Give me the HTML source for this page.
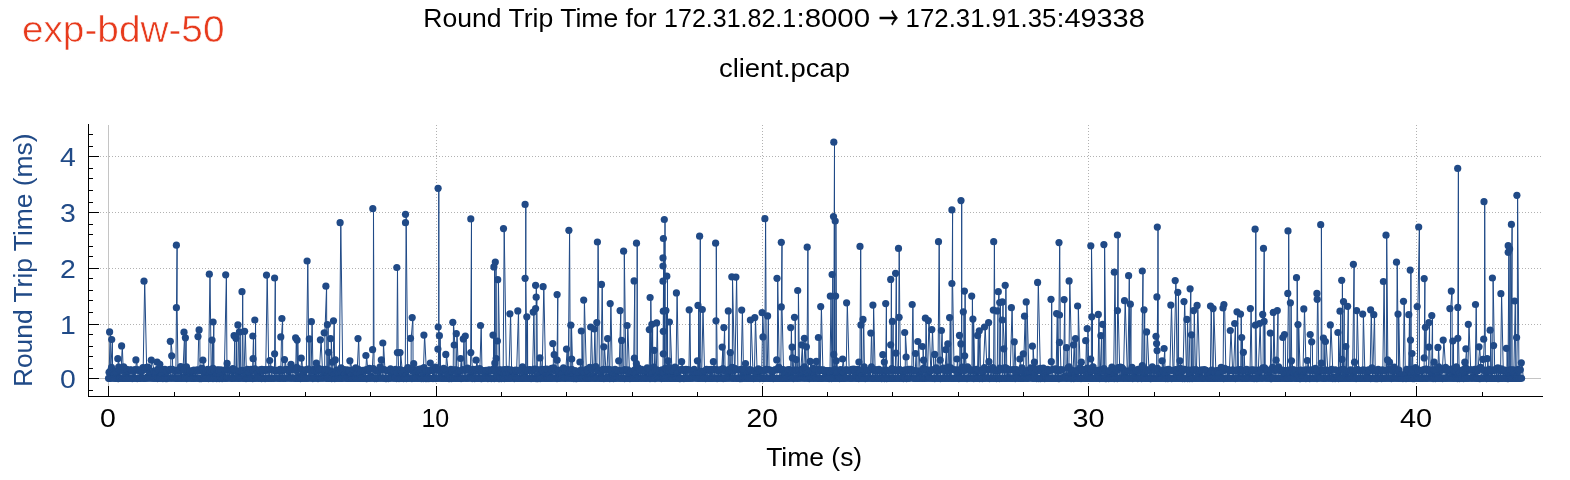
<!DOCTYPE html><html><head><meta charset="utf-8"><title>Round Trip Time</title><style>html,body{margin:0;padding:0;background:#fff}svg{display:block;will-change:transform}text{font-family:"Liberation Sans",sans-serif}</style></head><body>
<svg width="1570" height="480" viewBox="0 0 1570 480">
<rect width="1570" height="480" fill="#fff"/>
<g stroke="#b2b2b2" stroke-width="1" stroke-dasharray="1 2" fill="none" shape-rendering="crispEdges">
<line x1="100" y1="324.5" x2="1541" y2="324.5"/>
<line x1="100" y1="268.5" x2="1541" y2="268.5"/>
<line x1="100" y1="212.5" x2="1541" y2="212.5"/>
<line x1="100" y1="156.5" x2="1541" y2="156.5"/>
<line x1="436.5" y1="125" x2="436.5" y2="386"/>
<line x1="762.5" y1="125" x2="762.5" y2="386"/>
<line x1="1088.5" y1="125" x2="1088.5" y2="386"/>
<line x1="1416.5" y1="125" x2="1416.5" y2="386"/>
</g>
<g stroke="#c4c4c4" stroke-width="1" shape-rendering="crispEdges"><line x1="108.5" y1="125" x2="108.5" y2="386"/>
<line x1="99" y1="378.5" x2="1541" y2="378.5"/></g>
<polyline points="108.2,379.1 109.6,331.9 109.6,378.7 111.7,339.5 111.9,377.5 112.5,378.9 112.9,378.0 113.4,372.3 113.7,378.2 114.2,374.6 114.9,378.0 115.7,371.2 115.7,378.4 116.0,378.9 117.8,358.7 119.4,377.6 119.5,378.1 120.0,378.1 121.6,345.9 122.8,377.7 123.4,378.3 123.7,366.9 124.2,378.0 125.0,378.4 125.5,375.3 126.0,378.2 126.7,369.3 127.0,378.3 127.9,378.5 128.2,371.1 129.0,378.1 130.1,378.3 130.3,369.7 131.3,370.1 131.3,378.5 132.2,378.6 132.3,370.8 132.9,378.2 133.9,371.3 134.0,378.9 135.9,359.9 137.6,378.6 138.1,378.4 138.7,369.8 139.2,378.4 139.8,371.1 140.1,378.5 140.7,370.5 141.4,378.3 142.0,371.1 142.3,378.9 144.0,281.2 146.2,378.4 146.7,367.4 146.9,378.0 147.4,376.9 147.9,378.1 148.0,367.0 148.6,378.0 149.8,373.0 149.8,378.0 150.0,378.0 151.3,360.2 153.5,371.1 153.5,377.5 154.1,378.5 155.3,378.1 155.7,373.3 155.8,379.2 157.1,362.2 158.0,378.9 159.0,378.6 159.8,364.3 162.0,378.2 162.2,374.3 162.9,378.6 163.1,369.5 164.1,378.3 164.9,369.4 165.1,378.4 165.9,378.6 166.1,371.1 167.0,378.6 167.2,371.2 168.2,378.2 168.8,377.9 170.0,377.8 170.3,341.3 171.7,355.8 172.2,377.5 173.7,378.7 174.0,370.3 174.2,378.0 174.3,377.6 175.1,379.3 176.4,245.2 176.4,307.7 177.4,378.3 178.6,378.2 179.2,378.3 179.8,370.1 180.2,378.0 180.6,366.6 180.9,378.2 181.8,378.5 182.0,377.6 184.0,332.2 184.3,378.2 185.4,337.8 185.7,379.2 186.3,377.3 186.5,366.7 186.7,378.6 187.8,378.1 188.3,370.6 188.7,378.1 189.7,371.2 189.9,378.3 190.3,371.0 191.0,378.2 191.8,371.3 191.9,378.5 192.7,370.8 193.2,378.5 193.9,370.0 194.3,378.5 195.4,370.6 195.5,378.1 196.5,379.2 197.0,378.5 198.0,336.6 199.1,329.9 199.4,378.1 201.1,377.8 201.5,378.6 201.6,378.1 202.9,360.2 204.4,378.6 205.3,378.5 205.5,370.9 206.3,378.4 207.4,378.0 207.6,369.3 207.7,378.5 209.3,274.2 210.6,379.3 210.7,378.1 210.9,377.3 212.0,340.1 212.2,379.0 213.1,322.0 213.3,377.5 214.5,378.7 215.3,378.5 216.1,375.5 216.1,378.0 216.8,378.6 217.3,369.7 218.0,378.1 218.5,370.0 219.1,370.4 219.2,378.6 219.8,375.6 220.3,378.2 220.9,369.7 221.3,378.0 222.1,378.6 222.8,375.3 223.1,378.3 223.5,378.5 225.7,274.8 226.3,377.8 227.1,363.4 227.8,378.5 228.5,378.5 229.1,370.1 229.3,378.0 230.6,378.2 230.7,369.9 231.6,378.4 231.9,371.1 232.8,368.5 232.8,378.2 233.2,378.1 234.1,335.7 234.5,378.8 235.7,378.3 235.9,338.3 236.2,378.5 236.9,378.9 237.1,377.4 237.9,324.9 238.9,379.0 239.4,331.9 240.2,379.1 241.3,379.1 242.0,291.7 242.5,378.5 243.2,379.0 244.6,331.3 245.8,378.1 246.0,378.6 246.5,370.8 247.0,378.4 247.3,369.4 248.0,378.3 249.1,378.3 249.2,372.6 250.1,378.3 251.0,369.3 251.4,378.4 251.5,378.4 251.6,378.5 252.8,336.0 253.1,358.7 253.2,377.4 254.7,378.0 254.8,320.0 255.3,379.1 257.1,378.2 257.3,378.0 258.4,376.9 258.4,378.5 259.4,369.9 259.7,378.1 260.4,370.4 260.8,378.4 261.6,378.6 261.8,369.3 262.9,370.9 262.9,378.1 264.1,378.2 264.9,379.2 266.5,275.1 268.2,378.4 268.4,378.5 269.7,360.5 271.5,378.7 271.7,378.4 272.4,377.9 273.7,377.4 274.6,278.0 274.6,353.8 275.4,379.1 276.6,378.6 277.3,378.1 278.1,378.2 278.6,371.0 278.8,378.1 280.0,378.5 280.8,336.9 281.9,318.5 282.0,377.8 282.8,378.9 283.5,378.0 284.5,359.6 286.7,379.2 287.7,369.4 287.9,378.0 288.5,371.2 289.1,378.3 289.8,369.7 289.8,378.1 291.0,364.3 292.6,378.0 292.9,378.0 293.6,378.4 294.9,377.8 295.6,337.8 296.7,378.8 297.1,340.1 297.9,378.3 298.5,378.5 298.8,376.0 299.0,379.0 301.2,358.2 302.2,378.1 303.4,378.2 303.6,374.4 304.4,378.4 305.4,370.6 305.5,377.4 307.1,261.0 308.3,377.9 309.3,338.9 309.3,378.0 309.7,378.9 310.3,378.7 311.4,321.7 312.4,378.3 312.8,378.6 313.8,369.4 313.9,378.1 314.6,371.1 314.8,378.2 315.3,378.9 316.3,363.1 318.2,377.8 318.3,377.7 320.4,339.8 322.1,377.5 322.4,377.3 323.9,379.0 324.2,332.8 325.9,286.2 326.1,379.1 326.2,378.8 326.8,379.0 327.4,324.6 327.7,379.3 328.6,352.3 329.4,378.4 329.5,377.9 330.3,377.8 330.4,378.4 330.6,338.6 331.7,378.9 331.8,377.6 332.4,362.2 333.5,320.8 334.0,377.9 334.5,378.7 334.5,378.8 335.3,359.9 336.2,378.8 336.4,370.3 337.1,378.0 337.6,370.0 338.1,378.3 338.5,373.4 338.6,377.6 340.1,222.7 342.1,377.5 342.8,378.1 343.0,370.6 343.6,378.0 344.0,369.5 344.5,378.0 345.0,374.1 345.7,378.3 346.4,371.1 346.7,378.4 347.1,369.7 347.9,378.3 348.6,377.6 349.9,360.8 352.0,377.4 352.3,378.0 353.2,378.5 353.3,369.9 354.0,378.5 355.2,371.1 355.3,378.3 355.8,367.7 356.1,378.6 358.0,338.6 358.9,377.5 359.1,378.1 360.0,373.2 360.0,378.5 360.9,371.2 360.9,378.3 361.6,378.0 362.4,378.4 363.1,370.2 363.6,378.4 364.4,378.3 364.5,371.1 364.7,379.0 365.9,355.5 367.7,378.1 367.9,370.9 368.3,378.0 368.7,369.9 369.2,378.5 369.5,368.3 370.5,378.3 370.8,378.9 371.1,378.0 372.6,349.7 372.8,208.7 373.4,377.8 374.7,378.4 374.7,378.6 375.3,370.4 375.5,378.5 376.5,378.6 376.6,370.8 377.6,378.1 378.6,371.2 378.9,378.3 379.5,378.1 381.3,359.9 381.6,377.7 382.3,377.9 382.8,343.0 384.7,378.0 385.5,370.2 385.5,378.6 386.6,378.6 387.5,378.2 387.6,370.7 388.4,378.6 388.8,370.9 389.5,378.2 390.4,378.1 390.5,368.7 391.2,378.0 391.7,375.3 392.4,378.1 393.6,378.1 393.7,370.4 394.5,378.3 395.3,378.2 395.6,378.6 396.0,379.2 396.8,267.5 397.4,352.6 398.3,377.8 398.9,378.3 399.6,378.2 400.0,352.6 402.1,377.8 402.5,373.5 402.8,378.2 403.6,378.6 404.1,378.3 404.5,378.8 405.5,214.3 405.5,222.7 407.1,377.6 407.8,367.5 407.8,378.1 408.1,378.3 408.4,378.1 410.4,379.1 410.5,338.3 412.2,317.6 412.4,377.9 412.6,377.5 413.7,363.7 414.1,378.6 415.3,378.2 415.5,378.1 416.4,378.3 417.3,370.9 417.6,378.5 418.3,369.4 418.5,378.2 419.6,378.2 419.8,370.3 420.5,378.0 421.0,368.9 421.3,378.6 422.1,378.3 422.4,379.1 423.9,335.1 426.1,379.2 427.0,378.6 427.1,371.1 427.8,378.0 428.5,371.3 428.8,377.6 430.3,363.1 432.5,379.1 432.7,370.8 433.0,378.6 433.4,369.5 433.9,378.0 434.7,378.3 435.5,367.0 435.8,378.6 436.1,378.1 436.2,378.8 437.3,378.9 437.9,349.1 438.0,378.9 438.1,188.3 438.2,327.0 439.3,378.2 439.4,335.7 440.0,379.3 440.2,378.0 440.5,378.8 440.8,371.3 441.5,378.4 442.4,370.6 442.4,378.0 443.3,378.4 443.6,368.4 444.4,378.0 444.9,377.7 445.8,354.4 448.1,378.1 448.7,378.6 449.8,378.6 450.0,375.7 450.8,378.1 450.9,369.3 451.4,379.1 452.5,377.5 452.8,322.3 454.2,345.0 454.5,379.2 454.7,378.2 455.5,377.4 456.3,333.7 458.0,379.3 458.3,378.4 458.7,371.2 459.2,378.1 460.6,358.5 461.1,378.4 461.9,377.6 463.3,338.9 464.1,378.3 465.0,378.2 465.3,336.0 466.6,378.2 467.0,378.4 467.6,368.0 468.3,378.1 468.5,377.7 469.8,378.9 470.8,218.9 470.8,352.6 472.1,379.1 472.4,377.4 473.0,369.3 473.4,378.5 474.5,370.6 474.7,378.6 474.9,378.2 476.1,360.2 478.1,378.4 478.5,370.8 478.5,378.2 478.9,377.4 480.5,325.5 481.4,378.6 481.8,378.6 482.0,371.0 482.6,378.2 483.5,370.6 483.8,378.5 484.8,378.0 485.5,373.8 485.8,378.2 486.2,370.3 487.0,378.1 487.9,378.6 488.2,370.4 488.7,378.2 489.4,369.8 489.8,378.5 490.6,378.0 491.2,379.1 492.6,378.4 493.0,335.1 493.4,377.9 493.7,378.3 493.9,266.9 494.4,378.9 494.8,363.1 494.8,378.6 495.1,377.7 495.3,262.1 495.7,377.4 495.9,378.0 496.0,378.1 496.2,358.5 497.0,378.2 497.3,378.9 497.4,341.0 497.7,279.7 499.3,378.9 499.5,378.4 499.6,378.6 499.8,370.9 500.3,378.1 500.9,369.7 501.3,378.6 501.6,371.2 502.4,378.6 503.5,228.6 505.8,378.4 505.9,374.3 506.3,378.5 507.4,369.3 507.5,378.4 508.1,378.0 509.9,313.8 510.9,369.9 510.9,377.8 511.2,378.1 512.0,378.0 512.4,370.9 513.0,378.2 513.3,370.9 514.3,378.6 514.8,375.9 515.4,370.1 515.6,378.1 515.7,378.2 517.8,310.9 518.6,379.0 519.2,371.0 519.2,378.4 520.3,378.5 521.4,371.2 521.5,378.4 522.3,378.5 522.5,366.8 523.1,377.9 523.2,378.7 524.9,378.9 525.1,204.4 525.1,278.3 526.3,378.0 526.8,316.8 527.0,377.8 528.5,379.3 529.2,369.6 529.2,378.3 530.0,378.5 530.9,369.8 531.1,378.6 531.8,377.3 533.2,312.1 534.3,377.4 534.3,378.9 534.8,378.1 535.5,379.1 535.6,285.3 535.6,308.6 536.2,297.2 536.7,378.4 537.2,378.8 537.7,378.8 538.0,378.6 538.7,369.8 538.8,377.3 539.9,357.9 541.3,378.6 541.4,377.8 543.1,286.7 545.0,378.2 545.6,375.9 545.6,378.0 546.5,378.4 546.9,369.0 547.3,378.2 548.1,378.5 548.8,370.9 549.2,378.0 549.6,374.9 549.9,378.2 550.9,377.7 550.9,378.4 552.5,377.7 552.8,343.6 554.2,354.7 554.6,378.4 555.4,378.8 555.8,378.0 556.1,377.9 557.1,294.6 557.1,360.2 558.0,378.8 558.2,377.5 558.3,378.2 558.4,370.0 559.0,370.9 559.1,378.5 559.9,378.0 560.4,376.5 561.1,378.2 561.8,373.8 562.3,378.2 563.4,367.9 563.6,378.3 564.4,378.0 564.6,377.5 566.5,349.1 567.3,379.1 567.5,377.8 568.9,230.3 569.6,378.7 570.1,379.2 570.5,379.2 570.8,325.2 571.7,359.0 572.7,378.4 573.9,377.3 574.7,370.7 575.2,378.3 575.7,370.7 575.9,378.6 576.8,378.6 577.0,376.6 577.9,378.5 578.6,373.3 578.6,377.7 579.2,379.0 579.9,362.0 581.2,378.2 581.3,331.0 582.1,377.9 582.5,378.3 582.6,370.5 582.9,377.8 583.7,300.1 585.8,377.7 586.5,378.5 586.6,369.3 587.3,371.2 587.3,378.5 588.0,378.4 588.2,371.2 589.1,378.4 589.7,377.5 590.7,327.0 592.1,377.7 592.1,378.3 592.4,369.5 593.0,378.2 594.2,329.0 595.2,378.4 595.2,378.7 595.9,377.9 596.8,322.6 597.4,242.0 598.8,378.0 599.4,378.3 599.6,378.3 600.2,379.1 601.5,284.4 602.5,378.5 602.9,379.1 603.8,346.8 605.7,378.4 606.0,377.4 607.6,338.6 608.8,379.0 608.9,378.6 610.2,303.6 611.7,377.7 611.8,378.0 612.7,378.5 613.0,375.1 613.5,378.6 614.4,378.5 615.1,369.2 615.2,378.3 615.8,375.5 616.4,378.1 617.0,379.3 618.2,377.8 618.7,360.8 620.1,310.6 620.1,377.7 620.6,377.6 621.0,377.5 621.6,340.4 622.7,379.0 623.2,378.9 623.6,251.2 625.3,377.6 625.6,378.4 626.0,378.2 627.1,325.5 629.0,379.2 629.1,378.5 629.9,378.6 631.0,378.2 631.1,371.2 632.2,377.7 632.8,379.2 634.1,280.9 634.2,379.0 634.4,358.2 634.6,377.5 635.5,378.0 636.4,363.7 636.5,243.2 636.5,378.4 637.4,378.8 638.2,379.2 638.4,378.4 639.4,378.3 639.9,371.1 640.6,378.0 641.5,378.4 641.7,369.4 642.2,378.0 643.1,378.0 643.6,370.5 644.0,378.1 644.8,371.2 645.0,378.4 645.7,370.6 645.9,378.4 646.9,378.0 647.2,367.7 648.1,378.1 648.3,378.7 648.3,378.8 649.3,329.6 649.7,378.9 650.1,297.5 651.3,377.9 651.5,377.4 651.9,324.3 652.2,378.4 653.3,378.2 654.2,350.3 655.1,379.0 655.5,377.4 656.6,322.9 657.5,378.7 657.9,375.5 658.4,378.2 658.8,371.2 659.2,378.0 660.4,370.6 660.4,378.0 661.3,377.4 661.4,377.6 661.6,377.6 661.6,379.2 662.1,377.6 662.1,378.1 662.1,378.8 662.2,378.2 663.0,257.9 663.0,266.0 663.0,281.2 663.3,311.2 663.3,331.3 663.3,353.8 663.4,238.5 663.6,379.2 664.2,379.3 664.3,219.5 664.4,379.1 664.5,379.1 664.9,378.5 664.9,378.7 665.1,377.4 665.1,378.1 665.2,378.5 665.3,379.2 665.9,310.6 666.7,378.3 666.8,276.2 666.9,379.0 667.7,378.3 668.2,360.8 668.4,378.1 669.2,378.9 669.4,322.0 671.5,377.8 671.6,378.1 672.3,378.1 672.4,370.9 673.0,378.2 674.1,369.2 674.2,378.4 675.0,367.0 675.2,378.6 676.4,292.9 677.9,378.4 678.2,378.1 679.3,378.6 679.5,378.3 681.6,361.7 683.2,379.3 683.9,378.6 684.0,370.7 684.8,369.7 684.8,378.1 686.0,369.4 686.0,378.4 687.0,369.8 687.1,378.4 688.1,378.0 689.2,309.8 690.0,377.9 690.3,370.2 690.8,378.3 692.0,378.3 692.3,375.4 692.8,378.1 693.9,378.0 694.2,369.3 695.2,378.1 695.5,374.4 695.9,378.0 696.4,377.4 696.5,378.7 697.4,360.8 697.7,378.8 698.0,305.4 698.8,379.1 699.6,236.2 700.1,378.8 700.7,378.9 700.9,377.7 702.3,309.5 704.0,377.6 704.4,371.0 704.4,378.0 705.6,378.6 706.5,369.4 706.8,378.0 707.7,378.0 708.4,378.5 708.6,369.7 709.5,369.6 709.6,378.4 710.2,371.1 710.8,378.4 711.6,369.4 711.6,378.0 712.1,378.9 713.4,361.7 714.1,378.9 714.6,377.5 715.4,379.3 715.6,243.2 716.0,320.8 716.7,378.7 717.8,378.3 718.0,370.8 718.1,378.5 719.1,378.0 719.4,370.2 720.1,378.3 720.6,378.6 722.2,347.1 722.2,378.8 723.9,327.6 724.4,378.6 725.4,378.4 725.6,378.5 725.8,370.5 726.9,378.0 727.3,378.1 728.3,310.9 728.7,378.1 729.7,378.2 730.3,352.6 730.4,377.5 731.6,378.2 731.8,276.8 734.0,378.2 734.1,377.3 735.9,277.1 737.3,378.5 737.7,378.4 738.0,369.7 738.7,378.2 739.6,378.6 740.1,370.1 740.3,377.3 740.3,378.6 741.7,310.1 742.9,378.2 742.9,379.0 743.1,369.7 743.3,378.2 745.5,363.7 746.7,377.9 747.4,372.9 747.4,378.2 748.3,378.1 748.8,371.1 749.5,369.6 749.5,378.4 749.5,379.0 750.4,320.0 752.5,377.8 752.6,378.0 753.0,371.0 753.6,378.6 753.6,378.9 754.8,317.6 756.6,378.2 757.2,373.6 757.3,378.1 758.2,378.3 758.3,368.9 759.0,378.2 759.5,371.0 759.8,378.6 760.7,378.9 760.9,378.5 762.1,312.7 763.0,336.9 763.0,377.6 763.3,379.0 764.0,379.3 764.9,218.7 765.7,378.9 766.4,377.4 767.6,315.9 768.5,378.6 769.1,378.4 769.6,369.7 770.1,378.4 770.8,370.6 771.1,378.0 771.5,370.5 772.2,378.2 772.9,370.9 773.3,378.6 773.5,370.6 774.3,378.4 775.2,379.2 776.1,378.1 776.7,359.9 777.0,278.3 778.7,377.8 778.8,378.5 779.1,377.5 780.0,377.9 781.3,242.3 781.3,306.9 783.0,378.2 783.2,377.8 783.5,369.8 783.8,378.4 784.2,374.1 784.7,378.2 785.4,375.0 785.7,378.4 786.6,378.4 787.5,369.9 787.9,378.1 788.7,378.7 789.9,378.0 790.7,327.6 791.4,378.5 791.8,378.0 792.1,347.1 792.4,357.9 793.2,377.5 793.8,378.6 794.3,378.5 794.5,317.3 795.1,378.5 795.4,378.4 796.1,378.5 796.2,359.6 797.5,379.1 797.7,290.5 798.9,377.9 799.7,374.8 799.7,377.8 801.7,344.8 802.2,377.7 802.7,378.2 804.4,338.3 805.3,378.1 805.4,377.6 805.8,378.1 806.4,346.8 807.2,247.2 807.7,378.8 808.0,379.1 808.7,378.8 810.2,361.4 811.6,377.8 812.2,378.0 812.5,370.2 813.4,368.1 813.4,378.5 814.0,378.7 816.3,361.4 817.2,379.1 817.9,378.1 818.4,337.5 818.9,378.4 819.4,378.0 820.7,306.6 822.2,370.4 822.2,377.7 822.5,378.2 823.0,369.7 823.4,378.2 824.0,370.3 824.2,378.0 825.3,378.1 825.7,375.7 826.2,378.2 826.7,370.5 827.1,378.2 828.2,378.4 828.4,371.1 829.1,378.6 829.2,378.7 830.3,296.1 831.3,378.2 831.6,378.4 832.1,274.5 832.3,378.9 832.5,377.9 832.5,378.9 833.1,377.5 833.5,216.6 833.8,142.2 833.8,354.4 834.0,377.4 834.5,377.8 834.6,378.4 834.6,378.4 835.0,377.9 835.2,221.0 835.6,296.1 835.8,378.7 836.2,360.8 836.8,378.9 837.0,377.4 837.6,379.3 838.4,376.7 838.7,378.2 839.5,378.6 840.4,369.6 840.7,377.4 842.6,359.0 843.9,379.3 844.2,372.5 844.3,378.5 845.4,377.5 846.6,302.8 848.7,378.6 849.0,378.3 849.7,371.1 849.9,378.1 850.6,378.3 851.4,378.3 851.8,369.4 852.2,378.3 853.1,369.8 853.2,378.3 853.8,369.0 854.4,378.0 854.6,370.5 855.6,378.3 855.7,375.8 856.6,378.4 857.5,369.4 857.6,377.9 858.9,362.0 858.9,379.3 859.1,377.8 860.0,246.4 860.7,378.5 860.9,324.9 861.0,377.5 862.0,378.6 862.1,377.5 863.0,319.4 863.9,378.0 864.2,366.9 864.2,378.3 865.2,371.1 865.2,378.6 865.9,378.5 867.0,378.2 867.3,371.2 868.2,378.2 868.8,370.2 869.2,378.3 869.7,379.2 870.8,333.1 871.9,378.6 872.3,377.8 872.9,305.1 874.6,378.3 875.0,378.3 875.2,369.9 876.1,369.9 876.3,378.4 877.0,370.9 877.5,378.2 878.4,378.2 879.0,369.2 879.4,378.4 880.6,378.0 880.8,371.1 881.7,377.5 881.7,378.6 882.8,354.7 883.1,378.3 883.8,378.2 884.3,362.0 884.9,377.6 885.7,303.6 885.9,378.4 887.8,377.4 888.1,371.1 888.7,377.9 889.0,377.6 890.3,377.5 890.7,279.4 890.7,344.8 891.5,377.6 892.4,321.4 892.7,377.9 893.6,377.6 894.2,378.7 894.6,377.6 895.6,273.3 895.9,353.2 896.9,378.1 897.0,378.6 897.4,378.2 897.5,378.4 897.7,377.5 898.5,248.4 899.1,317.3 899.9,378.4 901.1,378.0 901.6,378.0 902.0,370.6 902.4,378.5 902.5,379.1 904.5,378.4 904.7,332.5 906.1,357.0 906.8,378.8 908.1,377.5 908.3,378.4 908.7,369.3 909.2,378.1 909.9,378.0 910.6,369.3 911.0,378.0 911.0,379.1 912.2,304.5 913.1,377.9 913.5,378.0 914.1,377.5 915.5,353.5 915.8,379.1 917.1,378.7 917.8,341.5 919.8,377.9 920.1,375.0 920.1,378.3 921.4,378.7 922.3,379.0 922.4,346.5 923.4,377.9 923.6,360.2 924.3,378.0 924.6,378.2 925.4,318.2 926.4,378.0 926.7,378.3 928.3,320.6 930.4,378.7 930.4,378.8 931.8,329.6 933.4,379.1 933.9,378.4 934.7,354.4 935.9,378.9 936.0,378.3 936.1,367.7 936.9,378.0 937.2,377.7 938.5,241.7 939.3,378.4 939.4,379.2 939.8,378.4 940.2,360.2 941.4,330.5 942.2,378.4 942.8,377.5 943.5,368.1 943.6,377.6 945.8,349.7 946.0,378.7 946.8,378.6 947.8,343.9 948.7,377.8 949.6,317.6 949.8,379.2 950.3,378.8 950.4,378.9 950.9,378.8 951.9,209.9 951.9,283.5 953.5,377.6 954.1,378.1 954.5,370.1 954.5,378.4 955.4,379.2 956.9,359.0 957.7,378.8 958.1,378.9 958.9,379.1 959.5,335.4 959.5,378.9 960.8,378.3 960.9,343.9 961.0,200.6 961.1,379.1 962.2,378.7 962.6,378.4 962.8,378.0 962.9,377.6 963.3,311.8 964.1,378.7 964.4,291.1 964.7,355.8 966.5,378.0 966.7,379.3 967.0,378.6 967.6,366.7 968.1,378.3 969.1,378.1 969.7,369.4 969.9,377.5 969.9,378.1 971.2,377.8 971.7,296.1 972.6,377.5 972.9,319.1 974.2,378.2 974.4,369.5 974.7,378.0 975.7,369.8 975.8,378.5 976.5,369.4 976.6,378.4 976.7,379.0 977.6,335.4 977.8,378.5 979.3,330.8 979.8,378.4 980.6,378.0 981.4,378.5 981.8,370.4 982.2,378.8 984.5,327.0 986.7,379.0 987.0,378.3 987.3,369.5 987.5,379.0 987.7,378.0 988.6,322.6 988.9,361.7 989.6,377.6 991.2,369.9 991.2,378.0 991.2,379.2 992.2,377.3 992.8,377.9 993.3,310.1 993.7,241.7 994.4,377.8 995.3,378.6 995.5,377.9 996.5,378.2 997.1,310.9 998.3,291.7 998.5,378.2 998.8,378.8 999.7,302.5 1000.2,378.2 1000.3,377.7 1000.6,378.5 1001.2,379.1 1001.9,377.5 1002.3,301.9 1002.3,320.0 1003.8,348.8 1003.8,377.8 1003.9,378.5 1004.4,379.0 1005.2,285.3 1006.1,377.3 1006.5,377.5 1006.6,368.3 1006.8,378.4 1007.9,378.0 1008.0,370.0 1008.8,378.1 1009.3,379.1 1011.4,307.7 1012.7,378.0 1012.8,369.8 1013.0,379.2 1014.3,341.8 1015.4,378.5 1015.7,373.1 1016.4,369.5 1016.5,378.0 1017.3,373.5 1017.4,378.0 1017.8,378.4 1019.8,359.0 1020.7,378.5 1020.7,378.8 1021.0,377.5 1022.2,379.2 1023.3,353.8 1024.5,316.2 1025.4,377.8 1025.5,378.0 1026.1,377.8 1026.2,301.9 1028.4,378.4 1029.1,378.2 1029.5,371.2 1030.4,378.0 1030.7,367.7 1031.1,379.2 1032.3,378.9 1032.4,346.2 1034.1,379.2 1034.4,362.0 1035.6,377.3 1036.1,369.3 1036.2,377.8 1037.6,282.4 1039.8,378.0 1040.2,368.2 1040.4,378.6 1041.2,378.5 1041.4,371.2 1042.1,378.0 1042.8,378.5 1043.3,368.1 1043.8,378.1 1044.2,374.0 1044.7,378.6 1045.6,378.3 1045.9,376.0 1046.3,378.1 1047.5,378.4 1047.7,369.2 1048.3,378.0 1049.1,378.4 1049.3,378.7 1050.4,377.4 1051.0,299.3 1051.3,361.7 1052.2,378.6 1053.5,378.7 1053.8,378.5 1054.8,370.0 1054.8,378.5 1055.3,377.5 1056.6,313.6 1057.0,378.9 1057.2,378.6 1057.3,377.8 1057.6,379.3 1059.0,242.6 1059.5,315.0 1059.5,342.4 1060.5,379.2 1061.1,378.3 1061.4,378.2 1061.4,379.0 1062.2,378.2 1062.4,369.8 1062.7,379.0 1064.1,299.6 1064.4,378.4 1065.7,377.7 1066.5,347.7 1067.3,378.4 1067.6,378.2 1067.8,368.1 1068.1,378.2 1069.1,280.9 1071.3,377.7 1071.7,370.1 1072.1,378.2 1073.5,344.8 1074.6,377.6 1075.2,377.3 1075.5,338.6 1075.6,379.1 1077.4,377.8 1077.6,306.0 1079.7,377.6 1080.0,367.7 1080.3,378.4 1080.5,378.5 1081.3,362.2 1083.2,378.0 1083.9,378.1 1084.7,378.2 1084.9,377.5 1084.9,377.8 1085.7,340.7 1087.1,378.5 1087.2,328.7 1088.3,378.7 1088.5,378.5 1089.3,375.3 1089.5,378.3 1089.7,378.2 1090.4,377.9 1090.7,359.0 1090.8,245.8 1091.8,316.8 1091.8,379.3 1092.1,377.6 1093.7,378.9 1093.9,378.1 1094.4,370.7 1094.8,378.3 1096.1,378.5 1096.2,371.2 1097.1,376.1 1097.2,378.6 1098.3,314.4 1098.7,378.8 1099.3,378.2 1100.9,335.7 1101.2,378.5 1101.9,378.6 1102.4,378.7 1102.6,324.3 1103.6,378.8 1103.9,244.6 1105.4,378.5 1105.6,371.0 1106.4,378.6 1106.9,376.6 1107.5,378.5 1108.7,378.6 1108.8,370.8 1109.4,378.4 1109.8,370.9 1110.3,378.4 1111.2,378.3 1111.9,367.0 1112.4,378.4 1112.9,378.2 1114.3,272.2 1115.3,378.4 1115.4,378.4 1116.4,378.8 1117.4,235.0 1117.5,310.6 1119.2,377.8 1119.7,378.0 1120.0,378.0 1120.4,367.0 1120.8,378.2 1121.8,378.2 1121.9,367.6 1122.6,378.0 1122.7,378.1 1124.5,300.7 1126.8,379.2 1126.9,378.3 1127.1,379.0 1128.6,275.7 1129.0,377.4 1130.3,304.2 1130.4,377.7 1132.6,377.9 1132.7,378.6 1133.6,378.3 1134.1,372.2 1134.6,378.1 1135.6,370.3 1135.9,378.2 1136.4,370.6 1137.0,378.1 1137.8,378.6 1138.1,369.2 1138.7,378.0 1139.7,378.3 1139.8,369.2 1140.5,377.4 1140.8,378.6 1142.3,271.0 1142.3,365.7 1142.6,378.4 1143.1,377.4 1144.0,309.8 1144.2,379.2 1144.8,378.6 1145.5,378.1 1146.6,331.9 1148.7,379.2 1149.1,378.5 1149.2,371.2 1150.3,378.6 1150.4,369.3 1151.0,378.6 1151.8,378.5 1152.3,366.9 1152.8,378.3 1154.1,369.5 1154.1,378.4 1154.6,377.8 1154.7,378.4 1154.8,377.4 1155.4,377.5 1155.9,378.1 1156.0,336.3 1156.6,343.6 1156.9,296.9 1157.1,350.6 1157.3,227.1 1157.4,377.9 1157.7,377.8 1158.5,377.9 1158.9,378.2 1159.1,378.9 1159.2,375.7 1159.8,379.1 1162.1,360.8 1162.2,377.4 1164.1,348.5 1164.3,378.8 1165.1,379.0 1165.5,374.2 1165.8,378.6 1166.4,369.7 1166.7,378.5 1167.9,378.6 1168.4,369.4 1168.7,378.2 1169.0,377.9 1170.8,305.1 1172.5,377.8 1172.9,378.3 1173.0,377.3 1175.2,280.6 1176.5,379.3 1176.8,378.0 1177.8,292.3 1177.9,378.1 1178.7,379.1 1179.9,360.8 1180.7,377.5 1181.4,378.4 1181.5,372.4 1182.1,378.9 1184.0,301.6 1185.9,377.5 1186.0,378.9 1186.9,319.4 1187.7,379.0 1188.1,377.8 1190.1,288.8 1190.5,377.3 1191.5,334.8 1191.7,379.0 1192.2,378.9 1192.8,379.3 1193.6,310.6 1194.8,379.2 1195.6,378.5 1197.1,305.4 1199.1,379.2 1200.0,378.2 1200.1,370.6 1201.1,378.0 1201.5,369.8 1202.0,378.5 1203.0,378.4 1203.6,370.2 1203.8,378.3 1204.4,369.5 1204.9,378.1 1206.0,378.3 1206.1,370.4 1207.2,378.4 1208.2,378.0 1208.3,375.6 1209.0,378.5 1209.6,377.8 1210.5,306.0 1211.8,377.4 1212.4,377.9 1213.1,308.6 1215.4,378.1 1215.4,378.2 1216.3,378.0 1216.8,370.5 1217.5,378.4 1217.7,370.7 1218.5,370.6 1218.5,378.3 1219.1,373.9 1219.4,378.0 1220.6,378.4 1221.1,367.4 1221.9,378.3 1222.0,378.3 1222.3,378.0 1223.0,308.0 1223.9,304.5 1225.3,378.7 1225.9,378.1 1226.2,378.5 1226.8,369.6 1227.0,378.4 1228.2,369.9 1228.3,378.3 1228.4,379.1 1230.3,330.5 1232.2,377.9 1232.6,378.3 1232.6,378.4 1234.7,323.5 1235.3,377.5 1236.6,378.1 1237.0,311.8 1237.9,377.9 1238.6,370.9 1238.7,378.0 1239.5,378.7 1240.0,378.7 1240.5,314.1 1241.4,378.8 1241.7,337.5 1241.7,378.4 1242.8,379.0 1243.4,352.3 1244.5,378.1 1245.0,370.5 1245.2,378.5 1246.0,378.3 1246.7,369.3 1247.2,378.5 1247.9,376.8 1248.0,378.2 1249.1,378.2 1249.2,379.0 1250.4,308.6 1251.4,378.6 1251.7,378.3 1252.0,370.7 1252.5,378.3 1252.9,377.8 1254.5,378.4 1255.1,229.2 1255.4,325.2 1256.2,378.3 1256.7,370.1 1256.7,378.3 1256.9,378.6 1257.3,378.6 1259.5,323.5 1260.7,377.3 1261.2,378.5 1261.5,377.5 1262.3,377.3 1262.7,314.4 1263.5,248.4 1264.0,379.3 1264.1,321.4 1264.5,377.7 1265.1,378.3 1265.9,369.7 1265.9,378.2 1266.5,370.0 1266.9,378.2 1267.1,370.8 1267.6,378.2 1268.3,370.5 1268.5,378.0 1269.2,375.4 1269.5,378.1 1270.3,333.1 1271.5,377.7 1271.7,378.6 1272.4,377.8 1273.2,312.4 1274.4,377.9 1274.7,377.9 1275.2,378.3 1276.1,360.2 1277.3,310.6 1277.4,377.3 1279.2,377.3 1279.5,378.0 1280.7,378.5 1280.8,371.0 1281.7,378.2 1282.5,377.5 1282.8,337.5 1284.5,334.5 1285.0,377.7 1286.2,377.9 1286.2,378.5 1286.6,378.3 1287.8,293.4 1288.0,230.9 1288.8,378.5 1289.3,378.8 1289.5,379.0 1289.7,378.1 1290.4,302.8 1291.2,379.0 1291.5,360.8 1292.4,377.6 1292.7,378.0 1293.0,369.6 1293.5,378.0 1293.6,372.6 1294.7,378.1 1294.8,370.3 1295.2,379.0 1296.0,379.2 1296.5,277.7 1297.6,378.9 1298.0,324.6 1299.4,371.0 1299.4,377.8 1299.6,378.6 1300.3,370.0 1300.5,378.6 1301.5,370.4 1301.7,378.5 1302.1,377.8 1303.8,308.9 1305.6,378.1 1305.9,378.6 1306.3,377.7 1307.3,360.5 1309.0,378.6 1309.3,377.6 1309.6,377.7 1310.2,334.5 1311.7,341.8 1312.0,378.3 1313.6,378.4 1314.1,378.4 1314.5,369.3 1315.2,378.1 1315.4,368.4 1315.8,377.6 1315.9,378.6 1316.9,293.4 1317.2,299.3 1318.1,377.5 1319.3,377.5 1319.6,378.4 1320.4,378.5 1320.7,224.7 1321.3,363.1 1321.4,378.5 1322.4,377.4 1322.9,377.5 1323.4,338.0 1324.1,378.1 1324.6,378.4 1325.4,341.5 1327.6,378.1 1328.4,378.1 1328.5,370.8 1328.7,379.3 1330.3,324.9 1332.4,378.8 1332.8,378.6 1333.2,376.7 1333.9,378.0 1335.1,378.6 1335.3,369.8 1336.1,378.0 1336.3,378.6 1337.7,377.7 1337.9,332.5 1339.8,379.2 1340.0,311.2 1340.1,378.2 1340.2,378.9 1341.6,379.3 1341.7,280.3 1341.9,378.4 1342.0,359.3 1342.8,377.7 1343.5,301.6 1343.5,378.7 1344.6,378.3 1345.8,346.5 1345.8,378.9 1346.1,377.4 1347.6,306.3 1347.6,379.2 1348.9,378.2 1349.3,378.2 1349.4,371.3 1350.1,378.5 1350.7,369.8 1351.0,378.2 1351.8,377.5 1353.4,264.3 1353.6,378.2 1354.5,362.2 1354.7,378.3 1355.0,378.1 1355.6,378.0 1356.6,310.6 1358.2,377.6 1358.4,378.1 1359.3,378.4 1360.0,370.8 1360.0,378.4 1360.8,378.3 1361.9,379.2 1362.7,314.1 1364.3,377.9 1364.4,378.5 1365.3,370.3 1365.6,378.5 1366.5,378.1 1366.7,375.8 1367.6,378.3 1368.5,369.9 1368.6,378.2 1369.3,378.8 1370.6,309.8 1371.8,377.6 1371.9,378.3 1373.8,314.7 1374.6,377.7 1375.1,370.9 1375.1,378.6 1375.9,370.5 1376.4,378.6 1377.2,370.4 1377.7,378.6 1378.2,369.2 1378.7,378.5 1379.5,378.4 1380.1,370.9 1380.5,378.2 1381.6,370.5 1381.6,378.6 1382.0,378.1 1383.4,281.5 1384.5,379.2 1384.8,379.2 1385.8,378.0 1386.0,235.2 1387.3,378.5 1387.5,359.9 1387.7,378.6 1389.5,362.2 1389.5,377.4 1391.1,377.4 1391.4,370.4 1391.4,378.6 1392.3,370.3 1392.4,378.0 1393.6,371.0 1393.6,378.1 1394.2,367.1 1394.4,378.3 1394.6,378.6 1395.8,377.9 1396.5,262.2 1397.9,377.9 1398.0,314.1 1399.4,379.1 1399.8,378.3 1400.3,375.3 1401.0,378.3 1402.1,374.8 1402.1,378.5 1402.4,378.3 1403.5,301.3 1404.7,379.3 1405.2,378.2 1405.8,373.4 1406.0,378.6 1406.6,369.4 1407.1,378.5 1407.8,378.9 1408.8,314.7 1408.8,378.7 1409.5,378.0 1409.9,377.5 1410.2,270.1 1410.5,340.1 1410.5,378.3 1412.0,353.5 1412.2,378.9 1412.6,378.9 1414.1,377.8 1414.3,375.8 1414.5,378.6 1415.5,367.6 1415.7,378.1 1416.2,377.4 1416.6,379.0 1417.2,306.6 1418.7,227.0 1418.7,377.6 1420.4,377.6 1420.8,371.1 1421.4,378.5 1422.0,370.4 1422.0,378.3 1422.7,377.5 1423.3,378.5 1424.2,278.6 1424.2,357.9 1425.4,327.3 1425.7,377.8 1426.1,378.5 1426.8,377.8 1427.3,378.2 1427.6,377.4 1428.9,322.6 1428.9,347.1 1429.9,377.6 1430.6,370.6 1430.6,378.2 1430.8,378.4 1431.8,315.6 1432.0,379.1 1433.7,377.9 1434.1,362.2 1436.3,379.3 1436.8,378.3 1437.0,378.2 1437.9,347.4 1439.3,377.8 1439.9,378.4 1440.4,369.6 1440.8,378.3 1441.3,377.6 1443.2,340.1 1445.4,378.3 1445.6,367.4 1445.8,378.4 1446.5,378.1 1447.2,370.0 1447.4,378.3 1447.6,378.2 1449.8,378.9 1449.9,308.6 1451.3,291.1 1451.6,377.3 1452.0,377.5 1452.8,341.0 1452.9,377.7 1455.1,378.1 1455.1,378.5 1455.7,370.7 1456.1,378.3 1456.4,366.9 1456.7,377.8 1456.8,378.1 1456.9,378.1 1457.7,168.4 1457.8,307.4 1457.8,338.3 1458.7,379.2 1459.6,379.2 1459.9,377.4 1460.0,373.1 1460.4,378.4 1461.4,376.1 1461.5,378.2 1462.4,378.5 1462.7,369.7 1463.5,377.4 1464.3,378.5 1464.8,362.2 1465.9,348.8 1466.7,378.3 1466.8,378.2 1466.9,369.4 1466.9,378.4 1467.0,378.7 1468.3,324.3 1470.3,377.5 1470.9,378.3 1471.8,369.8 1471.9,378.1 1472.7,378.2 1473.5,376.0 1473.5,378.0 1474.5,377.8 1475.5,304.5 1476.4,378.6 1476.5,378.1 1476.7,379.0 1479.0,346.8 1480.8,378.2 1481.3,377.5 1482.0,377.7 1482.3,379.0 1482.8,359.3 1483.7,339.2 1484.0,201.7 1484.7,377.6 1484.7,379.3 1485.7,377.3 1486.3,376.3 1486.4,377.8 1487.2,358.7 1488.0,378.9 1489.5,377.8 1490.1,330.2 1490.8,377.3 1491.1,379.1 1491.9,378.3 1492.4,278.0 1493.6,345.6 1494.1,378.5 1495.6,377.5 1495.9,369.1 1496.0,378.2 1496.8,378.1 1497.8,367.8 1497.8,378.6 1498.9,378.6 1499.7,370.8 1499.7,378.2 1499.8,377.5 1500.9,293.7 1502.7,377.5 1502.7,378.0 1503.5,370.9 1503.7,378.0 1504.7,378.2 1504.8,370.0 1505.2,378.4 1506.0,377.8 1506.1,378.2 1506.4,348.3 1507.3,377.7 1508.2,245.7 1508.2,252.3 1508.4,378.0 1509.6,248.9 1509.6,378.5 1509.9,378.4 1510.1,378.7 1511.4,224.4 1511.4,378.5 1512.9,377.3 1513.0,378.5 1514.6,301.0 1515.1,377.9 1515.3,377.7 1515.9,378.9 1516.6,337.5 1516.9,195.3 1518.3,377.8 1518.5,378.5 1518.5,378.8 1518.9,370.4 1519.4,378.5 1519.8,377.8 1521.3,362.8 1522.6,379.0" fill="none" stroke="#204a87" stroke-width="1" stroke-linejoin="round" transform="translate(0.7 0)"/>
<g fill="#204a87">
<circle cx="108.5" cy="378.2" r="3.55"/>
<circle cx="109.0" cy="372.2" r="3.55"/>
<circle cx="109.3" cy="378.4" r="3.55"/>
<circle cx="110.0" cy="378.3" r="3.55"/>
<circle cx="110.4" cy="370.8" r="3.55"/>
<circle cx="111.0" cy="378.0" r="3.55"/>
<circle cx="111.5" cy="367.2" r="3.55"/>
<circle cx="112.0" cy="378.0" r="3.55"/>
<circle cx="112.9" cy="378.0" r="3.55"/>
<circle cx="113.4" cy="372.3" r="3.55"/>
<circle cx="113.7" cy="378.2" r="3.55"/>
<circle cx="114.2" cy="374.6" r="3.55"/>
<circle cx="114.9" cy="378.0" r="3.55"/>
<circle cx="115.7" cy="371.2" r="3.55"/>
<circle cx="115.7" cy="378.4" r="3.55"/>
<circle cx="116.8" cy="373.1" r="3.55"/>
<circle cx="117.0" cy="378.4" r="3.55"/>
<circle cx="117.9" cy="378.6" r="3.55"/>
<circle cx="118.6" cy="367.0" r="3.55"/>
<circle cx="118.6" cy="378.6" r="3.55"/>
<circle cx="119.3" cy="369.7" r="3.55"/>
<circle cx="119.5" cy="378.1" r="3.55"/>
<circle cx="120.3" cy="378.2" r="3.55"/>
<circle cx="121.4" cy="370.5" r="3.55"/>
<circle cx="121.5" cy="378.1" r="3.55"/>
<circle cx="122.5" cy="378.4" r="3.55"/>
<circle cx="122.6" cy="370.2" r="3.55"/>
<circle cx="123.4" cy="378.3" r="3.55"/>
<circle cx="123.7" cy="366.9" r="3.55"/>
<circle cx="124.2" cy="378.0" r="3.55"/>
<circle cx="125.0" cy="378.4" r="3.55"/>
<circle cx="125.5" cy="375.3" r="3.55"/>
<circle cx="126.0" cy="378.2" r="3.55"/>
<circle cx="126.7" cy="369.3" r="3.55"/>
<circle cx="127.0" cy="378.3" r="3.55"/>
<circle cx="127.9" cy="378.5" r="3.55"/>
<circle cx="128.2" cy="371.1" r="3.55"/>
<circle cx="129.0" cy="378.1" r="3.55"/>
<circle cx="130.1" cy="378.3" r="3.55"/>
<circle cx="130.3" cy="369.7" r="3.55"/>
<circle cx="131.3" cy="370.1" r="3.55"/>
<circle cx="131.3" cy="378.5" r="3.55"/>
<circle cx="132.2" cy="378.6" r="3.55"/>
<circle cx="132.3" cy="370.8" r="3.55"/>
<circle cx="132.9" cy="378.2" r="3.55"/>
<circle cx="133.9" cy="371.3" r="3.55"/>
<circle cx="134.1" cy="378.1" r="3.55"/>
<circle cx="134.9" cy="369.5" r="3.55"/>
<circle cx="135.1" cy="378.0" r="3.55"/>
<circle cx="136.2" cy="378.5" r="3.55"/>
<circle cx="136.9" cy="369.8" r="3.55"/>
<circle cx="137.2" cy="378.6" r="3.55"/>
<circle cx="138.1" cy="378.4" r="3.55"/>
<circle cx="138.7" cy="369.8" r="3.55"/>
<circle cx="139.2" cy="378.4" r="3.55"/>
<circle cx="139.8" cy="371.1" r="3.55"/>
<circle cx="140.1" cy="378.5" r="3.55"/>
<circle cx="140.7" cy="370.5" r="3.55"/>
<circle cx="141.4" cy="378.3" r="3.55"/>
<circle cx="142.0" cy="371.1" r="3.55"/>
<circle cx="142.5" cy="378.0" r="3.55"/>
<circle cx="142.9" cy="367.5" r="3.55"/>
<circle cx="143.6" cy="378.4" r="3.55"/>
<circle cx="144.8" cy="369.6" r="3.55"/>
<circle cx="144.9" cy="378.5" r="3.55"/>
<circle cx="145.8" cy="378.2" r="3.55"/>
<circle cx="146.7" cy="367.4" r="3.55"/>
<circle cx="146.9" cy="378.0" r="3.55"/>
<circle cx="147.4" cy="376.9" r="3.55"/>
<circle cx="147.9" cy="378.1" r="3.55"/>
<circle cx="148.0" cy="367.0" r="3.55"/>
<circle cx="148.6" cy="378.0" r="3.55"/>
<circle cx="149.8" cy="373.0" r="3.55"/>
<circle cx="149.8" cy="378.0" r="3.55"/>
<circle cx="150.6" cy="378.2" r="3.55"/>
<circle cx="151.5" cy="373.8" r="3.55"/>
<circle cx="151.9" cy="378.0" r="3.55"/>
<circle cx="152.8" cy="378.3" r="3.55"/>
<circle cx="153.5" cy="371.1" r="3.55"/>
<circle cx="154.1" cy="378.5" r="3.55"/>
<circle cx="155.3" cy="378.1" r="3.55"/>
<circle cx="155.7" cy="373.3" r="3.55"/>
<circle cx="156.2" cy="378.2" r="3.55"/>
<circle cx="157.5" cy="378.6" r="3.55"/>
<circle cx="157.6" cy="369.3" r="3.55"/>
<circle cx="158.3" cy="378.1" r="3.55"/>
<circle cx="159.0" cy="370.1" r="3.55"/>
<circle cx="159.1" cy="378.1" r="3.55"/>
<circle cx="159.8" cy="377.0" r="3.55"/>
<circle cx="160.1" cy="378.4" r="3.55"/>
<circle cx="160.9" cy="369.5" r="3.55"/>
<circle cx="160.9" cy="378.0" r="3.55"/>
<circle cx="161.9" cy="378.2" r="3.55"/>
<circle cx="162.2" cy="374.3" r="3.55"/>
<circle cx="162.9" cy="378.6" r="3.55"/>
<circle cx="163.1" cy="369.5" r="3.55"/>
<circle cx="164.1" cy="378.3" r="3.55"/>
<circle cx="164.9" cy="369.4" r="3.55"/>
<circle cx="165.1" cy="378.4" r="3.55"/>
<circle cx="165.9" cy="378.6" r="3.55"/>
<circle cx="166.1" cy="371.1" r="3.55"/>
<circle cx="167.0" cy="378.6" r="3.55"/>
<circle cx="167.2" cy="371.2" r="3.55"/>
<circle cx="168.2" cy="378.2" r="3.55"/>
<circle cx="169.1" cy="378.0" r="3.55"/>
<circle cx="169.2" cy="369.8" r="3.55"/>
<circle cx="170.1" cy="369.3" r="3.55"/>
<circle cx="170.2" cy="378.0" r="3.55"/>
<circle cx="170.8" cy="370.1" r="3.55"/>
<circle cx="171.0" cy="378.1" r="3.55"/>
<circle cx="171.8" cy="378.2" r="3.55"/>
<circle cx="172.3" cy="369.2" r="3.55"/>
<circle cx="172.5" cy="378.0" r="3.55"/>
<circle cx="173.3" cy="378.0" r="3.55"/>
<circle cx="174.0" cy="370.3" r="3.55"/>
<circle cx="174.2" cy="378.0" r="3.55"/>
<circle cx="175.4" cy="378.4" r="3.55"/>
<circle cx="175.5" cy="371.3" r="3.55"/>
<circle cx="176.2" cy="378.1" r="3.55"/>
<circle cx="177.1" cy="378.2" r="3.55"/>
<circle cx="177.5" cy="370.0" r="3.55"/>
<circle cx="177.9" cy="378.5" r="3.55"/>
<circle cx="178.6" cy="371.2" r="3.55"/>
<circle cx="179.2" cy="378.3" r="3.55"/>
<circle cx="179.8" cy="370.1" r="3.55"/>
<circle cx="180.2" cy="378.0" r="3.55"/>
<circle cx="180.6" cy="366.6" r="3.55"/>
<circle cx="180.9" cy="378.2" r="3.55"/>
<circle cx="181.8" cy="378.5" r="3.55"/>
<circle cx="182.2" cy="367.3" r="3.55"/>
<circle cx="182.6" cy="378.0" r="3.55"/>
<circle cx="183.8" cy="369.7" r="3.55"/>
<circle cx="183.9" cy="378.3" r="3.55"/>
<circle cx="184.7" cy="376.2" r="3.55"/>
<circle cx="184.7" cy="378.3" r="3.55"/>
<circle cx="185.4" cy="378.3" r="3.55"/>
<circle cx="186.5" cy="366.7" r="3.55"/>
<circle cx="186.7" cy="378.6" r="3.55"/>
<circle cx="187.8" cy="378.1" r="3.55"/>
<circle cx="188.3" cy="370.6" r="3.55"/>
<circle cx="188.7" cy="378.1" r="3.55"/>
<circle cx="189.7" cy="371.2" r="3.55"/>
<circle cx="189.9" cy="378.3" r="3.55"/>
<circle cx="190.3" cy="371.0" r="3.55"/>
<circle cx="191.0" cy="378.2" r="3.55"/>
<circle cx="191.8" cy="371.3" r="3.55"/>
<circle cx="191.9" cy="378.5" r="3.55"/>
<circle cx="192.7" cy="370.8" r="3.55"/>
<circle cx="193.2" cy="378.5" r="3.55"/>
<circle cx="193.9" cy="370.0" r="3.55"/>
<circle cx="194.3" cy="378.5" r="3.55"/>
<circle cx="195.4" cy="370.6" r="3.55"/>
<circle cx="195.5" cy="378.1" r="3.55"/>
<circle cx="196.5" cy="370.3" r="3.55"/>
<circle cx="196.5" cy="378.2" r="3.55"/>
<circle cx="197.2" cy="378.0" r="3.55"/>
<circle cx="197.4" cy="369.8" r="3.55"/>
<circle cx="198.1" cy="378.1" r="3.55"/>
<circle cx="199.2" cy="378.6" r="3.55"/>
<circle cx="199.5" cy="370.7" r="3.55"/>
<circle cx="200.2" cy="378.6" r="3.55"/>
<circle cx="200.9" cy="369.7" r="3.55"/>
<circle cx="201.5" cy="378.6" r="3.55"/>
<circle cx="201.8" cy="368.0" r="3.55"/>
<circle cx="202.4" cy="378.1" r="3.55"/>
<circle cx="203.2" cy="370.9" r="3.55"/>
<circle cx="203.2" cy="378.1" r="3.55"/>
<circle cx="204.0" cy="378.4" r="3.55"/>
<circle cx="204.2" cy="376.1" r="3.55"/>
<circle cx="205.3" cy="378.5" r="3.55"/>
<circle cx="205.5" cy="370.9" r="3.55"/>
<circle cx="206.3" cy="378.4" r="3.55"/>
<circle cx="207.4" cy="378.0" r="3.55"/>
<circle cx="207.6" cy="369.3" r="3.55"/>
<circle cx="208.5" cy="378.6" r="3.55"/>
<circle cx="208.8" cy="370.9" r="3.55"/>
<circle cx="209.6" cy="373.4" r="3.55"/>
<circle cx="209.7" cy="378.5" r="3.55"/>
<circle cx="210.3" cy="370.9" r="3.55"/>
<circle cx="210.7" cy="378.1" r="3.55"/>
<circle cx="211.8" cy="369.4" r="3.55"/>
<circle cx="211.9" cy="378.2" r="3.55"/>
<circle cx="213.0" cy="368.4" r="3.55"/>
<circle cx="213.0" cy="378.6" r="3.55"/>
<circle cx="214.0" cy="378.2" r="3.55"/>
<circle cx="214.3" cy="370.9" r="3.55"/>
<circle cx="215.3" cy="378.5" r="3.55"/>
<circle cx="216.1" cy="375.5" r="3.55"/>
<circle cx="216.1" cy="378.0" r="3.55"/>
<circle cx="216.8" cy="378.6" r="3.55"/>
<circle cx="217.3" cy="369.7" r="3.55"/>
<circle cx="218.0" cy="378.1" r="3.55"/>
<circle cx="218.5" cy="370.0" r="3.55"/>
<circle cx="219.1" cy="370.4" r="3.55"/>
<circle cx="219.2" cy="378.6" r="3.55"/>
<circle cx="219.8" cy="375.6" r="3.55"/>
<circle cx="220.3" cy="378.2" r="3.55"/>
<circle cx="220.9" cy="369.7" r="3.55"/>
<circle cx="221.3" cy="378.0" r="3.55"/>
<circle cx="222.1" cy="378.6" r="3.55"/>
<circle cx="222.8" cy="375.3" r="3.55"/>
<circle cx="223.1" cy="378.3" r="3.55"/>
<circle cx="224.4" cy="378.3" r="3.55"/>
<circle cx="224.8" cy="370.1" r="3.55"/>
<circle cx="225.6" cy="378.5" r="3.55"/>
<circle cx="226.5" cy="378.1" r="3.55"/>
<circle cx="226.6" cy="370.0" r="3.55"/>
<circle cx="227.3" cy="370.0" r="3.55"/>
<circle cx="227.3" cy="378.1" r="3.55"/>
<circle cx="228.4" cy="378.1" r="3.55"/>
<circle cx="229.1" cy="370.1" r="3.55"/>
<circle cx="229.3" cy="378.0" r="3.55"/>
<circle cx="230.6" cy="378.2" r="3.55"/>
<circle cx="230.7" cy="369.9" r="3.55"/>
<circle cx="231.6" cy="378.4" r="3.55"/>
<circle cx="231.9" cy="371.1" r="3.55"/>
<circle cx="232.8" cy="368.5" r="3.55"/>
<circle cx="232.8" cy="378.2" r="3.55"/>
<circle cx="234.0" cy="369.9" r="3.55"/>
<circle cx="234.0" cy="378.3" r="3.55"/>
<circle cx="234.7" cy="370.0" r="3.55"/>
<circle cx="235.1" cy="378.3" r="3.55"/>
<circle cx="235.8" cy="378.3" r="3.55"/>
<circle cx="236.2" cy="371.1" r="3.55"/>
<circle cx="236.6" cy="378.0" r="3.55"/>
<circle cx="237.8" cy="378.1" r="3.55"/>
<circle cx="238.0" cy="375.0" r="3.55"/>
<circle cx="238.8" cy="378.5" r="3.55"/>
<circle cx="239.3" cy="371.0" r="3.55"/>
<circle cx="239.8" cy="378.2" r="3.55"/>
<circle cx="240.6" cy="371.1" r="3.55"/>
<circle cx="240.8" cy="378.3" r="3.55"/>
<circle cx="241.9" cy="370.3" r="3.55"/>
<circle cx="242.0" cy="378.0" r="3.55"/>
<circle cx="243.0" cy="378.1" r="3.55"/>
<circle cx="243.8" cy="370.8" r="3.55"/>
<circle cx="243.9" cy="378.5" r="3.55"/>
<circle cx="244.9" cy="378.3" r="3.55"/>
<circle cx="245.0" cy="375.5" r="3.55"/>
<circle cx="246.0" cy="378.6" r="3.55"/>
<circle cx="246.5" cy="370.8" r="3.55"/>
<circle cx="247.0" cy="378.4" r="3.55"/>
<circle cx="247.3" cy="369.4" r="3.55"/>
<circle cx="248.0" cy="378.3" r="3.55"/>
<circle cx="249.1" cy="378.3" r="3.55"/>
<circle cx="249.2" cy="372.6" r="3.55"/>
<circle cx="250.1" cy="378.3" r="3.55"/>
<circle cx="251.0" cy="369.3" r="3.55"/>
<circle cx="251.4" cy="378.4" r="3.55"/>
<circle cx="252.6" cy="378.6" r="3.55"/>
<circle cx="252.7" cy="370.2" r="3.55"/>
<circle cx="253.4" cy="370.1" r="3.55"/>
<circle cx="253.5" cy="378.3" r="3.55"/>
<circle cx="254.7" cy="378.5" r="3.55"/>
<circle cx="254.9" cy="368.7" r="3.55"/>
<circle cx="255.5" cy="378.0" r="3.55"/>
<circle cx="256.5" cy="378.0" r="3.55"/>
<circle cx="256.9" cy="373.8" r="3.55"/>
<circle cx="257.3" cy="378.0" r="3.55"/>
<circle cx="258.4" cy="376.9" r="3.55"/>
<circle cx="258.4" cy="378.5" r="3.55"/>
<circle cx="259.4" cy="369.9" r="3.55"/>
<circle cx="259.7" cy="378.1" r="3.55"/>
<circle cx="260.4" cy="370.4" r="3.55"/>
<circle cx="260.8" cy="378.4" r="3.55"/>
<circle cx="261.6" cy="378.6" r="3.55"/>
<circle cx="261.8" cy="369.3" r="3.55"/>
<circle cx="262.9" cy="370.9" r="3.55"/>
<circle cx="262.9" cy="378.1" r="3.55"/>
<circle cx="264.1" cy="378.2" r="3.55"/>
<circle cx="264.9" cy="369.6" r="3.55"/>
<circle cx="265.1" cy="378.6" r="3.55"/>
<circle cx="265.6" cy="370.0" r="3.55"/>
<circle cx="266.3" cy="378.1" r="3.55"/>
<circle cx="266.9" cy="370.4" r="3.55"/>
<circle cx="267.3" cy="378.3" r="3.55"/>
<circle cx="268.1" cy="369.6" r="3.55"/>
<circle cx="268.2" cy="378.1" r="3.55"/>
<circle cx="269.1" cy="378.5" r="3.55"/>
<circle cx="269.8" cy="378.3" r="3.55"/>
<circle cx="270.2" cy="369.3" r="3.55"/>
<circle cx="270.8" cy="378.0" r="3.55"/>
<circle cx="271.3" cy="370.1" r="3.55"/>
<circle cx="271.7" cy="378.4" r="3.55"/>
<circle cx="272.7" cy="378.0" r="3.55"/>
<circle cx="272.8" cy="369.8" r="3.55"/>
<circle cx="274.0" cy="378.5" r="3.55"/>
<circle cx="274.7" cy="370.7" r="3.55"/>
<circle cx="275.2" cy="378.0" r="3.55"/>
<circle cx="276.1" cy="378.0" r="3.55"/>
<circle cx="276.5" cy="370.2" r="3.55"/>
<circle cx="277.3" cy="378.1" r="3.55"/>
<circle cx="278.1" cy="378.2" r="3.55"/>
<circle cx="278.6" cy="371.0" r="3.55"/>
<circle cx="279.3" cy="370.5" r="3.55"/>
<circle cx="279.3" cy="378.5" r="3.55"/>
<circle cx="280.0" cy="369.4" r="3.55"/>
<circle cx="280.2" cy="378.1" r="3.55"/>
<circle cx="281.4" cy="378.3" r="3.55"/>
<circle cx="281.6" cy="371.1" r="3.55"/>
<circle cx="282.5" cy="378.0" r="3.55"/>
<circle cx="283.1" cy="370.2" r="3.55"/>
<circle cx="283.3" cy="378.4" r="3.55"/>
<circle cx="284.2" cy="378.0" r="3.55"/>
<circle cx="284.7" cy="369.8" r="3.55"/>
<circle cx="285.5" cy="378.4" r="3.55"/>
<circle cx="285.7" cy="369.5" r="3.55"/>
<circle cx="286.7" cy="378.0" r="3.55"/>
<circle cx="287.7" cy="369.4" r="3.55"/>
<circle cx="287.9" cy="378.0" r="3.55"/>
<circle cx="288.5" cy="371.2" r="3.55"/>
<circle cx="289.1" cy="378.3" r="3.55"/>
<circle cx="289.8" cy="369.7" r="3.55"/>
<circle cx="290.0" cy="378.3" r="3.55"/>
<circle cx="291.3" cy="378.1" r="3.55"/>
<circle cx="291.8" cy="369.5" r="3.55"/>
<circle cx="292.0" cy="378.3" r="3.55"/>
<circle cx="292.5" cy="369.3" r="3.55"/>
<circle cx="292.9" cy="378.0" r="3.55"/>
<circle cx="293.7" cy="378.0" r="3.55"/>
<circle cx="294.4" cy="369.7" r="3.55"/>
<circle cx="294.5" cy="378.2" r="3.55"/>
<circle cx="295.4" cy="378.5" r="3.55"/>
<circle cx="296.0" cy="370.4" r="3.55"/>
<circle cx="296.2" cy="378.3" r="3.55"/>
<circle cx="296.8" cy="367.4" r="3.55"/>
<circle cx="297.1" cy="378.2" r="3.55"/>
<circle cx="297.8" cy="378.1" r="3.55"/>
<circle cx="298.5" cy="378.5" r="3.55"/>
<circle cx="298.8" cy="376.0" r="3.55"/>
<circle cx="299.5" cy="378.1" r="3.55"/>
<circle cx="300.5" cy="378.6" r="3.55"/>
<circle cx="300.9" cy="369.3" r="3.55"/>
<circle cx="301.3" cy="378.5" r="3.55"/>
<circle cx="302.1" cy="369.7" r="3.55"/>
<circle cx="302.2" cy="378.3" r="3.55"/>
<circle cx="303.4" cy="378.2" r="3.55"/>
<circle cx="303.6" cy="374.4" r="3.55"/>
<circle cx="304.4" cy="378.4" r="3.55"/>
<circle cx="305.4" cy="370.6" r="3.55"/>
<circle cx="305.7" cy="378.2" r="3.55"/>
<circle cx="306.2" cy="369.5" r="3.55"/>
<circle cx="306.9" cy="378.4" r="3.55"/>
<circle cx="308.0" cy="378.2" r="3.55"/>
<circle cx="308.2" cy="369.0" r="3.55"/>
<circle cx="308.9" cy="378.0" r="3.55"/>
<circle cx="309.7" cy="369.9" r="3.55"/>
<circle cx="309.7" cy="378.0" r="3.55"/>
<circle cx="310.8" cy="378.1" r="3.55"/>
<circle cx="311.5" cy="371.2" r="3.55"/>
<circle cx="311.6" cy="378.0" r="3.55"/>
<circle cx="312.2" cy="371.0" r="3.55"/>
<circle cx="312.8" cy="378.6" r="3.55"/>
<circle cx="313.8" cy="369.4" r="3.55"/>
<circle cx="313.9" cy="378.1" r="3.55"/>
<circle cx="314.6" cy="371.1" r="3.55"/>
<circle cx="314.8" cy="378.2" r="3.55"/>
<circle cx="315.7" cy="378.1" r="3.55"/>
<circle cx="316.6" cy="371.1" r="3.55"/>
<circle cx="316.7" cy="378.1" r="3.55"/>
<circle cx="317.2" cy="371.2" r="3.55"/>
<circle cx="318.0" cy="378.6" r="3.55"/>
<circle cx="318.4" cy="368.3" r="3.55"/>
<circle cx="319.0" cy="370.1" r="3.55"/>
<circle cx="319.0" cy="378.1" r="3.55"/>
<circle cx="320.0" cy="369.6" r="3.55"/>
<circle cx="320.3" cy="378.2" r="3.55"/>
<circle cx="321.2" cy="378.0" r="3.55"/>
<circle cx="321.9" cy="369.3" r="3.55"/>
<circle cx="322.1" cy="378.3" r="3.55"/>
<circle cx="323.1" cy="378.1" r="3.55"/>
<circle cx="323.4" cy="374.8" r="3.55"/>
<circle cx="324.1" cy="378.0" r="3.55"/>
<circle cx="325.0" cy="378.0" r="3.55"/>
<circle cx="325.2" cy="370.2" r="3.55"/>
<circle cx="325.9" cy="369.4" r="3.55"/>
<circle cx="325.9" cy="378.0" r="3.55"/>
<circle cx="326.7" cy="378.2" r="3.55"/>
<circle cx="327.5" cy="375.0" r="3.55"/>
<circle cx="327.5" cy="378.4" r="3.55"/>
<circle cx="328.5" cy="378.5" r="3.55"/>
<circle cx="328.7" cy="370.6" r="3.55"/>
<circle cx="329.6" cy="376.7" r="3.55"/>
<circle cx="329.6" cy="378.5" r="3.55"/>
<circle cx="330.7" cy="371.0" r="3.55"/>
<circle cx="330.8" cy="378.2" r="3.55"/>
<circle cx="331.7" cy="378.6" r="3.55"/>
<circle cx="332.1" cy="372.7" r="3.55"/>
<circle cx="332.5" cy="378.5" r="3.55"/>
<circle cx="333.6" cy="378.0" r="3.55"/>
<circle cx="334.1" cy="374.6" r="3.55"/>
<circle cx="334.8" cy="378.6" r="3.55"/>
<circle cx="335.5" cy="374.4" r="3.55"/>
<circle cx="335.9" cy="378.5" r="3.55"/>
<circle cx="336.4" cy="370.3" r="3.55"/>
<circle cx="337.1" cy="378.0" r="3.55"/>
<circle cx="337.6" cy="370.0" r="3.55"/>
<circle cx="338.1" cy="378.3" r="3.55"/>
<circle cx="338.5" cy="373.4" r="3.55"/>
<circle cx="339.3" cy="378.5" r="3.55"/>
<circle cx="340.5" cy="371.1" r="3.55"/>
<circle cx="340.5" cy="378.4" r="3.55"/>
<circle cx="341.1" cy="367.9" r="3.55"/>
<circle cx="341.7" cy="378.4" r="3.55"/>
<circle cx="342.8" cy="378.1" r="3.55"/>
<circle cx="343.0" cy="370.6" r="3.55"/>
<circle cx="343.6" cy="378.0" r="3.55"/>
<circle cx="344.0" cy="369.5" r="3.55"/>
<circle cx="344.5" cy="378.0" r="3.55"/>
<circle cx="345.0" cy="374.1" r="3.55"/>
<circle cx="345.7" cy="378.3" r="3.55"/>
<circle cx="346.4" cy="371.1" r="3.55"/>
<circle cx="346.7" cy="378.4" r="3.55"/>
<circle cx="347.1" cy="369.7" r="3.55"/>
<circle cx="347.9" cy="378.3" r="3.55"/>
<circle cx="348.6" cy="378.5" r="3.55"/>
<circle cx="348.7" cy="370.7" r="3.55"/>
<circle cx="349.4" cy="370.5" r="3.55"/>
<circle cx="349.7" cy="378.3" r="3.55"/>
<circle cx="350.7" cy="378.4" r="3.55"/>
<circle cx="351.5" cy="378.5" r="3.55"/>
<circle cx="351.6" cy="375.2" r="3.55"/>
<circle cx="352.3" cy="378.0" r="3.55"/>
<circle cx="353.2" cy="378.5" r="3.55"/>
<circle cx="353.3" cy="369.9" r="3.55"/>
<circle cx="354.0" cy="378.5" r="3.55"/>
<circle cx="355.2" cy="371.1" r="3.55"/>
<circle cx="355.3" cy="378.3" r="3.55"/>
<circle cx="355.8" cy="367.7" r="3.55"/>
<circle cx="356.2" cy="378.3" r="3.55"/>
<circle cx="357.0" cy="373.4" r="3.55"/>
<circle cx="357.3" cy="378.5" r="3.55"/>
<circle cx="358.4" cy="378.4" r="3.55"/>
<circle cx="358.8" cy="369.5" r="3.55"/>
<circle cx="359.1" cy="378.1" r="3.55"/>
<circle cx="360.0" cy="373.2" r="3.55"/>
<circle cx="360.0" cy="378.5" r="3.55"/>
<circle cx="360.9" cy="371.2" r="3.55"/>
<circle cx="360.9" cy="378.3" r="3.55"/>
<circle cx="361.6" cy="378.0" r="3.55"/>
<circle cx="362.4" cy="378.4" r="3.55"/>
<circle cx="363.1" cy="370.2" r="3.55"/>
<circle cx="363.6" cy="378.4" r="3.55"/>
<circle cx="364.4" cy="378.3" r="3.55"/>
<circle cx="364.5" cy="371.1" r="3.55"/>
<circle cx="365.4" cy="378.3" r="3.55"/>
<circle cx="366.2" cy="378.6" r="3.55"/>
<circle cx="366.3" cy="369.6" r="3.55"/>
<circle cx="367.0" cy="378.6" r="3.55"/>
<circle cx="367.9" cy="370.9" r="3.55"/>
<circle cx="368.3" cy="378.0" r="3.55"/>
<circle cx="368.7" cy="369.9" r="3.55"/>
<circle cx="369.2" cy="378.5" r="3.55"/>
<circle cx="369.5" cy="368.3" r="3.55"/>
<circle cx="370.5" cy="378.3" r="3.55"/>
<circle cx="371.3" cy="376.2" r="3.55"/>
<circle cx="371.4" cy="378.1" r="3.55"/>
<circle cx="372.7" cy="378.1" r="3.55"/>
<circle cx="373.4" cy="368.5" r="3.55"/>
<circle cx="373.7" cy="378.0" r="3.55"/>
<circle cx="374.7" cy="378.6" r="3.55"/>
<circle cx="375.3" cy="370.4" r="3.55"/>
<circle cx="375.5" cy="378.5" r="3.55"/>
<circle cx="376.5" cy="378.6" r="3.55"/>
<circle cx="376.6" cy="370.8" r="3.55"/>
<circle cx="377.6" cy="378.1" r="3.55"/>
<circle cx="378.6" cy="371.2" r="3.55"/>
<circle cx="378.9" cy="378.3" r="3.55"/>
<circle cx="379.6" cy="378.0" r="3.55"/>
<circle cx="380.1" cy="366.9" r="3.55"/>
<circle cx="380.6" cy="378.3" r="3.55"/>
<circle cx="381.5" cy="378.0" r="3.55"/>
<circle cx="382.2" cy="369.7" r="3.55"/>
<circle cx="382.4" cy="378.2" r="3.55"/>
<circle cx="383.6" cy="378.0" r="3.55"/>
<circle cx="384.2" cy="369.6" r="3.55"/>
<circle cx="384.7" cy="378.5" r="3.55"/>
<circle cx="385.5" cy="370.2" r="3.55"/>
<circle cx="385.5" cy="378.6" r="3.55"/>
<circle cx="386.6" cy="378.6" r="3.55"/>
<circle cx="387.5" cy="378.2" r="3.55"/>
<circle cx="387.6" cy="370.7" r="3.55"/>
<circle cx="388.4" cy="378.6" r="3.55"/>
<circle cx="388.8" cy="370.9" r="3.55"/>
<circle cx="389.5" cy="378.2" r="3.55"/>
<circle cx="390.4" cy="378.1" r="3.55"/>
<circle cx="390.5" cy="368.7" r="3.55"/>
<circle cx="391.2" cy="378.0" r="3.55"/>
<circle cx="391.7" cy="375.3" r="3.55"/>
<circle cx="392.4" cy="378.1" r="3.55"/>
<circle cx="393.6" cy="378.1" r="3.55"/>
<circle cx="393.7" cy="370.4" r="3.55"/>
<circle cx="394.5" cy="378.3" r="3.55"/>
<circle cx="395.3" cy="378.2" r="3.55"/>
<circle cx="395.6" cy="369.2" r="3.55"/>
<circle cx="396.6" cy="378.6" r="3.55"/>
<circle cx="397.0" cy="372.7" r="3.55"/>
<circle cx="397.8" cy="378.4" r="3.55"/>
<circle cx="398.9" cy="370.5" r="3.55"/>
<circle cx="399.0" cy="378.6" r="3.55"/>
<circle cx="400.0" cy="378.5" r="3.55"/>
<circle cx="400.2" cy="369.6" r="3.55"/>
<circle cx="400.8" cy="378.5" r="3.55"/>
<circle cx="401.4" cy="370.5" r="3.55"/>
<circle cx="401.7" cy="378.5" r="3.55"/>
<circle cx="402.5" cy="373.5" r="3.55"/>
<circle cx="402.8" cy="378.2" r="3.55"/>
<circle cx="403.6" cy="378.6" r="3.55"/>
<circle cx="404.2" cy="370.6" r="3.55"/>
<circle cx="404.3" cy="378.3" r="3.55"/>
<circle cx="405.2" cy="378.2" r="3.55"/>
<circle cx="406.1" cy="375.5" r="3.55"/>
<circle cx="406.4" cy="378.6" r="3.55"/>
<circle cx="406.7" cy="369.6" r="3.55"/>
<circle cx="407.2" cy="378.4" r="3.55"/>
<circle cx="407.8" cy="367.5" r="3.55"/>
<circle cx="408.1" cy="378.3" r="3.55"/>
<circle cx="408.7" cy="368.2" r="3.55"/>
<circle cx="409.1" cy="378.1" r="3.55"/>
<circle cx="409.8" cy="378.1" r="3.55"/>
<circle cx="410.8" cy="370.2" r="3.55"/>
<circle cx="411.1" cy="378.3" r="3.55"/>
<circle cx="411.9" cy="378.6" r="3.55"/>
<circle cx="412.9" cy="371.3" r="3.55"/>
<circle cx="413.2" cy="378.3" r="3.55"/>
<circle cx="413.8" cy="369.5" r="3.55"/>
<circle cx="414.0" cy="378.1" r="3.55"/>
<circle cx="414.8" cy="378.2" r="3.55"/>
<circle cx="415.2" cy="373.0" r="3.55"/>
<circle cx="415.5" cy="378.1" r="3.55"/>
<circle cx="416.4" cy="378.3" r="3.55"/>
<circle cx="417.3" cy="370.9" r="3.55"/>
<circle cx="417.6" cy="378.5" r="3.55"/>
<circle cx="418.3" cy="369.4" r="3.55"/>
<circle cx="418.5" cy="378.2" r="3.55"/>
<circle cx="419.6" cy="378.2" r="3.55"/>
<circle cx="419.8" cy="370.3" r="3.55"/>
<circle cx="420.5" cy="378.0" r="3.55"/>
<circle cx="421.0" cy="368.9" r="3.55"/>
<circle cx="421.3" cy="378.6" r="3.55"/>
<circle cx="422.1" cy="378.3" r="3.55"/>
<circle cx="422.7" cy="375.2" r="3.55"/>
<circle cx="423.2" cy="378.6" r="3.55"/>
<circle cx="424.0" cy="367.5" r="3.55"/>
<circle cx="424.0" cy="378.1" r="3.55"/>
<circle cx="424.9" cy="378.2" r="3.55"/>
<circle cx="425.7" cy="370.0" r="3.55"/>
<circle cx="425.8" cy="378.6" r="3.55"/>
<circle cx="427.0" cy="378.6" r="3.55"/>
<circle cx="427.1" cy="371.1" r="3.55"/>
<circle cx="427.8" cy="378.0" r="3.55"/>
<circle cx="428.5" cy="371.3" r="3.55"/>
<circle cx="428.9" cy="378.6" r="3.55"/>
<circle cx="429.2" cy="370.6" r="3.55"/>
<circle cx="429.9" cy="378.4" r="3.55"/>
<circle cx="430.6" cy="378.2" r="3.55"/>
<circle cx="430.7" cy="370.8" r="3.55"/>
<circle cx="431.8" cy="378.5" r="3.55"/>
<circle cx="432.7" cy="370.8" r="3.55"/>
<circle cx="433.0" cy="378.6" r="3.55"/>
<circle cx="433.4" cy="369.5" r="3.55"/>
<circle cx="433.9" cy="378.0" r="3.55"/>
<circle cx="434.7" cy="378.3" r="3.55"/>
<circle cx="435.5" cy="367.0" r="3.55"/>
<circle cx="435.8" cy="378.6" r="3.55"/>
<circle cx="436.9" cy="378.4" r="3.55"/>
<circle cx="437.0" cy="369.3" r="3.55"/>
<circle cx="438.1" cy="378.3" r="3.55"/>
<circle cx="438.3" cy="370.5" r="3.55"/>
<circle cx="439.1" cy="378.0" r="3.55"/>
<circle cx="439.3" cy="369.8" r="3.55"/>
<circle cx="440.3" cy="378.1" r="3.55"/>
<circle cx="440.8" cy="371.3" r="3.55"/>
<circle cx="441.5" cy="378.4" r="3.55"/>
<circle cx="442.4" cy="370.6" r="3.55"/>
<circle cx="442.4" cy="378.0" r="3.55"/>
<circle cx="443.3" cy="378.4" r="3.55"/>
<circle cx="443.6" cy="368.4" r="3.55"/>
<circle cx="444.4" cy="378.0" r="3.55"/>
<circle cx="445.1" cy="378.3" r="3.55"/>
<circle cx="445.3" cy="369.5" r="3.55"/>
<circle cx="446.2" cy="378.2" r="3.55"/>
<circle cx="446.8" cy="370.9" r="3.55"/>
<circle cx="447.0" cy="378.4" r="3.55"/>
<circle cx="447.7" cy="378.2" r="3.55"/>
<circle cx="448.0" cy="374.7" r="3.55"/>
<circle cx="448.7" cy="378.6" r="3.55"/>
<circle cx="449.8" cy="378.6" r="3.55"/>
<circle cx="450.0" cy="375.7" r="3.55"/>
<circle cx="450.8" cy="378.1" r="3.55"/>
<circle cx="450.9" cy="369.3" r="3.55"/>
<circle cx="451.6" cy="378.6" r="3.55"/>
<circle cx="452.0" cy="371.2" r="3.55"/>
<circle cx="452.7" cy="378.2" r="3.55"/>
<circle cx="453.4" cy="378.3" r="3.55"/>
<circle cx="454.1" cy="369.8" r="3.55"/>
<circle cx="454.6" cy="378.2" r="3.55"/>
<circle cx="455.4" cy="378.4" r="3.55"/>
<circle cx="456.2" cy="369.9" r="3.55"/>
<circle cx="456.7" cy="378.1" r="3.55"/>
<circle cx="457.4" cy="378.2" r="3.55"/>
<circle cx="457.5" cy="373.4" r="3.55"/>
<circle cx="458.3" cy="378.4" r="3.55"/>
<circle cx="458.7" cy="371.2" r="3.55"/>
<circle cx="459.2" cy="378.5" r="3.55"/>
<circle cx="459.8" cy="371.1" r="3.55"/>
<circle cx="460.3" cy="378.3" r="3.55"/>
<circle cx="461.1" cy="370.5" r="3.55"/>
<circle cx="461.1" cy="378.6" r="3.55"/>
<circle cx="462.0" cy="378.5" r="3.55"/>
<circle cx="462.8" cy="378.1" r="3.55"/>
<circle cx="462.9" cy="369.5" r="3.55"/>
<circle cx="464.0" cy="378.2" r="3.55"/>
<circle cx="464.7" cy="370.4" r="3.55"/>
<circle cx="465.3" cy="378.3" r="3.55"/>
<circle cx="466.1" cy="378.1" r="3.55"/>
<circle cx="466.4" cy="369.8" r="3.55"/>
<circle cx="467.0" cy="378.4" r="3.55"/>
<circle cx="467.6" cy="368.0" r="3.55"/>
<circle cx="468.3" cy="378.1" r="3.55"/>
<circle cx="468.7" cy="369.7" r="3.55"/>
<circle cx="469.2" cy="378.1" r="3.55"/>
<circle cx="470.5" cy="376.2" r="3.55"/>
<circle cx="470.5" cy="378.0" r="3.55"/>
<circle cx="471.3" cy="378.0" r="3.55"/>
<circle cx="472.0" cy="371.2" r="3.55"/>
<circle cx="472.2" cy="378.6" r="3.55"/>
<circle cx="473.0" cy="369.3" r="3.55"/>
<circle cx="473.4" cy="378.5" r="3.55"/>
<circle cx="474.5" cy="370.6" r="3.55"/>
<circle cx="474.7" cy="378.6" r="3.55"/>
<circle cx="475.6" cy="378.1" r="3.55"/>
<circle cx="475.8" cy="369.4" r="3.55"/>
<circle cx="476.8" cy="371.2" r="3.55"/>
<circle cx="476.9" cy="378.5" r="3.55"/>
<circle cx="477.6" cy="378.4" r="3.55"/>
<circle cx="478.5" cy="370.8" r="3.55"/>
<circle cx="478.5" cy="378.2" r="3.55"/>
<circle cx="479.4" cy="378.1" r="3.55"/>
<circle cx="479.7" cy="368.5" r="3.55"/>
<circle cx="480.1" cy="378.1" r="3.55"/>
<circle cx="480.8" cy="370.9" r="3.55"/>
<circle cx="481.0" cy="378.6" r="3.55"/>
<circle cx="481.8" cy="378.6" r="3.55"/>
<circle cx="482.0" cy="371.0" r="3.55"/>
<circle cx="482.6" cy="378.2" r="3.55"/>
<circle cx="483.5" cy="370.6" r="3.55"/>
<circle cx="483.8" cy="378.5" r="3.55"/>
<circle cx="484.8" cy="378.0" r="3.55"/>
<circle cx="485.5" cy="373.8" r="3.55"/>
<circle cx="485.8" cy="378.2" r="3.55"/>
<circle cx="486.2" cy="370.3" r="3.55"/>
<circle cx="487.0" cy="378.1" r="3.55"/>
<circle cx="487.9" cy="378.6" r="3.55"/>
<circle cx="488.2" cy="370.4" r="3.55"/>
<circle cx="488.7" cy="378.2" r="3.55"/>
<circle cx="489.4" cy="369.8" r="3.55"/>
<circle cx="489.8" cy="378.5" r="3.55"/>
<circle cx="490.6" cy="378.0" r="3.55"/>
<circle cx="491.3" cy="378.6" r="3.55"/>
<circle cx="491.4" cy="371.0" r="3.55"/>
<circle cx="492.2" cy="370.8" r="3.55"/>
<circle cx="492.2" cy="378.5" r="3.55"/>
<circle cx="493.4" cy="378.2" r="3.55"/>
<circle cx="493.6" cy="368.9" r="3.55"/>
<circle cx="494.3" cy="378.6" r="3.55"/>
<circle cx="495.3" cy="378.1" r="3.55"/>
<circle cx="495.4" cy="370.6" r="3.55"/>
<circle cx="496.5" cy="378.2" r="3.55"/>
<circle cx="497.3" cy="378.0" r="3.55"/>
<circle cx="497.4" cy="375.6" r="3.55"/>
<circle cx="498.5" cy="378.6" r="3.55"/>
<circle cx="499.1" cy="369.8" r="3.55"/>
<circle cx="499.6" cy="378.6" r="3.55"/>
<circle cx="499.8" cy="370.9" r="3.55"/>
<circle cx="500.3" cy="378.1" r="3.55"/>
<circle cx="500.9" cy="369.7" r="3.55"/>
<circle cx="501.3" cy="378.6" r="3.55"/>
<circle cx="501.6" cy="371.2" r="3.55"/>
<circle cx="502.5" cy="378.2" r="3.55"/>
<circle cx="503.4" cy="378.3" r="3.55"/>
<circle cx="503.5" cy="370.7" r="3.55"/>
<circle cx="504.2" cy="369.9" r="3.55"/>
<circle cx="504.4" cy="378.6" r="3.55"/>
<circle cx="504.8" cy="369.5" r="3.55"/>
<circle cx="505.2" cy="378.5" r="3.55"/>
<circle cx="505.9" cy="374.3" r="3.55"/>
<circle cx="506.3" cy="378.5" r="3.55"/>
<circle cx="507.4" cy="369.3" r="3.55"/>
<circle cx="507.5" cy="378.4" r="3.55"/>
<circle cx="508.4" cy="378.2" r="3.55"/>
<circle cx="509.3" cy="373.3" r="3.55"/>
<circle cx="509.3" cy="378.5" r="3.55"/>
<circle cx="510.1" cy="378.1" r="3.55"/>
<circle cx="510.9" cy="369.9" r="3.55"/>
<circle cx="511.2" cy="378.1" r="3.55"/>
<circle cx="512.0" cy="378.0" r="3.55"/>
<circle cx="512.4" cy="370.9" r="3.55"/>
<circle cx="513.0" cy="378.2" r="3.55"/>
<circle cx="513.3" cy="370.9" r="3.55"/>
<circle cx="514.3" cy="378.6" r="3.55"/>
<circle cx="514.8" cy="375.9" r="3.55"/>
<circle cx="515.4" cy="370.1" r="3.55"/>
<circle cx="515.6" cy="378.1" r="3.55"/>
<circle cx="516.1" cy="370.7" r="3.55"/>
<circle cx="516.3" cy="378.0" r="3.55"/>
<circle cx="517.3" cy="378.4" r="3.55"/>
<circle cx="517.7" cy="370.3" r="3.55"/>
<circle cx="518.3" cy="378.1" r="3.55"/>
<circle cx="519.2" cy="371.0" r="3.55"/>
<circle cx="519.2" cy="378.4" r="3.55"/>
<circle cx="520.3" cy="378.5" r="3.55"/>
<circle cx="521.4" cy="371.2" r="3.55"/>
<circle cx="521.5" cy="378.4" r="3.55"/>
<circle cx="522.3" cy="378.5" r="3.55"/>
<circle cx="522.5" cy="366.8" r="3.55"/>
<circle cx="523.2" cy="378.3" r="3.55"/>
<circle cx="523.9" cy="374.4" r="3.55"/>
<circle cx="524.1" cy="378.5" r="3.55"/>
<circle cx="524.9" cy="378.1" r="3.55"/>
<circle cx="525.6" cy="370.2" r="3.55"/>
<circle cx="525.8" cy="378.1" r="3.55"/>
<circle cx="526.7" cy="370.0" r="3.55"/>
<circle cx="527.0" cy="378.4" r="3.55"/>
<circle cx="527.8" cy="370.7" r="3.55"/>
<circle cx="527.9" cy="378.2" r="3.55"/>
<circle cx="529.2" cy="369.6" r="3.55"/>
<circle cx="529.2" cy="378.3" r="3.55"/>
<circle cx="530.0" cy="378.5" r="3.55"/>
<circle cx="530.9" cy="369.8" r="3.55"/>
<circle cx="531.1" cy="378.6" r="3.55"/>
<circle cx="531.9" cy="378.3" r="3.55"/>
<circle cx="532.4" cy="371.2" r="3.55"/>
<circle cx="533.1" cy="378.5" r="3.55"/>
<circle cx="534.2" cy="369.0" r="3.55"/>
<circle cx="534.3" cy="378.0" r="3.55"/>
<circle cx="535.2" cy="378.0" r="3.55"/>
<circle cx="536.0" cy="369.3" r="3.55"/>
<circle cx="536.0" cy="378.6" r="3.55"/>
<circle cx="536.9" cy="376.3" r="3.55"/>
<circle cx="537.1" cy="378.6" r="3.55"/>
<circle cx="538.0" cy="378.6" r="3.55"/>
<circle cx="538.7" cy="369.8" r="3.55"/>
<circle cx="539.0" cy="378.1" r="3.55"/>
<circle cx="539.8" cy="375.2" r="3.55"/>
<circle cx="540.1" cy="378.6" r="3.55"/>
<circle cx="540.9" cy="378.4" r="3.55"/>
<circle cx="542.0" cy="369.3" r="3.55"/>
<circle cx="542.0" cy="378.1" r="3.55"/>
<circle cx="542.9" cy="371.1" r="3.55"/>
<circle cx="542.9" cy="378.0" r="3.55"/>
<circle cx="543.7" cy="378.1" r="3.55"/>
<circle cx="544.8" cy="369.4" r="3.55"/>
<circle cx="544.8" cy="378.4" r="3.55"/>
<circle cx="545.6" cy="375.9" r="3.55"/>
<circle cx="545.6" cy="378.0" r="3.55"/>
<circle cx="546.5" cy="378.4" r="3.55"/>
<circle cx="546.9" cy="369.0" r="3.55"/>
<circle cx="547.3" cy="378.2" r="3.55"/>
<circle cx="548.1" cy="378.5" r="3.55"/>
<circle cx="548.8" cy="370.9" r="3.55"/>
<circle cx="549.2" cy="378.0" r="3.55"/>
<circle cx="549.6" cy="374.9" r="3.55"/>
<circle cx="549.9" cy="378.2" r="3.55"/>
<circle cx="550.9" cy="378.4" r="3.55"/>
<circle cx="551.0" cy="369.7" r="3.55"/>
<circle cx="551.6" cy="368.4" r="3.55"/>
<circle cx="551.7" cy="378.1" r="3.55"/>
<circle cx="552.8" cy="378.2" r="3.55"/>
<circle cx="553.7" cy="378.2" r="3.55"/>
<circle cx="553.8" cy="367.7" r="3.55"/>
<circle cx="555.0" cy="378.2" r="3.55"/>
<circle cx="555.5" cy="370.9" r="3.55"/>
<circle cx="556.0" cy="378.2" r="3.55"/>
<circle cx="557.0" cy="378.6" r="3.55"/>
<circle cx="557.5" cy="372.3" r="3.55"/>
<circle cx="558.3" cy="378.2" r="3.55"/>
<circle cx="558.4" cy="370.0" r="3.55"/>
<circle cx="559.0" cy="370.9" r="3.55"/>
<circle cx="559.1" cy="378.5" r="3.55"/>
<circle cx="559.9" cy="378.0" r="3.55"/>
<circle cx="560.4" cy="376.5" r="3.55"/>
<circle cx="561.1" cy="378.2" r="3.55"/>
<circle cx="561.8" cy="373.8" r="3.55"/>
<circle cx="562.3" cy="378.2" r="3.55"/>
<circle cx="563.4" cy="367.9" r="3.55"/>
<circle cx="563.6" cy="378.3" r="3.55"/>
<circle cx="564.4" cy="378.0" r="3.55"/>
<circle cx="565.0" cy="369.7" r="3.55"/>
<circle cx="565.4" cy="378.4" r="3.55"/>
<circle cx="566.6" cy="378.0" r="3.55"/>
<circle cx="567.1" cy="369.4" r="3.55"/>
<circle cx="567.7" cy="378.2" r="3.55"/>
<circle cx="568.6" cy="373.2" r="3.55"/>
<circle cx="568.7" cy="378.1" r="3.55"/>
<circle cx="569.6" cy="378.3" r="3.55"/>
<circle cx="570.0" cy="370.5" r="3.55"/>
<circle cx="570.8" cy="378.0" r="3.55"/>
<circle cx="571.7" cy="369.3" r="3.55"/>
<circle cx="571.8" cy="378.5" r="3.55"/>
<circle cx="573.1" cy="378.1" r="3.55"/>
<circle cx="573.5" cy="374.5" r="3.55"/>
<circle cx="573.9" cy="378.6" r="3.55"/>
<circle cx="574.7" cy="370.7" r="3.55"/>
<circle cx="575.2" cy="378.3" r="3.55"/>
<circle cx="575.7" cy="370.7" r="3.55"/>
<circle cx="575.9" cy="378.6" r="3.55"/>
<circle cx="576.8" cy="378.6" r="3.55"/>
<circle cx="577.0" cy="376.6" r="3.55"/>
<circle cx="577.9" cy="378.5" r="3.55"/>
<circle cx="578.6" cy="373.3" r="3.55"/>
<circle cx="578.7" cy="378.5" r="3.55"/>
<circle cx="579.5" cy="378.2" r="3.55"/>
<circle cx="580.7" cy="378.5" r="3.55"/>
<circle cx="580.8" cy="370.0" r="3.55"/>
<circle cx="581.5" cy="378.1" r="3.55"/>
<circle cx="582.5" cy="378.3" r="3.55"/>
<circle cx="582.6" cy="370.5" r="3.55"/>
<circle cx="583.4" cy="378.0" r="3.55"/>
<circle cx="584.3" cy="378.5" r="3.55"/>
<circle cx="584.4" cy="372.7" r="3.55"/>
<circle cx="585.5" cy="378.0" r="3.55"/>
<circle cx="586.5" cy="378.5" r="3.55"/>
<circle cx="586.6" cy="369.3" r="3.55"/>
<circle cx="587.3" cy="371.2" r="3.55"/>
<circle cx="587.3" cy="378.5" r="3.55"/>
<circle cx="588.0" cy="378.4" r="3.55"/>
<circle cx="588.2" cy="371.2" r="3.55"/>
<circle cx="589.1" cy="378.4" r="3.55"/>
<circle cx="589.8" cy="367.3" r="3.55"/>
<circle cx="590.0" cy="378.2" r="3.55"/>
<circle cx="590.7" cy="375.8" r="3.55"/>
<circle cx="591.0" cy="378.2" r="3.55"/>
<circle cx="591.5" cy="368.4" r="3.55"/>
<circle cx="592.1" cy="378.3" r="3.55"/>
<circle cx="592.4" cy="369.5" r="3.55"/>
<circle cx="593.1" cy="378.0" r="3.55"/>
<circle cx="593.8" cy="376.0" r="3.55"/>
<circle cx="594.1" cy="378.3" r="3.55"/>
<circle cx="595.0" cy="378.5" r="3.55"/>
<circle cx="595.8" cy="366.6" r="3.55"/>
<circle cx="596.1" cy="378.3" r="3.55"/>
<circle cx="596.9" cy="378.3" r="3.55"/>
<circle cx="597.7" cy="378.0" r="3.55"/>
<circle cx="597.8" cy="370.9" r="3.55"/>
<circle cx="598.7" cy="378.0" r="3.55"/>
<circle cx="599.2" cy="370.4" r="3.55"/>
<circle cx="599.6" cy="378.3" r="3.55"/>
<circle cx="600.4" cy="378.4" r="3.55"/>
<circle cx="601.0" cy="372.5" r="3.55"/>
<circle cx="601.1" cy="378.5" r="3.55"/>
<circle cx="602.3" cy="378.3" r="3.55"/>
<circle cx="602.5" cy="370.0" r="3.55"/>
<circle cx="603.0" cy="378.3" r="3.55"/>
<circle cx="603.1" cy="369.3" r="3.55"/>
<circle cx="603.9" cy="378.6" r="3.55"/>
<circle cx="604.7" cy="378.5" r="3.55"/>
<circle cx="605.1" cy="370.2" r="3.55"/>
<circle cx="605.8" cy="369.6" r="3.55"/>
<circle cx="606.0" cy="378.5" r="3.55"/>
<circle cx="607.1" cy="376.9" r="3.55"/>
<circle cx="607.2" cy="378.1" r="3.55"/>
<circle cx="608.5" cy="378.3" r="3.55"/>
<circle cx="608.6" cy="369.4" r="3.55"/>
<circle cx="609.8" cy="378.6" r="3.55"/>
<circle cx="610.4" cy="371.0" r="3.55"/>
<circle cx="610.6" cy="378.5" r="3.55"/>
<circle cx="611.1" cy="369.8" r="3.55"/>
<circle cx="611.8" cy="378.0" r="3.55"/>
<circle cx="612.7" cy="378.5" r="3.55"/>
<circle cx="613.0" cy="375.1" r="3.55"/>
<circle cx="613.5" cy="378.6" r="3.55"/>
<circle cx="614.4" cy="378.5" r="3.55"/>
<circle cx="615.1" cy="369.2" r="3.55"/>
<circle cx="615.2" cy="378.3" r="3.55"/>
<circle cx="615.8" cy="375.5" r="3.55"/>
<circle cx="616.4" cy="378.1" r="3.55"/>
<circle cx="617.3" cy="378.3" r="3.55"/>
<circle cx="617.4" cy="370.2" r="3.55"/>
<circle cx="618.2" cy="378.0" r="3.55"/>
<circle cx="618.7" cy="370.6" r="3.55"/>
<circle cx="619.0" cy="378.1" r="3.55"/>
<circle cx="620.3" cy="378.4" r="3.55"/>
<circle cx="620.7" cy="370.9" r="3.55"/>
<circle cx="621.5" cy="378.1" r="3.55"/>
<circle cx="622.7" cy="378.0" r="3.55"/>
<circle cx="622.8" cy="370.7" r="3.55"/>
<circle cx="623.4" cy="371.0" r="3.55"/>
<circle cx="623.7" cy="378.4" r="3.55"/>
<circle cx="624.6" cy="378.6" r="3.55"/>
<circle cx="624.7" cy="369.6" r="3.55"/>
<circle cx="625.6" cy="378.4" r="3.55"/>
<circle cx="626.8" cy="370.7" r="3.55"/>
<circle cx="626.9" cy="378.0" r="3.55"/>
<circle cx="627.8" cy="369.9" r="3.55"/>
<circle cx="628.2" cy="378.4" r="3.55"/>
<circle cx="629.0" cy="374.3" r="3.55"/>
<circle cx="629.1" cy="378.5" r="3.55"/>
<circle cx="629.9" cy="378.6" r="3.55"/>
<circle cx="631.0" cy="378.2" r="3.55"/>
<circle cx="631.1" cy="371.2" r="3.55"/>
<circle cx="632.2" cy="378.3" r="3.55"/>
<circle cx="632.9" cy="371.3" r="3.55"/>
<circle cx="633.0" cy="378.5" r="3.55"/>
<circle cx="633.7" cy="378.5" r="3.55"/>
<circle cx="634.5" cy="378.4" r="3.55"/>
<circle cx="634.7" cy="369.7" r="3.55"/>
<circle cx="635.8" cy="378.4" r="3.55"/>
<circle cx="636.0" cy="373.3" r="3.55"/>
<circle cx="636.9" cy="378.2" r="3.55"/>
<circle cx="637.6" cy="378.0" r="3.55"/>
<circle cx="638.0" cy="367.5" r="3.55"/>
<circle cx="638.4" cy="378.4" r="3.55"/>
<circle cx="639.4" cy="378.3" r="3.55"/>
<circle cx="639.9" cy="371.1" r="3.55"/>
<circle cx="640.6" cy="378.0" r="3.55"/>
<circle cx="641.5" cy="378.4" r="3.55"/>
<circle cx="641.7" cy="369.4" r="3.55"/>
<circle cx="642.2" cy="378.0" r="3.55"/>
<circle cx="643.1" cy="378.0" r="3.55"/>
<circle cx="643.6" cy="370.5" r="3.55"/>
<circle cx="644.0" cy="378.1" r="3.55"/>
<circle cx="644.8" cy="371.2" r="3.55"/>
<circle cx="645.0" cy="378.4" r="3.55"/>
<circle cx="645.7" cy="370.6" r="3.55"/>
<circle cx="645.9" cy="378.4" r="3.55"/>
<circle cx="646.9" cy="378.0" r="3.55"/>
<circle cx="647.2" cy="367.7" r="3.55"/>
<circle cx="648.1" cy="378.1" r="3.55"/>
<circle cx="648.9" cy="378.0" r="3.55"/>
<circle cx="649.2" cy="371.2" r="3.55"/>
<circle cx="650.0" cy="369.8" r="3.55"/>
<circle cx="650.0" cy="378.6" r="3.55"/>
<circle cx="651.2" cy="378.2" r="3.55"/>
<circle cx="652.0" cy="373.4" r="3.55"/>
<circle cx="652.0" cy="378.0" r="3.55"/>
<circle cx="653.1" cy="378.3" r="3.55"/>
<circle cx="653.8" cy="367.1" r="3.55"/>
<circle cx="654.0" cy="378.4" r="3.55"/>
<circle cx="655.0" cy="378.6" r="3.55"/>
<circle cx="655.1" cy="370.7" r="3.55"/>
<circle cx="656.1" cy="378.1" r="3.55"/>
<circle cx="656.8" cy="369.7" r="3.55"/>
<circle cx="657.4" cy="378.0" r="3.55"/>
<circle cx="657.9" cy="375.5" r="3.55"/>
<circle cx="658.4" cy="378.2" r="3.55"/>
<circle cx="658.8" cy="371.2" r="3.55"/>
<circle cx="659.2" cy="378.0" r="3.55"/>
<circle cx="660.4" cy="370.6" r="3.55"/>
<circle cx="660.4" cy="378.0" r="3.55"/>
<circle cx="661.4" cy="378.6" r="3.55"/>
<circle cx="662.0" cy="369.8" r="3.55"/>
<circle cx="662.2" cy="378.1" r="3.55"/>
<circle cx="662.7" cy="372.3" r="3.55"/>
<circle cx="663.3" cy="378.3" r="3.55"/>
<circle cx="663.9" cy="372.7" r="3.55"/>
<circle cx="664.4" cy="378.5" r="3.55"/>
<circle cx="665.2" cy="378.2" r="3.55"/>
<circle cx="665.3" cy="368.4" r="3.55"/>
<circle cx="666.0" cy="378.0" r="3.55"/>
<circle cx="666.3" cy="369.6" r="3.55"/>
<circle cx="667.0" cy="370.1" r="3.55"/>
<circle cx="667.3" cy="378.5" r="3.55"/>
<circle cx="668.4" cy="378.0" r="3.55"/>
<circle cx="668.8" cy="370.7" r="3.55"/>
<circle cx="669.5" cy="367.5" r="3.55"/>
<circle cx="669.6" cy="378.5" r="3.55"/>
<circle cx="670.6" cy="378.5" r="3.55"/>
<circle cx="671.4" cy="376.2" r="3.55"/>
<circle cx="671.6" cy="378.1" r="3.55"/>
<circle cx="672.3" cy="378.1" r="3.55"/>
<circle cx="672.4" cy="370.9" r="3.55"/>
<circle cx="673.0" cy="378.2" r="3.55"/>
<circle cx="674.1" cy="369.2" r="3.55"/>
<circle cx="674.2" cy="378.4" r="3.55"/>
<circle cx="675.0" cy="367.0" r="3.55"/>
<circle cx="675.4" cy="378.4" r="3.55"/>
<circle cx="676.3" cy="378.3" r="3.55"/>
<circle cx="676.6" cy="370.6" r="3.55"/>
<circle cx="677.2" cy="378.5" r="3.55"/>
<circle cx="677.5" cy="372.7" r="3.55"/>
<circle cx="678.2" cy="378.1" r="3.55"/>
<circle cx="679.3" cy="378.6" r="3.55"/>
<circle cx="679.7" cy="370.6" r="3.55"/>
<circle cx="680.2" cy="378.6" r="3.55"/>
<circle cx="680.9" cy="378.1" r="3.55"/>
<circle cx="681.2" cy="369.3" r="3.55"/>
<circle cx="681.7" cy="378.5" r="3.55"/>
<circle cx="681.8" cy="369.5" r="3.55"/>
<circle cx="683.0" cy="378.5" r="3.55"/>
<circle cx="683.9" cy="378.6" r="3.55"/>
<circle cx="684.0" cy="370.7" r="3.55"/>
<circle cx="684.8" cy="369.7" r="3.55"/>
<circle cx="684.8" cy="378.1" r="3.55"/>
<circle cx="686.0" cy="369.4" r="3.55"/>
<circle cx="686.0" cy="378.4" r="3.55"/>
<circle cx="687.0" cy="369.8" r="3.55"/>
<circle cx="687.1" cy="378.4" r="3.55"/>
<circle cx="688.2" cy="369.7" r="3.55"/>
<circle cx="688.4" cy="378.3" r="3.55"/>
<circle cx="689.1" cy="370.0" r="3.55"/>
<circle cx="689.6" cy="378.4" r="3.55"/>
<circle cx="690.3" cy="370.2" r="3.55"/>
<circle cx="690.8" cy="378.3" r="3.55"/>
<circle cx="692.0" cy="378.3" r="3.55"/>
<circle cx="692.3" cy="375.4" r="3.55"/>
<circle cx="692.8" cy="378.1" r="3.55"/>
<circle cx="693.9" cy="378.0" r="3.55"/>
<circle cx="694.2" cy="369.3" r="3.55"/>
<circle cx="695.2" cy="378.1" r="3.55"/>
<circle cx="695.5" cy="374.4" r="3.55"/>
<circle cx="695.9" cy="378.0" r="3.55"/>
<circle cx="697.1" cy="378.2" r="3.55"/>
<circle cx="697.2" cy="372.8" r="3.55"/>
<circle cx="697.9" cy="378.0" r="3.55"/>
<circle cx="698.6" cy="373.3" r="3.55"/>
<circle cx="698.7" cy="378.4" r="3.55"/>
<circle cx="699.7" cy="378.4" r="3.55"/>
<circle cx="699.9" cy="372.5" r="3.55"/>
<circle cx="700.9" cy="378.0" r="3.55"/>
<circle cx="701.1" cy="371.2" r="3.55"/>
<circle cx="701.9" cy="378.2" r="3.55"/>
<circle cx="702.6" cy="373.3" r="3.55"/>
<circle cx="703.1" cy="378.5" r="3.55"/>
<circle cx="704.4" cy="371.0" r="3.55"/>
<circle cx="704.4" cy="378.0" r="3.55"/>
<circle cx="705.6" cy="378.6" r="3.55"/>
<circle cx="706.5" cy="369.4" r="3.55"/>
<circle cx="706.8" cy="378.0" r="3.55"/>
<circle cx="707.7" cy="378.0" r="3.55"/>
<circle cx="708.4" cy="378.5" r="3.55"/>
<circle cx="708.6" cy="369.7" r="3.55"/>
<circle cx="709.5" cy="369.6" r="3.55"/>
<circle cx="709.6" cy="378.4" r="3.55"/>
<circle cx="710.2" cy="371.1" r="3.55"/>
<circle cx="710.8" cy="378.4" r="3.55"/>
<circle cx="711.6" cy="369.4" r="3.55"/>
<circle cx="711.6" cy="378.0" r="3.55"/>
<circle cx="712.4" cy="378.5" r="3.55"/>
<circle cx="712.9" cy="369.6" r="3.55"/>
<circle cx="713.2" cy="378.2" r="3.55"/>
<circle cx="714.2" cy="378.0" r="3.55"/>
<circle cx="714.6" cy="369.5" r="3.55"/>
<circle cx="715.0" cy="378.1" r="3.55"/>
<circle cx="716.2" cy="378.2" r="3.55"/>
<circle cx="716.7" cy="369.6" r="3.55"/>
<circle cx="717.1" cy="378.6" r="3.55"/>
<circle cx="717.3" cy="370.3" r="3.55"/>
<circle cx="718.0" cy="370.8" r="3.55"/>
<circle cx="718.1" cy="378.5" r="3.55"/>
<circle cx="719.1" cy="378.0" r="3.55"/>
<circle cx="719.4" cy="370.2" r="3.55"/>
<circle cx="720.1" cy="378.3" r="3.55"/>
<circle cx="721.0" cy="369.5" r="3.55"/>
<circle cx="721.2" cy="378.2" r="3.55"/>
<circle cx="722.4" cy="378.3" r="3.55"/>
<circle cx="722.9" cy="368.5" r="3.55"/>
<circle cx="723.2" cy="378.6" r="3.55"/>
<circle cx="723.9" cy="378.5" r="3.55"/>
<circle cx="724.7" cy="378.0" r="3.55"/>
<circle cx="724.9" cy="371.1" r="3.55"/>
<circle cx="725.6" cy="378.5" r="3.55"/>
<circle cx="725.8" cy="370.5" r="3.55"/>
<circle cx="726.9" cy="378.0" r="3.55"/>
<circle cx="727.8" cy="373.2" r="3.55"/>
<circle cx="727.8" cy="378.3" r="3.55"/>
<circle cx="728.5" cy="369.5" r="3.55"/>
<circle cx="729.0" cy="378.1" r="3.55"/>
<circle cx="729.4" cy="370.4" r="3.55"/>
<circle cx="730.0" cy="378.2" r="3.55"/>
<circle cx="731.2" cy="378.1" r="3.55"/>
<circle cx="731.5" cy="370.6" r="3.55"/>
<circle cx="732.1" cy="367.2" r="3.55"/>
<circle cx="732.5" cy="378.1" r="3.55"/>
<circle cx="733.3" cy="378.4" r="3.55"/>
<circle cx="733.5" cy="371.2" r="3.55"/>
<circle cx="734.3" cy="378.0" r="3.55"/>
<circle cx="734.8" cy="368.2" r="3.55"/>
<circle cx="735.4" cy="378.0" r="3.55"/>
<circle cx="735.8" cy="369.6" r="3.55"/>
<circle cx="736.6" cy="378.4" r="3.55"/>
<circle cx="737.7" cy="378.4" r="3.55"/>
<circle cx="738.0" cy="369.7" r="3.55"/>
<circle cx="738.7" cy="378.2" r="3.55"/>
<circle cx="739.6" cy="378.6" r="3.55"/>
<circle cx="740.1" cy="370.1" r="3.55"/>
<circle cx="740.3" cy="378.6" r="3.55"/>
<circle cx="741.1" cy="378.1" r="3.55"/>
<circle cx="741.3" cy="369.2" r="3.55"/>
<circle cx="741.9" cy="378.6" r="3.55"/>
<circle cx="742.5" cy="376.2" r="3.55"/>
<circle cx="742.9" cy="378.2" r="3.55"/>
<circle cx="743.1" cy="369.7" r="3.55"/>
<circle cx="744.2" cy="378.1" r="3.55"/>
<circle cx="744.4" cy="370.7" r="3.55"/>
<circle cx="745.1" cy="378.3" r="3.55"/>
<circle cx="745.2" cy="369.5" r="3.55"/>
<circle cx="746.3" cy="378.5" r="3.55"/>
<circle cx="747.4" cy="372.9" r="3.55"/>
<circle cx="747.4" cy="378.2" r="3.55"/>
<circle cx="748.3" cy="378.1" r="3.55"/>
<circle cx="748.8" cy="371.1" r="3.55"/>
<circle cx="749.5" cy="369.6" r="3.55"/>
<circle cx="749.5" cy="378.4" r="3.55"/>
<circle cx="750.6" cy="378.1" r="3.55"/>
<circle cx="751.0" cy="370.1" r="3.55"/>
<circle cx="751.6" cy="378.5" r="3.55"/>
<circle cx="752.6" cy="378.0" r="3.55"/>
<circle cx="753.0" cy="371.0" r="3.55"/>
<circle cx="753.6" cy="378.6" r="3.55"/>
<circle cx="754.4" cy="378.1" r="3.55"/>
<circle cx="755.2" cy="371.2" r="3.55"/>
<circle cx="755.3" cy="378.4" r="3.55"/>
<circle cx="756.4" cy="376.6" r="3.55"/>
<circle cx="756.5" cy="378.1" r="3.55"/>
<circle cx="757.2" cy="373.6" r="3.55"/>
<circle cx="757.3" cy="378.1" r="3.55"/>
<circle cx="758.2" cy="378.3" r="3.55"/>
<circle cx="758.3" cy="368.9" r="3.55"/>
<circle cx="759.0" cy="378.2" r="3.55"/>
<circle cx="759.5" cy="371.0" r="3.55"/>
<circle cx="759.8" cy="378.6" r="3.55"/>
<circle cx="761.0" cy="378.0" r="3.55"/>
<circle cx="761.4" cy="370.3" r="3.55"/>
<circle cx="762.2" cy="370.6" r="3.55"/>
<circle cx="762.2" cy="378.0" r="3.55"/>
<circle cx="763.2" cy="378.6" r="3.55"/>
<circle cx="763.7" cy="371.1" r="3.55"/>
<circle cx="764.4" cy="378.5" r="3.55"/>
<circle cx="765.3" cy="378.1" r="3.55"/>
<circle cx="765.9" cy="369.4" r="3.55"/>
<circle cx="766.4" cy="378.0" r="3.55"/>
<circle cx="767.2" cy="378.2" r="3.55"/>
<circle cx="767.9" cy="369.6" r="3.55"/>
<circle cx="767.9" cy="378.2" r="3.55"/>
<circle cx="769.1" cy="378.4" r="3.55"/>
<circle cx="769.6" cy="369.7" r="3.55"/>
<circle cx="770.1" cy="378.4" r="3.55"/>
<circle cx="770.8" cy="370.6" r="3.55"/>
<circle cx="771.1" cy="378.0" r="3.55"/>
<circle cx="771.5" cy="370.5" r="3.55"/>
<circle cx="772.2" cy="378.2" r="3.55"/>
<circle cx="772.9" cy="370.9" r="3.55"/>
<circle cx="773.3" cy="378.6" r="3.55"/>
<circle cx="773.5" cy="370.6" r="3.55"/>
<circle cx="774.3" cy="378.4" r="3.55"/>
<circle cx="775.2" cy="369.6" r="3.55"/>
<circle cx="775.4" cy="378.2" r="3.55"/>
<circle cx="776.2" cy="378.5" r="3.55"/>
<circle cx="777.4" cy="369.7" r="3.55"/>
<circle cx="777.5" cy="378.5" r="3.55"/>
<circle cx="778.6" cy="378.5" r="3.55"/>
<circle cx="778.7" cy="367.1" r="3.55"/>
<circle cx="779.7" cy="378.4" r="3.55"/>
<circle cx="779.9" cy="368.9" r="3.55"/>
<circle cx="780.7" cy="378.2" r="3.55"/>
<circle cx="780.9" cy="370.0" r="3.55"/>
<circle cx="781.8" cy="378.0" r="3.55"/>
<circle cx="782.5" cy="369.5" r="3.55"/>
<circle cx="782.7" cy="378.5" r="3.55"/>
<circle cx="783.5" cy="369.8" r="3.55"/>
<circle cx="783.8" cy="378.4" r="3.55"/>
<circle cx="784.2" cy="374.1" r="3.55"/>
<circle cx="784.7" cy="378.2" r="3.55"/>
<circle cx="785.4" cy="375.0" r="3.55"/>
<circle cx="785.7" cy="378.4" r="3.55"/>
<circle cx="786.6" cy="378.4" r="3.55"/>
<circle cx="787.5" cy="369.9" r="3.55"/>
<circle cx="787.9" cy="378.1" r="3.55"/>
<circle cx="789.0" cy="378.5" r="3.55"/>
<circle cx="789.3" cy="369.6" r="3.55"/>
<circle cx="789.9" cy="378.3" r="3.55"/>
<circle cx="790.6" cy="375.4" r="3.55"/>
<circle cx="791.2" cy="378.0" r="3.55"/>
<circle cx="791.5" cy="371.2" r="3.55"/>
<circle cx="792.2" cy="378.1" r="3.55"/>
<circle cx="793.3" cy="370.5" r="3.55"/>
<circle cx="793.4" cy="378.6" r="3.55"/>
<circle cx="794.4" cy="378.0" r="3.55"/>
<circle cx="794.9" cy="371.2" r="3.55"/>
<circle cx="795.4" cy="378.3" r="3.55"/>
<circle cx="795.8" cy="369.8" r="3.55"/>
<circle cx="796.6" cy="378.3" r="3.55"/>
<circle cx="796.9" cy="370.5" r="3.55"/>
<circle cx="797.6" cy="378.5" r="3.55"/>
<circle cx="798.6" cy="378.2" r="3.55"/>
<circle cx="798.8" cy="370.4" r="3.55"/>
<circle cx="799.7" cy="374.8" r="3.55"/>
<circle cx="799.9" cy="378.1" r="3.55"/>
<circle cx="801.0" cy="378.2" r="3.55"/>
<circle cx="801.5" cy="369.3" r="3.55"/>
<circle cx="802.1" cy="375.5" r="3.55"/>
<circle cx="802.2" cy="378.0" r="3.55"/>
<circle cx="802.7" cy="369.8" r="3.55"/>
<circle cx="803.5" cy="378.2" r="3.55"/>
<circle cx="804.2" cy="378.1" r="3.55"/>
<circle cx="804.4" cy="366.7" r="3.55"/>
<circle cx="805.1" cy="378.0" r="3.55"/>
<circle cx="805.2" cy="369.1" r="3.55"/>
<circle cx="806.1" cy="370.3" r="3.55"/>
<circle cx="806.1" cy="378.2" r="3.55"/>
<circle cx="807.2" cy="370.2" r="3.55"/>
<circle cx="807.2" cy="378.2" r="3.55"/>
<circle cx="808.1" cy="378.1" r="3.55"/>
<circle cx="808.2" cy="372.6" r="3.55"/>
<circle cx="809.1" cy="375.2" r="3.55"/>
<circle cx="809.2" cy="378.6" r="3.55"/>
<circle cx="810.2" cy="378.1" r="3.55"/>
<circle cx="810.8" cy="370.9" r="3.55"/>
<circle cx="811.4" cy="378.2" r="3.55"/>
<circle cx="812.2" cy="378.0" r="3.55"/>
<circle cx="812.5" cy="370.2" r="3.55"/>
<circle cx="813.4" cy="368.1" r="3.55"/>
<circle cx="813.4" cy="378.5" r="3.55"/>
<circle cx="814.1" cy="375.5" r="3.55"/>
<circle cx="814.5" cy="378.3" r="3.55"/>
<circle cx="815.3" cy="369.7" r="3.55"/>
<circle cx="815.5" cy="378.1" r="3.55"/>
<circle cx="816.8" cy="378.2" r="3.55"/>
<circle cx="817.2" cy="369.4" r="3.55"/>
<circle cx="817.9" cy="378.5" r="3.55"/>
<circle cx="818.7" cy="370.7" r="3.55"/>
<circle cx="819.1" cy="378.3" r="3.55"/>
<circle cx="820.0" cy="378.3" r="3.55"/>
<circle cx="820.6" cy="369.7" r="3.55"/>
<circle cx="820.7" cy="378.5" r="3.55"/>
<circle cx="821.4" cy="370.4" r="3.55"/>
<circle cx="821.6" cy="378.5" r="3.55"/>
<circle cx="822.2" cy="370.4" r="3.55"/>
<circle cx="822.5" cy="378.2" r="3.55"/>
<circle cx="823.0" cy="369.7" r="3.55"/>
<circle cx="823.4" cy="378.2" r="3.55"/>
<circle cx="824.0" cy="370.3" r="3.55"/>
<circle cx="824.2" cy="378.0" r="3.55"/>
<circle cx="825.3" cy="378.1" r="3.55"/>
<circle cx="825.7" cy="375.7" r="3.55"/>
<circle cx="826.2" cy="378.2" r="3.55"/>
<circle cx="826.7" cy="370.5" r="3.55"/>
<circle cx="827.1" cy="378.2" r="3.55"/>
<circle cx="828.2" cy="378.4" r="3.55"/>
<circle cx="828.4" cy="371.1" r="3.55"/>
<circle cx="829.1" cy="378.6" r="3.55"/>
<circle cx="829.3" cy="370.6" r="3.55"/>
<circle cx="830.4" cy="373.3" r="3.55"/>
<circle cx="830.4" cy="378.0" r="3.55"/>
<circle cx="831.5" cy="378.6" r="3.55"/>
<circle cx="832.2" cy="370.7" r="3.55"/>
<circle cx="832.7" cy="378.0" r="3.55"/>
<circle cx="833.9" cy="378.4" r="3.55"/>
<circle cx="834.3" cy="369.9" r="3.55"/>
<circle cx="834.6" cy="378.0" r="3.55"/>
<circle cx="835.4" cy="369.3" r="3.55"/>
<circle cx="835.9" cy="378.4" r="3.55"/>
<circle cx="836.7" cy="378.0" r="3.55"/>
<circle cx="837.0" cy="372.4" r="3.55"/>
<circle cx="837.5" cy="378.1" r="3.55"/>
<circle cx="838.4" cy="376.7" r="3.55"/>
<circle cx="838.7" cy="378.2" r="3.55"/>
<circle cx="839.5" cy="378.6" r="3.55"/>
<circle cx="840.4" cy="369.6" r="3.55"/>
<circle cx="840.7" cy="378.1" r="3.55"/>
<circle cx="841.2" cy="370.3" r="3.55"/>
<circle cx="841.9" cy="378.4" r="3.55"/>
<circle cx="842.4" cy="370.3" r="3.55"/>
<circle cx="843.1" cy="378.4" r="3.55"/>
<circle cx="844.2" cy="372.5" r="3.55"/>
<circle cx="844.3" cy="378.5" r="3.55"/>
<circle cx="845.5" cy="369.7" r="3.55"/>
<circle cx="845.5" cy="378.1" r="3.55"/>
<circle cx="846.6" cy="378.3" r="3.55"/>
<circle cx="847.1" cy="369.9" r="3.55"/>
<circle cx="847.8" cy="378.3" r="3.55"/>
<circle cx="848.5" cy="370.8" r="3.55"/>
<circle cx="849.0" cy="378.3" r="3.55"/>
<circle cx="849.7" cy="371.1" r="3.55"/>
<circle cx="849.9" cy="378.1" r="3.55"/>
<circle cx="850.6" cy="378.3" r="3.55"/>
<circle cx="851.4" cy="378.3" r="3.55"/>
<circle cx="851.8" cy="369.4" r="3.55"/>
<circle cx="852.2" cy="378.3" r="3.55"/>
<circle cx="853.1" cy="369.8" r="3.55"/>
<circle cx="853.2" cy="378.3" r="3.55"/>
<circle cx="853.8" cy="369.0" r="3.55"/>
<circle cx="854.4" cy="378.0" r="3.55"/>
<circle cx="854.6" cy="370.5" r="3.55"/>
<circle cx="855.6" cy="378.3" r="3.55"/>
<circle cx="855.7" cy="375.8" r="3.55"/>
<circle cx="856.6" cy="378.4" r="3.55"/>
<circle cx="857.5" cy="369.4" r="3.55"/>
<circle cx="857.8" cy="378.2" r="3.55"/>
<circle cx="858.7" cy="376.8" r="3.55"/>
<circle cx="858.8" cy="378.6" r="3.55"/>
<circle cx="859.4" cy="370.8" r="3.55"/>
<circle cx="859.5" cy="378.4" r="3.55"/>
<circle cx="860.2" cy="372.5" r="3.55"/>
<circle cx="860.6" cy="378.0" r="3.55"/>
<circle cx="861.1" cy="370.9" r="3.55"/>
<circle cx="861.7" cy="378.4" r="3.55"/>
<circle cx="861.9" cy="375.9" r="3.55"/>
<circle cx="862.9" cy="378.2" r="3.55"/>
<circle cx="863.2" cy="369.5" r="3.55"/>
<circle cx="864.2" cy="366.9" r="3.55"/>
<circle cx="864.2" cy="378.3" r="3.55"/>
<circle cx="865.2" cy="371.1" r="3.55"/>
<circle cx="865.2" cy="378.6" r="3.55"/>
<circle cx="865.9" cy="378.5" r="3.55"/>
<circle cx="867.0" cy="378.2" r="3.55"/>
<circle cx="867.3" cy="371.2" r="3.55"/>
<circle cx="868.2" cy="378.2" r="3.55"/>
<circle cx="868.8" cy="370.2" r="3.55"/>
<circle cx="869.2" cy="378.3" r="3.55"/>
<circle cx="870.4" cy="378.1" r="3.55"/>
<circle cx="870.6" cy="369.5" r="3.55"/>
<circle cx="871.3" cy="378.2" r="3.55"/>
<circle cx="871.5" cy="366.9" r="3.55"/>
<circle cx="872.4" cy="378.5" r="3.55"/>
<circle cx="873.2" cy="378.5" r="3.55"/>
<circle cx="873.4" cy="369.7" r="3.55"/>
<circle cx="874.2" cy="378.3" r="3.55"/>
<circle cx="874.4" cy="371.3" r="3.55"/>
<circle cx="875.0" cy="378.3" r="3.55"/>
<circle cx="875.2" cy="369.9" r="3.55"/>
<circle cx="876.1" cy="369.9" r="3.55"/>
<circle cx="876.3" cy="378.4" r="3.55"/>
<circle cx="877.0" cy="370.9" r="3.55"/>
<circle cx="877.5" cy="378.2" r="3.55"/>
<circle cx="878.4" cy="378.2" r="3.55"/>
<circle cx="879.0" cy="369.2" r="3.55"/>
<circle cx="879.4" cy="378.4" r="3.55"/>
<circle cx="880.6" cy="378.0" r="3.55"/>
<circle cx="880.8" cy="371.1" r="3.55"/>
<circle cx="881.7" cy="378.6" r="3.55"/>
<circle cx="882.8" cy="378.0" r="3.55"/>
<circle cx="883.0" cy="371.0" r="3.55"/>
<circle cx="883.7" cy="378.0" r="3.55"/>
<circle cx="884.5" cy="378.6" r="3.55"/>
<circle cx="884.9" cy="370.0" r="3.55"/>
<circle cx="885.5" cy="378.4" r="3.55"/>
<circle cx="886.1" cy="370.0" r="3.55"/>
<circle cx="886.7" cy="378.6" r="3.55"/>
<circle cx="886.8" cy="371.1" r="3.55"/>
<circle cx="887.8" cy="378.4" r="3.55"/>
<circle cx="888.1" cy="371.1" r="3.55"/>
<circle cx="888.9" cy="378.4" r="3.55"/>
<circle cx="889.9" cy="371.1" r="3.55"/>
<circle cx="889.9" cy="378.4" r="3.55"/>
<circle cx="890.7" cy="378.4" r="3.55"/>
<circle cx="891.7" cy="378.5" r="3.55"/>
<circle cx="891.8" cy="368.5" r="3.55"/>
<circle cx="892.5" cy="378.1" r="3.55"/>
<circle cx="893.2" cy="378.5" r="3.55"/>
<circle cx="893.6" cy="369.7" r="3.55"/>
<circle cx="894.4" cy="378.4" r="3.55"/>
<circle cx="895.2" cy="371.0" r="3.55"/>
<circle cx="895.4" cy="378.5" r="3.55"/>
<circle cx="896.1" cy="369.9" r="3.55"/>
<circle cx="896.5" cy="378.3" r="3.55"/>
<circle cx="897.4" cy="378.2" r="3.55"/>
<circle cx="898.0" cy="371.0" r="3.55"/>
<circle cx="898.3" cy="378.2" r="3.55"/>
<circle cx="899.3" cy="378.4" r="3.55"/>
<circle cx="899.9" cy="369.5" r="3.55"/>
<circle cx="900.6" cy="378.0" r="3.55"/>
<circle cx="901.6" cy="378.0" r="3.55"/>
<circle cx="902.0" cy="370.6" r="3.55"/>
<circle cx="902.4" cy="378.5" r="3.55"/>
<circle cx="903.4" cy="378.6" r="3.55"/>
<circle cx="903.7" cy="376.4" r="3.55"/>
<circle cx="904.4" cy="378.0" r="3.55"/>
<circle cx="905.2" cy="369.9" r="3.55"/>
<circle cx="905.3" cy="378.4" r="3.55"/>
<circle cx="906.6" cy="378.6" r="3.55"/>
<circle cx="907.0" cy="371.0" r="3.55"/>
<circle cx="907.6" cy="378.2" r="3.55"/>
<circle cx="907.9" cy="369.7" r="3.55"/>
<circle cx="908.3" cy="378.4" r="3.55"/>
<circle cx="908.7" cy="369.3" r="3.55"/>
<circle cx="909.2" cy="378.1" r="3.55"/>
<circle cx="909.9" cy="378.0" r="3.55"/>
<circle cx="910.6" cy="369.3" r="3.55"/>
<circle cx="911.0" cy="378.0" r="3.55"/>
<circle cx="911.3" cy="369.6" r="3.55"/>
<circle cx="912.3" cy="378.0" r="3.55"/>
<circle cx="912.6" cy="370.9" r="3.55"/>
<circle cx="913.5" cy="378.0" r="3.55"/>
<circle cx="914.2" cy="378.5" r="3.55"/>
<circle cx="914.8" cy="370.5" r="3.55"/>
<circle cx="915.0" cy="378.5" r="3.55"/>
<circle cx="915.8" cy="378.0" r="3.55"/>
<circle cx="916.8" cy="371.1" r="3.55"/>
<circle cx="917.0" cy="378.4" r="3.55"/>
<circle cx="918.2" cy="378.5" r="3.55"/>
<circle cx="918.6" cy="371.0" r="3.55"/>
<circle cx="919.0" cy="378.4" r="3.55"/>
<circle cx="920.1" cy="375.0" r="3.55"/>
<circle cx="920.1" cy="378.3" r="3.55"/>
<circle cx="921.4" cy="378.1" r="3.55"/>
<circle cx="922.0" cy="370.2" r="3.55"/>
<circle cx="922.6" cy="378.5" r="3.55"/>
<circle cx="923.3" cy="368.3" r="3.55"/>
<circle cx="923.3" cy="378.0" r="3.55"/>
<circle cx="924.2" cy="370.0" r="3.55"/>
<circle cx="924.4" cy="378.5" r="3.55"/>
<circle cx="925.2" cy="378.2" r="3.55"/>
<circle cx="926.3" cy="369.5" r="3.55"/>
<circle cx="926.3" cy="378.1" r="3.55"/>
<circle cx="927.5" cy="378.3" r="3.55"/>
<circle cx="928.3" cy="378.2" r="3.55"/>
<circle cx="928.4" cy="375.0" r="3.55"/>
<circle cx="929.3" cy="378.3" r="3.55"/>
<circle cx="929.7" cy="370.1" r="3.55"/>
<circle cx="930.4" cy="370.9" r="3.55"/>
<circle cx="930.4" cy="378.1" r="3.55"/>
<circle cx="931.6" cy="378.2" r="3.55"/>
<circle cx="932.3" cy="369.7" r="3.55"/>
<circle cx="932.7" cy="378.4" r="3.55"/>
<circle cx="933.6" cy="378.2" r="3.55"/>
<circle cx="934.1" cy="369.7" r="3.55"/>
<circle cx="934.8" cy="378.6" r="3.55"/>
<circle cx="936.0" cy="378.3" r="3.55"/>
<circle cx="936.1" cy="367.7" r="3.55"/>
<circle cx="936.9" cy="378.0" r="3.55"/>
<circle cx="937.3" cy="371.2" r="3.55"/>
<circle cx="938.1" cy="378.4" r="3.55"/>
<circle cx="938.2" cy="369.9" r="3.55"/>
<circle cx="939.3" cy="378.2" r="3.55"/>
<circle cx="940.0" cy="370.3" r="3.55"/>
<circle cx="940.4" cy="378.6" r="3.55"/>
<circle cx="941.4" cy="369.5" r="3.55"/>
<circle cx="941.6" cy="378.4" r="3.55"/>
<circle cx="942.5" cy="378.2" r="3.55"/>
<circle cx="943.5" cy="368.1" r="3.55"/>
<circle cx="943.7" cy="378.2" r="3.55"/>
<circle cx="944.8" cy="378.4" r="3.55"/>
<circle cx="945.4" cy="371.1" r="3.55"/>
<circle cx="946.1" cy="378.5" r="3.55"/>
<circle cx="946.9" cy="371.0" r="3.55"/>
<circle cx="946.9" cy="378.0" r="3.55"/>
<circle cx="947.8" cy="378.2" r="3.55"/>
<circle cx="948.1" cy="367.1" r="3.55"/>
<circle cx="948.7" cy="371.1" r="3.55"/>
<circle cx="948.8" cy="378.5" r="3.55"/>
<circle cx="950.1" cy="378.0" r="3.55"/>
<circle cx="950.8" cy="367.9" r="3.55"/>
<circle cx="951.3" cy="378.5" r="3.55"/>
<circle cx="952.5" cy="378.4" r="3.55"/>
<circle cx="952.8" cy="369.5" r="3.55"/>
<circle cx="953.4" cy="378.5" r="3.55"/>
<circle cx="954.5" cy="370.1" r="3.55"/>
<circle cx="954.5" cy="378.4" r="3.55"/>
<circle cx="955.8" cy="378.2" r="3.55"/>
<circle cx="956.0" cy="369.8" r="3.55"/>
<circle cx="956.5" cy="378.3" r="3.55"/>
<circle cx="957.3" cy="370.2" r="3.55"/>
<circle cx="957.7" cy="378.1" r="3.55"/>
<circle cx="958.0" cy="373.8" r="3.55"/>
<circle cx="958.9" cy="378.6" r="3.55"/>
<circle cx="959.7" cy="378.4" r="3.55"/>
<circle cx="959.8" cy="369.7" r="3.55"/>
<circle cx="960.8" cy="369.6" r="3.55"/>
<circle cx="960.8" cy="378.3" r="3.55"/>
<circle cx="961.6" cy="378.1" r="3.55"/>
<circle cx="962.4" cy="367.1" r="3.55"/>
<circle cx="962.8" cy="378.5" r="3.55"/>
<circle cx="963.8" cy="378.0" r="3.55"/>
<circle cx="963.9" cy="370.8" r="3.55"/>
<circle cx="965.0" cy="378.5" r="3.55"/>
<circle cx="965.6" cy="369.8" r="3.55"/>
<circle cx="965.8" cy="378.4" r="3.55"/>
<circle cx="967.0" cy="378.6" r="3.55"/>
<circle cx="967.6" cy="366.7" r="3.55"/>
<circle cx="968.1" cy="378.3" r="3.55"/>
<circle cx="969.1" cy="378.1" r="3.55"/>
<circle cx="969.7" cy="369.4" r="3.55"/>
<circle cx="969.9" cy="378.1" r="3.55"/>
<circle cx="970.4" cy="370.6" r="3.55"/>
<circle cx="971.0" cy="378.2" r="3.55"/>
<circle cx="971.2" cy="370.5" r="3.55"/>
<circle cx="972.1" cy="378.2" r="3.55"/>
<circle cx="973.1" cy="378.1" r="3.55"/>
<circle cx="973.4" cy="370.8" r="3.55"/>
<circle cx="973.8" cy="378.6" r="3.55"/>
<circle cx="974.4" cy="369.5" r="3.55"/>
<circle cx="974.7" cy="378.0" r="3.55"/>
<circle cx="975.7" cy="369.8" r="3.55"/>
<circle cx="975.8" cy="378.5" r="3.55"/>
<circle cx="976.5" cy="369.4" r="3.55"/>
<circle cx="976.6" cy="378.4" r="3.55"/>
<circle cx="977.4" cy="370.3" r="3.55"/>
<circle cx="977.5" cy="378.3" r="3.55"/>
<circle cx="978.2" cy="378.0" r="3.55"/>
<circle cx="978.3" cy="370.1" r="3.55"/>
<circle cx="979.5" cy="378.6" r="3.55"/>
<circle cx="980.5" cy="371.2" r="3.55"/>
<circle cx="980.5" cy="378.3" r="3.55"/>
<circle cx="981.4" cy="378.5" r="3.55"/>
<circle cx="981.8" cy="370.4" r="3.55"/>
<circle cx="982.3" cy="378.6" r="3.55"/>
<circle cx="982.7" cy="372.6" r="3.55"/>
<circle cx="983.5" cy="378.5" r="3.55"/>
<circle cx="984.4" cy="367.6" r="3.55"/>
<circle cx="984.8" cy="378.1" r="3.55"/>
<circle cx="985.5" cy="378.1" r="3.55"/>
<circle cx="985.6" cy="369.9" r="3.55"/>
<circle cx="986.3" cy="378.0" r="3.55"/>
<circle cx="987.0" cy="378.3" r="3.55"/>
<circle cx="987.3" cy="369.5" r="3.55"/>
<circle cx="988.3" cy="378.3" r="3.55"/>
<circle cx="989.3" cy="369.2" r="3.55"/>
<circle cx="989.5" cy="378.6" r="3.55"/>
<circle cx="990.3" cy="378.4" r="3.55"/>
<circle cx="991.2" cy="369.9" r="3.55"/>
<circle cx="991.2" cy="378.0" r="3.55"/>
<circle cx="992.5" cy="378.1" r="3.55"/>
<circle cx="992.8" cy="367.6" r="3.55"/>
<circle cx="993.5" cy="378.4" r="3.55"/>
<circle cx="994.1" cy="370.4" r="3.55"/>
<circle cx="994.8" cy="378.4" r="3.55"/>
<circle cx="995.7" cy="378.3" r="3.55"/>
<circle cx="995.8" cy="371.2" r="3.55"/>
<circle cx="996.5" cy="378.6" r="3.55"/>
<circle cx="996.6" cy="371.0" r="3.55"/>
<circle cx="997.8" cy="378.1" r="3.55"/>
<circle cx="998.5" cy="370.6" r="3.55"/>
<circle cx="998.5" cy="378.1" r="3.55"/>
<circle cx="999.4" cy="378.6" r="3.55"/>
<circle cx="999.6" cy="368.0" r="3.55"/>
<circle cx="1000.7" cy="378.5" r="3.55"/>
<circle cx="1000.9" cy="369.4" r="3.55"/>
<circle cx="1001.4" cy="378.5" r="3.55"/>
<circle cx="1002.5" cy="378.4" r="3.55"/>
<circle cx="1002.9" cy="369.3" r="3.55"/>
<circle cx="1003.8" cy="378.0" r="3.55"/>
<circle cx="1004.0" cy="370.2" r="3.55"/>
<circle cx="1004.6" cy="378.5" r="3.55"/>
<circle cx="1005.2" cy="367.5" r="3.55"/>
<circle cx="1005.9" cy="378.4" r="3.55"/>
<circle cx="1006.6" cy="368.3" r="3.55"/>
<circle cx="1006.8" cy="378.4" r="3.55"/>
<circle cx="1007.9" cy="378.0" r="3.55"/>
<circle cx="1008.0" cy="370.0" r="3.55"/>
<circle cx="1008.8" cy="378.1" r="3.55"/>
<circle cx="1009.6" cy="369.7" r="3.55"/>
<circle cx="1009.6" cy="378.3" r="3.55"/>
<circle cx="1010.4" cy="378.1" r="3.55"/>
<circle cx="1010.8" cy="370.0" r="3.55"/>
<circle cx="1011.2" cy="378.4" r="3.55"/>
<circle cx="1011.9" cy="378.5" r="3.55"/>
<circle cx="1012.7" cy="378.0" r="3.55"/>
<circle cx="1012.8" cy="369.8" r="3.55"/>
<circle cx="1014.0" cy="369.5" r="3.55"/>
<circle cx="1014.0" cy="378.1" r="3.55"/>
<circle cx="1015.2" cy="378.6" r="3.55"/>
<circle cx="1015.7" cy="373.1" r="3.55"/>
<circle cx="1016.4" cy="369.5" r="3.55"/>
<circle cx="1016.5" cy="378.0" r="3.55"/>
<circle cx="1017.3" cy="373.5" r="3.55"/>
<circle cx="1017.4" cy="378.0" r="3.55"/>
<circle cx="1018.7" cy="378.5" r="3.55"/>
<circle cx="1019.1" cy="371.1" r="3.55"/>
<circle cx="1019.8" cy="378.3" r="3.55"/>
<circle cx="1020.7" cy="378.5" r="3.55"/>
<circle cx="1021.2" cy="371.1" r="3.55"/>
<circle cx="1021.6" cy="378.4" r="3.55"/>
<circle cx="1022.0" cy="367.7" r="3.55"/>
<circle cx="1022.4" cy="378.1" r="3.55"/>
<circle cx="1022.9" cy="371.0" r="3.55"/>
<circle cx="1023.2" cy="378.4" r="3.55"/>
<circle cx="1024.1" cy="376.4" r="3.55"/>
<circle cx="1024.2" cy="378.1" r="3.55"/>
<circle cx="1025.4" cy="378.1" r="3.55"/>
<circle cx="1025.9" cy="371.3" r="3.55"/>
<circle cx="1026.4" cy="378.1" r="3.55"/>
<circle cx="1026.6" cy="372.8" r="3.55"/>
<circle cx="1027.2" cy="370.5" r="3.55"/>
<circle cx="1027.2" cy="378.5" r="3.55"/>
<circle cx="1028.0" cy="373.1" r="3.55"/>
<circle cx="1028.1" cy="378.1" r="3.55"/>
<circle cx="1029.1" cy="378.2" r="3.55"/>
<circle cx="1029.5" cy="371.2" r="3.55"/>
<circle cx="1030.4" cy="378.0" r="3.55"/>
<circle cx="1030.7" cy="367.7" r="3.55"/>
<circle cx="1031.7" cy="378.0" r="3.55"/>
<circle cx="1031.9" cy="369.7" r="3.55"/>
<circle cx="1032.9" cy="378.4" r="3.55"/>
<circle cx="1033.7" cy="378.3" r="3.55"/>
<circle cx="1034.1" cy="368.4" r="3.55"/>
<circle cx="1034.6" cy="378.1" r="3.55"/>
<circle cx="1035.0" cy="372.9" r="3.55"/>
<circle cx="1035.4" cy="378.2" r="3.55"/>
<circle cx="1036.1" cy="369.3" r="3.55"/>
<circle cx="1036.7" cy="378.6" r="3.55"/>
<circle cx="1037.6" cy="369.3" r="3.55"/>
<circle cx="1038.0" cy="378.0" r="3.55"/>
<circle cx="1038.8" cy="378.6" r="3.55"/>
<circle cx="1038.9" cy="370.4" r="3.55"/>
<circle cx="1039.6" cy="378.5" r="3.55"/>
<circle cx="1040.2" cy="368.2" r="3.55"/>
<circle cx="1040.4" cy="378.6" r="3.55"/>
<circle cx="1041.2" cy="378.5" r="3.55"/>
<circle cx="1041.4" cy="371.2" r="3.55"/>
<circle cx="1042.1" cy="378.0" r="3.55"/>
<circle cx="1042.8" cy="378.5" r="3.55"/>
<circle cx="1043.3" cy="368.1" r="3.55"/>
<circle cx="1043.8" cy="378.1" r="3.55"/>
<circle cx="1044.2" cy="374.0" r="3.55"/>
<circle cx="1044.7" cy="378.6" r="3.55"/>
<circle cx="1045.6" cy="378.3" r="3.55"/>
<circle cx="1045.9" cy="376.0" r="3.55"/>
<circle cx="1046.3" cy="378.1" r="3.55"/>
<circle cx="1047.5" cy="378.4" r="3.55"/>
<circle cx="1047.7" cy="369.2" r="3.55"/>
<circle cx="1048.3" cy="378.0" r="3.55"/>
<circle cx="1049.1" cy="378.4" r="3.55"/>
<circle cx="1049.6" cy="370.6" r="3.55"/>
<circle cx="1050.1" cy="378.1" r="3.55"/>
<circle cx="1050.9" cy="378.4" r="3.55"/>
<circle cx="1051.1" cy="370.1" r="3.55"/>
<circle cx="1052.0" cy="378.5" r="3.55"/>
<circle cx="1053.1" cy="378.1" r="3.55"/>
<circle cx="1053.3" cy="369.0" r="3.55"/>
<circle cx="1053.8" cy="378.5" r="3.55"/>
<circle cx="1054.8" cy="370.0" r="3.55"/>
<circle cx="1054.8" cy="378.5" r="3.55"/>
<circle cx="1055.5" cy="378.5" r="3.55"/>
<circle cx="1055.9" cy="368.7" r="3.55"/>
<circle cx="1056.4" cy="378.5" r="3.55"/>
<circle cx="1057.6" cy="378.3" r="3.55"/>
<circle cx="1057.7" cy="371.3" r="3.55"/>
<circle cx="1058.3" cy="378.6" r="3.55"/>
<circle cx="1059.3" cy="378.6" r="3.55"/>
<circle cx="1059.4" cy="370.8" r="3.55"/>
<circle cx="1060.2" cy="378.1" r="3.55"/>
<circle cx="1060.4" cy="369.5" r="3.55"/>
<circle cx="1061.4" cy="378.2" r="3.55"/>
<circle cx="1062.2" cy="378.2" r="3.55"/>
<circle cx="1062.4" cy="369.8" r="3.55"/>
<circle cx="1063.2" cy="378.0" r="3.55"/>
<circle cx="1064.2" cy="378.3" r="3.55"/>
<circle cx="1064.5" cy="376.7" r="3.55"/>
<circle cx="1065.2" cy="378.0" r="3.55"/>
<circle cx="1066.3" cy="375.9" r="3.55"/>
<circle cx="1066.4" cy="378.5" r="3.55"/>
<circle cx="1067.6" cy="378.2" r="3.55"/>
<circle cx="1067.8" cy="368.1" r="3.55"/>
<circle cx="1068.7" cy="378.2" r="3.55"/>
<circle cx="1069.1" cy="366.8" r="3.55"/>
<circle cx="1069.9" cy="378.0" r="3.55"/>
<circle cx="1071.0" cy="373.5" r="3.55"/>
<circle cx="1071.1" cy="378.6" r="3.55"/>
<circle cx="1071.7" cy="370.1" r="3.55"/>
<circle cx="1072.1" cy="378.3" r="3.55"/>
<circle cx="1073.1" cy="378.3" r="3.55"/>
<circle cx="1073.5" cy="370.7" r="3.55"/>
<circle cx="1073.8" cy="378.6" r="3.55"/>
<circle cx="1074.7" cy="378.1" r="3.55"/>
<circle cx="1075.1" cy="374.6" r="3.55"/>
<circle cx="1075.4" cy="378.1" r="3.55"/>
<circle cx="1076.6" cy="378.0" r="3.55"/>
<circle cx="1076.9" cy="370.6" r="3.55"/>
<circle cx="1077.4" cy="378.4" r="3.55"/>
<circle cx="1077.9" cy="371.1" r="3.55"/>
<circle cx="1078.2" cy="378.0" r="3.55"/>
<circle cx="1079.2" cy="378.4" r="3.55"/>
<circle cx="1080.0" cy="367.7" r="3.55"/>
<circle cx="1080.3" cy="378.4" r="3.55"/>
<circle cx="1081.0" cy="378.6" r="3.55"/>
<circle cx="1081.6" cy="370.8" r="3.55"/>
<circle cx="1082.1" cy="378.0" r="3.55"/>
<circle cx="1082.9" cy="370.0" r="3.55"/>
<circle cx="1082.9" cy="378.3" r="3.55"/>
<circle cx="1083.9" cy="378.1" r="3.55"/>
<circle cx="1084.7" cy="378.2" r="3.55"/>
<circle cx="1085.0" cy="369.4" r="3.55"/>
<circle cx="1085.5" cy="378.4" r="3.55"/>
<circle cx="1086.7" cy="378.1" r="3.55"/>
<circle cx="1086.8" cy="375.5" r="3.55"/>
<circle cx="1087.5" cy="368.0" r="3.55"/>
<circle cx="1087.7" cy="378.5" r="3.55"/>
<circle cx="1088.5" cy="378.5" r="3.55"/>
<circle cx="1089.3" cy="375.3" r="3.55"/>
<circle cx="1089.8" cy="378.2" r="3.55"/>
<circle cx="1090.5" cy="370.9" r="3.55"/>
<circle cx="1090.8" cy="378.5" r="3.55"/>
<circle cx="1091.1" cy="369.4" r="3.55"/>
<circle cx="1091.8" cy="378.2" r="3.55"/>
<circle cx="1093.0" cy="378.5" r="3.55"/>
<circle cx="1093.1" cy="366.7" r="3.55"/>
<circle cx="1093.9" cy="378.1" r="3.55"/>
<circle cx="1094.4" cy="370.7" r="3.55"/>
<circle cx="1094.8" cy="378.3" r="3.55"/>
<circle cx="1096.1" cy="378.5" r="3.55"/>
<circle cx="1096.2" cy="371.2" r="3.55"/>
<circle cx="1097.1" cy="376.1" r="3.55"/>
<circle cx="1097.4" cy="378.5" r="3.55"/>
<circle cx="1097.9" cy="370.3" r="3.55"/>
<circle cx="1098.6" cy="378.0" r="3.55"/>
<circle cx="1099.0" cy="376.7" r="3.55"/>
<circle cx="1099.6" cy="378.6" r="3.55"/>
<circle cx="1100.4" cy="369.7" r="3.55"/>
<circle cx="1100.9" cy="378.1" r="3.55"/>
<circle cx="1101.8" cy="378.4" r="3.55"/>
<circle cx="1102.5" cy="371.1" r="3.55"/>
<circle cx="1102.7" cy="378.3" r="3.55"/>
<circle cx="1103.5" cy="378.3" r="3.55"/>
<circle cx="1104.0" cy="368.6" r="3.55"/>
<circle cx="1104.5" cy="378.0" r="3.55"/>
<circle cx="1105.3" cy="378.6" r="3.55"/>
<circle cx="1105.6" cy="371.0" r="3.55"/>
<circle cx="1106.4" cy="378.6" r="3.55"/>
<circle cx="1106.9" cy="376.6" r="3.55"/>
<circle cx="1107.5" cy="378.5" r="3.55"/>
<circle cx="1108.7" cy="378.6" r="3.55"/>
<circle cx="1108.8" cy="370.8" r="3.55"/>
<circle cx="1109.4" cy="378.4" r="3.55"/>
<circle cx="1109.8" cy="370.9" r="3.55"/>
<circle cx="1110.3" cy="378.4" r="3.55"/>
<circle cx="1111.2" cy="378.3" r="3.55"/>
<circle cx="1111.9" cy="367.0" r="3.55"/>
<circle cx="1112.4" cy="378.4" r="3.55"/>
<circle cx="1113.3" cy="378.3" r="3.55"/>
<circle cx="1113.6" cy="370.1" r="3.55"/>
<circle cx="1114.2" cy="378.6" r="3.55"/>
<circle cx="1114.5" cy="374.5" r="3.55"/>
<circle cx="1115.1" cy="378.2" r="3.55"/>
<circle cx="1115.9" cy="370.0" r="3.55"/>
<circle cx="1116.2" cy="378.0" r="3.55"/>
<circle cx="1117.3" cy="378.6" r="3.55"/>
<circle cx="1117.4" cy="370.4" r="3.55"/>
<circle cx="1118.2" cy="367.6" r="3.55"/>
<circle cx="1118.3" cy="378.1" r="3.55"/>
<circle cx="1119.2" cy="378.3" r="3.55"/>
<circle cx="1120.0" cy="378.0" r="3.55"/>
<circle cx="1120.4" cy="367.0" r="3.55"/>
<circle cx="1120.8" cy="378.2" r="3.55"/>
<circle cx="1121.8" cy="378.2" r="3.55"/>
<circle cx="1121.9" cy="367.6" r="3.55"/>
<circle cx="1122.6" cy="378.0" r="3.55"/>
<circle cx="1123.4" cy="369.3" r="3.55"/>
<circle cx="1123.6" cy="378.5" r="3.55"/>
<circle cx="1124.3" cy="373.6" r="3.55"/>
<circle cx="1124.7" cy="378.3" r="3.55"/>
<circle cx="1125.8" cy="378.1" r="3.55"/>
<circle cx="1125.9" cy="371.2" r="3.55"/>
<circle cx="1126.9" cy="378.3" r="3.55"/>
<circle cx="1127.6" cy="371.2" r="3.55"/>
<circle cx="1127.9" cy="378.4" r="3.55"/>
<circle cx="1128.9" cy="378.2" r="3.55"/>
<circle cx="1129.2" cy="371.0" r="3.55"/>
<circle cx="1129.8" cy="378.1" r="3.55"/>
<circle cx="1130.8" cy="378.2" r="3.55"/>
<circle cx="1130.9" cy="370.5" r="3.55"/>
<circle cx="1131.8" cy="378.0" r="3.55"/>
<circle cx="1132.0" cy="367.2" r="3.55"/>
<circle cx="1132.7" cy="378.6" r="3.55"/>
<circle cx="1133.6" cy="378.3" r="3.55"/>
<circle cx="1134.1" cy="372.2" r="3.55"/>
<circle cx="1134.6" cy="378.1" r="3.55"/>
<circle cx="1135.6" cy="370.3" r="3.55"/>
<circle cx="1135.9" cy="378.2" r="3.55"/>
<circle cx="1136.4" cy="370.6" r="3.55"/>
<circle cx="1137.0" cy="378.1" r="3.55"/>
<circle cx="1137.8" cy="378.6" r="3.55"/>
<circle cx="1138.1" cy="369.2" r="3.55"/>
<circle cx="1138.7" cy="378.0" r="3.55"/>
<circle cx="1139.7" cy="378.3" r="3.55"/>
<circle cx="1139.8" cy="369.2" r="3.55"/>
<circle cx="1140.5" cy="371.2" r="3.55"/>
<circle cx="1140.8" cy="378.0" r="3.55"/>
<circle cx="1141.6" cy="369.2" r="3.55"/>
<circle cx="1141.6" cy="378.6" r="3.55"/>
<circle cx="1142.8" cy="368.1" r="3.55"/>
<circle cx="1142.8" cy="378.1" r="3.55"/>
<circle cx="1143.7" cy="378.2" r="3.55"/>
<circle cx="1144.8" cy="373.2" r="3.55"/>
<circle cx="1144.8" cy="378.4" r="3.55"/>
<circle cx="1145.6" cy="369.4" r="3.55"/>
<circle cx="1146.0" cy="378.5" r="3.55"/>
<circle cx="1147.0" cy="378.5" r="3.55"/>
<circle cx="1147.7" cy="371.0" r="3.55"/>
<circle cx="1148.2" cy="378.5" r="3.55"/>
<circle cx="1149.1" cy="378.5" r="3.55"/>
<circle cx="1149.2" cy="371.2" r="3.55"/>
<circle cx="1150.3" cy="378.6" r="3.55"/>
<circle cx="1150.4" cy="369.3" r="3.55"/>
<circle cx="1151.0" cy="378.6" r="3.55"/>
<circle cx="1151.8" cy="378.5" r="3.55"/>
<circle cx="1152.3" cy="366.9" r="3.55"/>
<circle cx="1152.8" cy="378.3" r="3.55"/>
<circle cx="1154.1" cy="369.5" r="3.55"/>
<circle cx="1154.1" cy="378.4" r="3.55"/>
<circle cx="1155.0" cy="378.5" r="3.55"/>
<circle cx="1155.3" cy="371.2" r="3.55"/>
<circle cx="1156.3" cy="378.4" r="3.55"/>
<circle cx="1157.2" cy="378.3" r="3.55"/>
<circle cx="1157.5" cy="368.2" r="3.55"/>
<circle cx="1158.2" cy="378.5" r="3.55"/>
<circle cx="1159.0" cy="378.2" r="3.55"/>
<circle cx="1159.2" cy="375.7" r="3.55"/>
<circle cx="1160.1" cy="378.2" r="3.55"/>
<circle cx="1160.6" cy="371.1" r="3.55"/>
<circle cx="1161.0" cy="378.5" r="3.55"/>
<circle cx="1161.6" cy="373.0" r="3.55"/>
<circle cx="1162.2" cy="378.3" r="3.55"/>
<circle cx="1162.5" cy="370.9" r="3.55"/>
<circle cx="1163.1" cy="378.1" r="3.55"/>
<circle cx="1163.3" cy="370.4" r="3.55"/>
<circle cx="1164.0" cy="378.1" r="3.55"/>
<circle cx="1164.8" cy="370.3" r="3.55"/>
<circle cx="1165.1" cy="378.4" r="3.55"/>
<circle cx="1165.5" cy="374.2" r="3.55"/>
<circle cx="1165.8" cy="378.6" r="3.55"/>
<circle cx="1166.4" cy="369.7" r="3.55"/>
<circle cx="1166.7" cy="378.5" r="3.55"/>
<circle cx="1167.9" cy="378.6" r="3.55"/>
<circle cx="1168.4" cy="369.4" r="3.55"/>
<circle cx="1168.7" cy="378.2" r="3.55"/>
<circle cx="1169.7" cy="369.9" r="3.55"/>
<circle cx="1170.0" cy="378.0" r="3.55"/>
<circle cx="1170.7" cy="378.3" r="3.55"/>
<circle cx="1171.5" cy="370.6" r="3.55"/>
<circle cx="1171.7" cy="378.6" r="3.55"/>
<circle cx="1172.9" cy="378.3" r="3.55"/>
<circle cx="1173.5" cy="370.3" r="3.55"/>
<circle cx="1174.2" cy="378.3" r="3.55"/>
<circle cx="1175.2" cy="378.4" r="3.55"/>
<circle cx="1175.6" cy="369.6" r="3.55"/>
<circle cx="1176.1" cy="378.2" r="3.55"/>
<circle cx="1176.3" cy="373.8" r="3.55"/>
<circle cx="1177.0" cy="370.1" r="3.55"/>
<circle cx="1177.2" cy="378.2" r="3.55"/>
<circle cx="1178.1" cy="371.2" r="3.55"/>
<circle cx="1178.4" cy="378.4" r="3.55"/>
<circle cx="1179.1" cy="373.7" r="3.55"/>
<circle cx="1179.5" cy="378.0" r="3.55"/>
<circle cx="1180.2" cy="368.4" r="3.55"/>
<circle cx="1180.4" cy="378.2" r="3.55"/>
<circle cx="1181.4" cy="378.4" r="3.55"/>
<circle cx="1181.5" cy="372.4" r="3.55"/>
<circle cx="1182.3" cy="370.6" r="3.55"/>
<circle cx="1182.6" cy="378.6" r="3.55"/>
<circle cx="1183.1" cy="369.3" r="3.55"/>
<circle cx="1183.6" cy="378.3" r="3.55"/>
<circle cx="1184.6" cy="369.4" r="3.55"/>
<circle cx="1184.7" cy="378.6" r="3.55"/>
<circle cx="1185.6" cy="378.3" r="3.55"/>
<circle cx="1186.3" cy="370.3" r="3.55"/>
<circle cx="1186.8" cy="378.1" r="3.55"/>
<circle cx="1187.2" cy="370.1" r="3.55"/>
<circle cx="1187.7" cy="378.6" r="3.55"/>
<circle cx="1188.9" cy="376.5" r="3.55"/>
<circle cx="1188.9" cy="378.3" r="3.55"/>
<circle cx="1189.5" cy="370.0" r="3.55"/>
<circle cx="1189.7" cy="378.6" r="3.55"/>
<circle cx="1190.4" cy="375.5" r="3.55"/>
<circle cx="1190.8" cy="378.5" r="3.55"/>
<circle cx="1192.1" cy="378.6" r="3.55"/>
<circle cx="1192.6" cy="369.8" r="3.55"/>
<circle cx="1193.0" cy="378.1" r="3.55"/>
<circle cx="1193.9" cy="378.3" r="3.55"/>
<circle cx="1194.3" cy="370.0" r="3.55"/>
<circle cx="1194.9" cy="378.1" r="3.55"/>
<circle cx="1195.7" cy="378.4" r="3.55"/>
<circle cx="1196.0" cy="369.5" r="3.55"/>
<circle cx="1196.7" cy="371.3" r="3.55"/>
<circle cx="1196.8" cy="378.2" r="3.55"/>
<circle cx="1198.1" cy="378.4" r="3.55"/>
<circle cx="1198.7" cy="374.6" r="3.55"/>
<circle cx="1198.8" cy="378.2" r="3.55"/>
<circle cx="1200.0" cy="378.2" r="3.55"/>
<circle cx="1200.1" cy="370.6" r="3.55"/>
<circle cx="1201.1" cy="378.0" r="3.55"/>
<circle cx="1201.5" cy="369.8" r="3.55"/>
<circle cx="1202.0" cy="378.5" r="3.55"/>
<circle cx="1203.0" cy="378.4" r="3.55"/>
<circle cx="1203.6" cy="370.2" r="3.55"/>
<circle cx="1203.8" cy="378.3" r="3.55"/>
<circle cx="1204.4" cy="369.5" r="3.55"/>
<circle cx="1204.9" cy="378.1" r="3.55"/>
<circle cx="1206.0" cy="378.3" r="3.55"/>
<circle cx="1206.1" cy="370.4" r="3.55"/>
<circle cx="1207.2" cy="378.4" r="3.55"/>
<circle cx="1208.2" cy="378.0" r="3.55"/>
<circle cx="1208.3" cy="375.6" r="3.55"/>
<circle cx="1209.0" cy="378.5" r="3.55"/>
<circle cx="1209.8" cy="378.0" r="3.55"/>
<circle cx="1210.2" cy="373.7" r="3.55"/>
<circle cx="1210.6" cy="378.3" r="3.55"/>
<circle cx="1210.9" cy="370.7" r="3.55"/>
<circle cx="1211.8" cy="378.4" r="3.55"/>
<circle cx="1212.0" cy="370.0" r="3.55"/>
<circle cx="1212.9" cy="378.0" r="3.55"/>
<circle cx="1213.6" cy="378.5" r="3.55"/>
<circle cx="1213.8" cy="371.3" r="3.55"/>
<circle cx="1214.5" cy="378.5" r="3.55"/>
<circle cx="1215.1" cy="372.6" r="3.55"/>
<circle cx="1215.4" cy="378.1" r="3.55"/>
<circle cx="1216.3" cy="378.0" r="3.55"/>
<circle cx="1216.8" cy="370.5" r="3.55"/>
<circle cx="1217.5" cy="378.4" r="3.55"/>
<circle cx="1217.7" cy="370.7" r="3.55"/>
<circle cx="1218.5" cy="370.6" r="3.55"/>
<circle cx="1218.5" cy="378.3" r="3.55"/>
<circle cx="1219.1" cy="373.9" r="3.55"/>
<circle cx="1219.4" cy="378.0" r="3.55"/>
<circle cx="1220.6" cy="378.4" r="3.55"/>
<circle cx="1221.1" cy="367.4" r="3.55"/>
<circle cx="1221.9" cy="378.3" r="3.55"/>
<circle cx="1223.0" cy="378.1" r="3.55"/>
<circle cx="1223.1" cy="371.0" r="3.55"/>
<circle cx="1223.7" cy="378.6" r="3.55"/>
<circle cx="1224.7" cy="368.3" r="3.55"/>
<circle cx="1224.9" cy="378.2" r="3.55"/>
<circle cx="1226.2" cy="378.5" r="3.55"/>
<circle cx="1226.8" cy="369.6" r="3.55"/>
<circle cx="1227.0" cy="378.4" r="3.55"/>
<circle cx="1228.2" cy="369.9" r="3.55"/>
<circle cx="1228.3" cy="378.3" r="3.55"/>
<circle cx="1229.4" cy="370.4" r="3.55"/>
<circle cx="1229.6" cy="378.1" r="3.55"/>
<circle cx="1230.4" cy="370.3" r="3.55"/>
<circle cx="1230.5" cy="378.5" r="3.55"/>
<circle cx="1231.3" cy="378.2" r="3.55"/>
<circle cx="1231.8" cy="370.6" r="3.55"/>
<circle cx="1232.6" cy="378.3" r="3.55"/>
<circle cx="1232.7" cy="369.8" r="3.55"/>
<circle cx="1233.7" cy="378.1" r="3.55"/>
<circle cx="1234.5" cy="370.8" r="3.55"/>
<circle cx="1234.6" cy="378.2" r="3.55"/>
<circle cx="1235.4" cy="378.6" r="3.55"/>
<circle cx="1235.9" cy="371.1" r="3.55"/>
<circle cx="1236.2" cy="378.3" r="3.55"/>
<circle cx="1237.0" cy="378.3" r="3.55"/>
<circle cx="1237.3" cy="369.8" r="3.55"/>
<circle cx="1237.9" cy="378.2" r="3.55"/>
<circle cx="1238.6" cy="370.9" r="3.55"/>
<circle cx="1238.7" cy="378.0" r="3.55"/>
<circle cx="1239.9" cy="378.2" r="3.55"/>
<circle cx="1240.0" cy="369.6" r="3.55"/>
<circle cx="1240.7" cy="378.1" r="3.55"/>
<circle cx="1241.3" cy="369.8" r="3.55"/>
<circle cx="1241.6" cy="378.1" r="3.55"/>
<circle cx="1242.3" cy="378.4" r="3.55"/>
<circle cx="1242.5" cy="370.7" r="3.55"/>
<circle cx="1243.2" cy="378.1" r="3.55"/>
<circle cx="1243.4" cy="370.8" r="3.55"/>
<circle cx="1244.3" cy="378.0" r="3.55"/>
<circle cx="1245.0" cy="370.5" r="3.55"/>
<circle cx="1245.2" cy="378.5" r="3.55"/>
<circle cx="1246.0" cy="378.3" r="3.55"/>
<circle cx="1246.7" cy="369.3" r="3.55"/>
<circle cx="1247.2" cy="378.5" r="3.55"/>
<circle cx="1247.9" cy="376.8" r="3.55"/>
<circle cx="1248.0" cy="378.2" r="3.55"/>
<circle cx="1249.1" cy="378.2" r="3.55"/>
<circle cx="1249.4" cy="371.2" r="3.55"/>
<circle cx="1250.4" cy="378.1" r="3.55"/>
<circle cx="1251.2" cy="369.9" r="3.55"/>
<circle cx="1251.7" cy="378.3" r="3.55"/>
<circle cx="1252.0" cy="370.7" r="3.55"/>
<circle cx="1252.5" cy="378.3" r="3.55"/>
<circle cx="1253.3" cy="378.4" r="3.55"/>
<circle cx="1253.4" cy="369.8" r="3.55"/>
<circle cx="1254.1" cy="378.6" r="3.55"/>
<circle cx="1254.8" cy="371.1" r="3.55"/>
<circle cx="1255.2" cy="378.2" r="3.55"/>
<circle cx="1256.0" cy="378.4" r="3.55"/>
<circle cx="1256.7" cy="370.1" r="3.55"/>
<circle cx="1256.9" cy="378.6" r="3.55"/>
<circle cx="1257.6" cy="378.3" r="3.55"/>
<circle cx="1258.0" cy="371.2" r="3.55"/>
<circle cx="1258.7" cy="378.1" r="3.55"/>
<circle cx="1258.9" cy="373.5" r="3.55"/>
<circle cx="1259.8" cy="378.2" r="3.55"/>
<circle cx="1260.9" cy="378.3" r="3.55"/>
<circle cx="1261.0" cy="369.9" r="3.55"/>
<circle cx="1261.8" cy="378.2" r="3.55"/>
<circle cx="1262.5" cy="378.1" r="3.55"/>
<circle cx="1262.9" cy="367.7" r="3.55"/>
<circle cx="1263.8" cy="378.2" r="3.55"/>
<circle cx="1263.9" cy="370.0" r="3.55"/>
<circle cx="1264.6" cy="367.7" r="3.55"/>
<circle cx="1264.9" cy="378.0" r="3.55"/>
<circle cx="1265.9" cy="369.7" r="3.55"/>
<circle cx="1265.9" cy="378.2" r="3.55"/>
<circle cx="1266.5" cy="370.0" r="3.55"/>
<circle cx="1266.9" cy="378.2" r="3.55"/>
<circle cx="1267.1" cy="370.8" r="3.55"/>
<circle cx="1267.6" cy="378.2" r="3.55"/>
<circle cx="1268.3" cy="370.5" r="3.55"/>
<circle cx="1268.5" cy="378.0" r="3.55"/>
<circle cx="1269.2" cy="375.4" r="3.55"/>
<circle cx="1269.6" cy="378.1" r="3.55"/>
<circle cx="1270.5" cy="378.6" r="3.55"/>
<circle cx="1270.7" cy="369.6" r="3.55"/>
<circle cx="1271.7" cy="378.6" r="3.55"/>
<circle cx="1272.7" cy="367.2" r="3.55"/>
<circle cx="1272.9" cy="378.0" r="3.55"/>
<circle cx="1273.8" cy="378.0" r="3.55"/>
<circle cx="1274.2" cy="369.9" r="3.55"/>
<circle cx="1274.9" cy="370.6" r="3.55"/>
<circle cx="1274.9" cy="378.4" r="3.55"/>
<circle cx="1275.8" cy="378.2" r="3.55"/>
<circle cx="1276.5" cy="369.5" r="3.55"/>
<circle cx="1276.9" cy="378.4" r="3.55"/>
<circle cx="1277.4" cy="370.1" r="3.55"/>
<circle cx="1277.8" cy="378.5" r="3.55"/>
<circle cx="1278.6" cy="366.9" r="3.55"/>
<circle cx="1278.7" cy="378.4" r="3.55"/>
<circle cx="1279.5" cy="378.0" r="3.55"/>
<circle cx="1280.7" cy="378.5" r="3.55"/>
<circle cx="1280.8" cy="371.0" r="3.55"/>
<circle cx="1281.8" cy="370.0" r="3.55"/>
<circle cx="1281.8" cy="378.0" r="3.55"/>
<circle cx="1282.4" cy="370.9" r="3.55"/>
<circle cx="1282.6" cy="378.1" r="3.55"/>
<circle cx="1283.4" cy="370.2" r="3.55"/>
<circle cx="1283.4" cy="378.2" r="3.55"/>
<circle cx="1284.3" cy="378.0" r="3.55"/>
<circle cx="1285.2" cy="378.4" r="3.55"/>
<circle cx="1285.6" cy="374.0" r="3.55"/>
<circle cx="1286.0" cy="378.5" r="3.55"/>
<circle cx="1286.6" cy="370.8" r="3.55"/>
<circle cx="1287.1" cy="378.5" r="3.55"/>
<circle cx="1287.9" cy="378.3" r="3.55"/>
<circle cx="1288.5" cy="370.0" r="3.55"/>
<circle cx="1289.0" cy="378.2" r="3.55"/>
<circle cx="1289.7" cy="378.5" r="3.55"/>
<circle cx="1290.4" cy="373.4" r="3.55"/>
<circle cx="1290.9" cy="378.2" r="3.55"/>
<circle cx="1291.6" cy="378.5" r="3.55"/>
<circle cx="1292.2" cy="371.3" r="3.55"/>
<circle cx="1292.7" cy="378.0" r="3.55"/>
<circle cx="1293.0" cy="369.6" r="3.55"/>
<circle cx="1293.5" cy="378.0" r="3.55"/>
<circle cx="1293.6" cy="372.6" r="3.55"/>
<circle cx="1294.7" cy="378.1" r="3.55"/>
<circle cx="1294.8" cy="370.3" r="3.55"/>
<circle cx="1295.8" cy="370.3" r="3.55"/>
<circle cx="1295.9" cy="378.5" r="3.55"/>
<circle cx="1296.7" cy="378.4" r="3.55"/>
<circle cx="1297.6" cy="378.5" r="3.55"/>
<circle cx="1298.0" cy="374.7" r="3.55"/>
<circle cx="1298.8" cy="378.1" r="3.55"/>
<circle cx="1299.4" cy="371.0" r="3.55"/>
<circle cx="1299.6" cy="378.6" r="3.55"/>
<circle cx="1300.3" cy="370.0" r="3.55"/>
<circle cx="1300.5" cy="378.6" r="3.55"/>
<circle cx="1301.5" cy="370.4" r="3.55"/>
<circle cx="1301.7" cy="378.5" r="3.55"/>
<circle cx="1302.5" cy="376.8" r="3.55"/>
<circle cx="1302.9" cy="378.4" r="3.55"/>
<circle cx="1303.7" cy="375.4" r="3.55"/>
<circle cx="1303.8" cy="378.0" r="3.55"/>
<circle cx="1304.9" cy="378.2" r="3.55"/>
<circle cx="1305.2" cy="369.9" r="3.55"/>
<circle cx="1305.9" cy="378.6" r="3.55"/>
<circle cx="1306.7" cy="378.5" r="3.55"/>
<circle cx="1307.1" cy="370.1" r="3.55"/>
<circle cx="1307.5" cy="378.4" r="3.55"/>
<circle cx="1308.6" cy="378.1" r="3.55"/>
<circle cx="1309.2" cy="370.0" r="3.55"/>
<circle cx="1309.7" cy="378.6" r="3.55"/>
<circle cx="1310.1" cy="370.6" r="3.55"/>
<circle cx="1310.7" cy="378.3" r="3.55"/>
<circle cx="1311.4" cy="369.7" r="3.55"/>
<circle cx="1311.6" cy="378.0" r="3.55"/>
<circle cx="1312.5" cy="378.2" r="3.55"/>
<circle cx="1313.3" cy="370.9" r="3.55"/>
<circle cx="1313.3" cy="378.2" r="3.55"/>
<circle cx="1314.1" cy="378.4" r="3.55"/>
<circle cx="1314.5" cy="369.3" r="3.55"/>
<circle cx="1315.2" cy="378.1" r="3.55"/>
<circle cx="1315.4" cy="368.4" r="3.55"/>
<circle cx="1316.1" cy="378.3" r="3.55"/>
<circle cx="1317.0" cy="378.6" r="3.55"/>
<circle cx="1317.1" cy="370.2" r="3.55"/>
<circle cx="1317.9" cy="378.2" r="3.55"/>
<circle cx="1318.0" cy="375.3" r="3.55"/>
<circle cx="1319.2" cy="378.0" r="3.55"/>
<circle cx="1319.7" cy="370.6" r="3.55"/>
<circle cx="1320.2" cy="378.2" r="3.55"/>
<circle cx="1320.6" cy="369.6" r="3.55"/>
<circle cx="1321.4" cy="378.3" r="3.55"/>
<circle cx="1322.0" cy="370.4" r="3.55"/>
<circle cx="1322.6" cy="378.1" r="3.55"/>
<circle cx="1322.8" cy="370.5" r="3.55"/>
<circle cx="1323.6" cy="370.6" r="3.55"/>
<circle cx="1323.7" cy="378.4" r="3.55"/>
<circle cx="1324.6" cy="378.5" r="3.55"/>
<circle cx="1325.1" cy="370.8" r="3.55"/>
<circle cx="1325.8" cy="378.0" r="3.55"/>
<circle cx="1326.6" cy="370.1" r="3.55"/>
<circle cx="1326.7" cy="378.2" r="3.55"/>
<circle cx="1327.5" cy="378.0" r="3.55"/>
<circle cx="1328.4" cy="378.1" r="3.55"/>
<circle cx="1328.5" cy="370.8" r="3.55"/>
<circle cx="1329.5" cy="378.3" r="3.55"/>
<circle cx="1329.7" cy="371.2" r="3.55"/>
<circle cx="1330.3" cy="378.2" r="3.55"/>
<circle cx="1331.3" cy="378.2" r="3.55"/>
<circle cx="1331.6" cy="369.4" r="3.55"/>
<circle cx="1332.1" cy="378.0" r="3.55"/>
<circle cx="1332.8" cy="378.6" r="3.55"/>
<circle cx="1333.2" cy="376.7" r="3.55"/>
<circle cx="1333.9" cy="378.0" r="3.55"/>
<circle cx="1335.1" cy="378.6" r="3.55"/>
<circle cx="1335.3" cy="369.8" r="3.55"/>
<circle cx="1336.1" cy="378.0" r="3.55"/>
<circle cx="1337.1" cy="378.3" r="3.55"/>
<circle cx="1337.3" cy="376.2" r="3.55"/>
<circle cx="1337.9" cy="378.3" r="3.55"/>
<circle cx="1338.6" cy="378.6" r="3.55"/>
<circle cx="1338.7" cy="376.5" r="3.55"/>
<circle cx="1339.7" cy="378.4" r="3.55"/>
<circle cx="1340.0" cy="370.6" r="3.55"/>
<circle cx="1341.0" cy="378.4" r="3.55"/>
<circle cx="1341.5" cy="369.6" r="3.55"/>
<circle cx="1341.8" cy="378.1" r="3.55"/>
<circle cx="1342.6" cy="378.0" r="3.55"/>
<circle cx="1343.5" cy="369.3" r="3.55"/>
<circle cx="1343.7" cy="378.5" r="3.55"/>
<circle cx="1344.6" cy="378.1" r="3.55"/>
<circle cx="1344.7" cy="372.5" r="3.55"/>
<circle cx="1345.7" cy="378.5" r="3.55"/>
<circle cx="1346.3" cy="373.0" r="3.55"/>
<circle cx="1347.0" cy="378.1" r="3.55"/>
<circle cx="1347.3" cy="371.1" r="3.55"/>
<circle cx="1348.1" cy="378.5" r="3.55"/>
<circle cx="1349.3" cy="378.2" r="3.55"/>
<circle cx="1349.4" cy="371.3" r="3.55"/>
<circle cx="1350.1" cy="378.5" r="3.55"/>
<circle cx="1350.7" cy="369.8" r="3.55"/>
<circle cx="1351.0" cy="378.2" r="3.55"/>
<circle cx="1352.0" cy="378.2" r="3.55"/>
<circle cx="1352.8" cy="370.7" r="3.55"/>
<circle cx="1353.2" cy="378.1" r="3.55"/>
<circle cx="1353.7" cy="376.6" r="3.55"/>
<circle cx="1353.9" cy="378.3" r="3.55"/>
<circle cx="1355.0" cy="378.5" r="3.55"/>
<circle cx="1355.2" cy="371.0" r="3.55"/>
<circle cx="1356.0" cy="370.2" r="3.55"/>
<circle cx="1356.1" cy="378.6" r="3.55"/>
<circle cx="1357.4" cy="378.3" r="3.55"/>
<circle cx="1357.9" cy="369.6" r="3.55"/>
<circle cx="1358.4" cy="378.1" r="3.55"/>
<circle cx="1359.3" cy="378.4" r="3.55"/>
<circle cx="1360.0" cy="370.8" r="3.55"/>
<circle cx="1360.0" cy="378.4" r="3.55"/>
<circle cx="1360.8" cy="378.3" r="3.55"/>
<circle cx="1362.0" cy="370.7" r="3.55"/>
<circle cx="1362.1" cy="378.0" r="3.55"/>
<circle cx="1362.8" cy="378.3" r="3.55"/>
<circle cx="1363.2" cy="369.7" r="3.55"/>
<circle cx="1363.7" cy="378.5" r="3.55"/>
<circle cx="1364.4" cy="378.5" r="3.55"/>
<circle cx="1365.3" cy="370.3" r="3.55"/>
<circle cx="1365.6" cy="378.5" r="3.55"/>
<circle cx="1366.5" cy="378.1" r="3.55"/>
<circle cx="1366.7" cy="375.8" r="3.55"/>
<circle cx="1367.6" cy="378.3" r="3.55"/>
<circle cx="1368.5" cy="369.9" r="3.55"/>
<circle cx="1368.6" cy="378.2" r="3.55"/>
<circle cx="1369.5" cy="370.7" r="3.55"/>
<circle cx="1369.5" cy="378.4" r="3.55"/>
<circle cx="1370.7" cy="378.6" r="3.55"/>
<circle cx="1371.1" cy="370.3" r="3.55"/>
<circle cx="1371.5" cy="378.2" r="3.55"/>
<circle cx="1372.0" cy="367.8" r="3.55"/>
<circle cx="1372.5" cy="378.3" r="3.55"/>
<circle cx="1373.4" cy="369.6" r="3.55"/>
<circle cx="1373.4" cy="378.1" r="3.55"/>
<circle cx="1374.2" cy="378.2" r="3.55"/>
<circle cx="1375.1" cy="370.9" r="3.55"/>
<circle cx="1375.1" cy="378.6" r="3.55"/>
<circle cx="1375.9" cy="370.5" r="3.55"/>
<circle cx="1376.4" cy="378.6" r="3.55"/>
<circle cx="1377.2" cy="370.4" r="3.55"/>
<circle cx="1377.7" cy="378.6" r="3.55"/>
<circle cx="1378.2" cy="369.2" r="3.55"/>
<circle cx="1378.7" cy="378.5" r="3.55"/>
<circle cx="1379.5" cy="378.4" r="3.55"/>
<circle cx="1380.1" cy="370.9" r="3.55"/>
<circle cx="1380.5" cy="378.2" r="3.55"/>
<circle cx="1381.6" cy="370.5" r="3.55"/>
<circle cx="1381.6" cy="378.6" r="3.55"/>
<circle cx="1382.4" cy="369.8" r="3.55"/>
<circle cx="1382.6" cy="378.4" r="3.55"/>
<circle cx="1383.4" cy="378.2" r="3.55"/>
<circle cx="1384.3" cy="370.6" r="3.55"/>
<circle cx="1384.7" cy="378.0" r="3.55"/>
<circle cx="1385.5" cy="378.4" r="3.55"/>
<circle cx="1386.2" cy="370.6" r="3.55"/>
<circle cx="1386.5" cy="378.0" r="3.55"/>
<circle cx="1387.6" cy="378.2" r="3.55"/>
<circle cx="1388.4" cy="369.4" r="3.55"/>
<circle cx="1388.6" cy="378.2" r="3.55"/>
<circle cx="1389.6" cy="369.5" r="3.55"/>
<circle cx="1389.6" cy="378.3" r="3.55"/>
<circle cx="1390.6" cy="370.0" r="3.55"/>
<circle cx="1390.6" cy="378.0" r="3.55"/>
<circle cx="1391.4" cy="370.4" r="3.55"/>
<circle cx="1391.4" cy="378.6" r="3.55"/>
<circle cx="1392.3" cy="370.3" r="3.55"/>
<circle cx="1392.4" cy="378.0" r="3.55"/>
<circle cx="1393.6" cy="371.0" r="3.55"/>
<circle cx="1393.6" cy="378.1" r="3.55"/>
<circle cx="1394.2" cy="367.1" r="3.55"/>
<circle cx="1394.4" cy="378.3" r="3.55"/>
<circle cx="1394.9" cy="370.4" r="3.55"/>
<circle cx="1395.2" cy="378.3" r="3.55"/>
<circle cx="1396.3" cy="378.1" r="3.55"/>
<circle cx="1396.4" cy="370.8" r="3.55"/>
<circle cx="1397.3" cy="378.0" r="3.55"/>
<circle cx="1397.5" cy="369.7" r="3.55"/>
<circle cx="1398.3" cy="378.4" r="3.55"/>
<circle cx="1399.0" cy="370.0" r="3.55"/>
<circle cx="1399.1" cy="378.2" r="3.55"/>
<circle cx="1399.8" cy="378.3" r="3.55"/>
<circle cx="1400.3" cy="375.3" r="3.55"/>
<circle cx="1401.0" cy="378.3" r="3.55"/>
<circle cx="1402.1" cy="374.8" r="3.55"/>
<circle cx="1402.1" cy="378.5" r="3.55"/>
<circle cx="1402.9" cy="378.6" r="3.55"/>
<circle cx="1403.8" cy="376.2" r="3.55"/>
<circle cx="1404.0" cy="378.0" r="3.55"/>
<circle cx="1405.2" cy="378.2" r="3.55"/>
<circle cx="1405.8" cy="373.4" r="3.55"/>
<circle cx="1406.0" cy="378.6" r="3.55"/>
<circle cx="1406.6" cy="369.4" r="3.55"/>
<circle cx="1407.1" cy="378.5" r="3.55"/>
<circle cx="1407.9" cy="369.8" r="3.55"/>
<circle cx="1407.9" cy="378.5" r="3.55"/>
<circle cx="1408.6" cy="378.1" r="3.55"/>
<circle cx="1409.3" cy="370.9" r="3.55"/>
<circle cx="1409.5" cy="378.0" r="3.55"/>
<circle cx="1410.6" cy="378.1" r="3.55"/>
<circle cx="1411.0" cy="373.3" r="3.55"/>
<circle cx="1411.5" cy="378.4" r="3.55"/>
<circle cx="1411.6" cy="369.4" r="3.55"/>
<circle cx="1412.4" cy="378.6" r="3.55"/>
<circle cx="1413.4" cy="371.3" r="3.55"/>
<circle cx="1413.5" cy="378.6" r="3.55"/>
<circle cx="1414.3" cy="375.8" r="3.55"/>
<circle cx="1414.5" cy="378.6" r="3.55"/>
<circle cx="1415.5" cy="367.6" r="3.55"/>
<circle cx="1415.7" cy="378.1" r="3.55"/>
<circle cx="1416.6" cy="376.7" r="3.55"/>
<circle cx="1416.9" cy="378.2" r="3.55"/>
<circle cx="1418.1" cy="370.1" r="3.55"/>
<circle cx="1418.1" cy="378.4" r="3.55"/>
<circle cx="1419.3" cy="378.0" r="3.55"/>
<circle cx="1419.9" cy="370.2" r="3.55"/>
<circle cx="1420.2" cy="378.5" r="3.55"/>
<circle cx="1420.8" cy="371.1" r="3.55"/>
<circle cx="1421.4" cy="378.5" r="3.55"/>
<circle cx="1422.0" cy="370.4" r="3.55"/>
<circle cx="1422.2" cy="378.4" r="3.55"/>
<circle cx="1422.9" cy="378.3" r="3.55"/>
<circle cx="1423.4" cy="369.7" r="3.55"/>
<circle cx="1424.1" cy="378.0" r="3.55"/>
<circle cx="1424.9" cy="369.4" r="3.55"/>
<circle cx="1425.4" cy="378.4" r="3.55"/>
<circle cx="1426.1" cy="369.1" r="3.55"/>
<circle cx="1426.2" cy="378.1" r="3.55"/>
<circle cx="1426.7" cy="370.5" r="3.55"/>
<circle cx="1427.2" cy="378.5" r="3.55"/>
<circle cx="1428.2" cy="378.0" r="3.55"/>
<circle cx="1428.6" cy="369.5" r="3.55"/>
<circle cx="1428.9" cy="378.0" r="3.55"/>
<circle cx="1429.7" cy="370.7" r="3.55"/>
<circle cx="1430.1" cy="378.1" r="3.55"/>
<circle cx="1430.6" cy="370.6" r="3.55"/>
<circle cx="1431.2" cy="378.2" r="3.55"/>
<circle cx="1432.3" cy="374.3" r="3.55"/>
<circle cx="1432.3" cy="378.2" r="3.55"/>
<circle cx="1433.1" cy="378.6" r="3.55"/>
<circle cx="1433.4" cy="369.9" r="3.55"/>
<circle cx="1434.1" cy="378.4" r="3.55"/>
<circle cx="1434.2" cy="369.8" r="3.55"/>
<circle cx="1435.3" cy="378.6" r="3.55"/>
<circle cx="1436.0" cy="378.2" r="3.55"/>
<circle cx="1436.1" cy="370.3" r="3.55"/>
<circle cx="1436.8" cy="378.3" r="3.55"/>
<circle cx="1438.0" cy="375.7" r="3.55"/>
<circle cx="1438.0" cy="378.5" r="3.55"/>
<circle cx="1438.7" cy="366.7" r="3.55"/>
<circle cx="1438.7" cy="378.1" r="3.55"/>
<circle cx="1439.9" cy="378.4" r="3.55"/>
<circle cx="1440.4" cy="369.6" r="3.55"/>
<circle cx="1440.8" cy="378.3" r="3.55"/>
<circle cx="1441.6" cy="378.5" r="3.55"/>
<circle cx="1441.7" cy="370.1" r="3.55"/>
<circle cx="1442.5" cy="369.8" r="3.55"/>
<circle cx="1442.6" cy="378.6" r="3.55"/>
<circle cx="1443.6" cy="378.0" r="3.55"/>
<circle cx="1444.5" cy="378.1" r="3.55"/>
<circle cx="1444.6" cy="370.1" r="3.55"/>
<circle cx="1445.6" cy="367.4" r="3.55"/>
<circle cx="1445.8" cy="378.4" r="3.55"/>
<circle cx="1446.5" cy="378.1" r="3.55"/>
<circle cx="1447.2" cy="370.0" r="3.55"/>
<circle cx="1447.4" cy="378.3" r="3.55"/>
<circle cx="1448.5" cy="378.2" r="3.55"/>
<circle cx="1449.0" cy="369.4" r="3.55"/>
<circle cx="1449.4" cy="378.0" r="3.55"/>
<circle cx="1449.7" cy="371.0" r="3.55"/>
<circle cx="1450.4" cy="378.2" r="3.55"/>
<circle cx="1450.6" cy="370.8" r="3.55"/>
<circle cx="1451.1" cy="378.3" r="3.55"/>
<circle cx="1451.7" cy="374.7" r="3.55"/>
<circle cx="1452.4" cy="378.0" r="3.55"/>
<circle cx="1452.9" cy="368.9" r="3.55"/>
<circle cx="1453.2" cy="378.4" r="3.55"/>
<circle cx="1453.9" cy="370.1" r="3.55"/>
<circle cx="1454.1" cy="378.1" r="3.55"/>
<circle cx="1454.6" cy="371.1" r="3.55"/>
<circle cx="1455.1" cy="378.1" r="3.55"/>
<circle cx="1455.7" cy="370.7" r="3.55"/>
<circle cx="1456.1" cy="378.3" r="3.55"/>
<circle cx="1456.4" cy="366.9" r="3.55"/>
<circle cx="1457.4" cy="369.2" r="3.55"/>
<circle cx="1457.4" cy="378.6" r="3.55"/>
<circle cx="1458.1" cy="378.3" r="3.55"/>
<circle cx="1458.6" cy="374.5" r="3.55"/>
<circle cx="1459.3" cy="373.3" r="3.55"/>
<circle cx="1459.3" cy="378.6" r="3.55"/>
<circle cx="1460.0" cy="373.1" r="3.55"/>
<circle cx="1460.4" cy="378.4" r="3.55"/>
<circle cx="1461.4" cy="376.1" r="3.55"/>
<circle cx="1461.5" cy="378.2" r="3.55"/>
<circle cx="1462.4" cy="378.5" r="3.55"/>
<circle cx="1462.7" cy="369.7" r="3.55"/>
<circle cx="1463.6" cy="378.6" r="3.55"/>
<circle cx="1464.6" cy="375.8" r="3.55"/>
<circle cx="1464.7" cy="378.2" r="3.55"/>
<circle cx="1465.4" cy="367.7" r="3.55"/>
<circle cx="1465.9" cy="378.5" r="3.55"/>
<circle cx="1466.9" cy="369.4" r="3.55"/>
<circle cx="1466.9" cy="378.4" r="3.55"/>
<circle cx="1467.6" cy="370.4" r="3.55"/>
<circle cx="1467.8" cy="378.3" r="3.55"/>
<circle cx="1468.7" cy="378.0" r="3.55"/>
<circle cx="1469.4" cy="370.2" r="3.55"/>
<circle cx="1469.6" cy="378.2" r="3.55"/>
<circle cx="1470.3" cy="369.8" r="3.55"/>
<circle cx="1470.9" cy="378.3" r="3.55"/>
<circle cx="1471.8" cy="369.8" r="3.55"/>
<circle cx="1471.9" cy="378.1" r="3.55"/>
<circle cx="1472.7" cy="378.2" r="3.55"/>
<circle cx="1473.5" cy="376.0" r="3.55"/>
<circle cx="1473.5" cy="378.0" r="3.55"/>
<circle cx="1474.7" cy="378.3" r="3.55"/>
<circle cx="1474.9" cy="369.4" r="3.55"/>
<circle cx="1475.7" cy="378.3" r="3.55"/>
<circle cx="1476.3" cy="370.7" r="3.55"/>
<circle cx="1476.5" cy="378.1" r="3.55"/>
<circle cx="1477.3" cy="378.2" r="3.55"/>
<circle cx="1477.5" cy="371.1" r="3.55"/>
<circle cx="1478.2" cy="378.5" r="3.55"/>
<circle cx="1478.5" cy="368.9" r="3.55"/>
<circle cx="1479.2" cy="378.6" r="3.55"/>
<circle cx="1480.1" cy="378.6" r="3.55"/>
<circle cx="1480.7" cy="367.3" r="3.55"/>
<circle cx="1481.2" cy="378.0" r="3.55"/>
<circle cx="1482.0" cy="378.4" r="3.55"/>
<circle cx="1482.6" cy="369.6" r="3.55"/>
<circle cx="1483.3" cy="378.2" r="3.55"/>
<circle cx="1484.4" cy="378.2" r="3.55"/>
<circle cx="1484.8" cy="370.9" r="3.55"/>
<circle cx="1485.6" cy="378.0" r="3.55"/>
<circle cx="1486.3" cy="376.3" r="3.55"/>
<circle cx="1486.6" cy="378.6" r="3.55"/>
<circle cx="1487.2" cy="370.5" r="3.55"/>
<circle cx="1487.5" cy="378.1" r="3.55"/>
<circle cx="1488.1" cy="370.7" r="3.55"/>
<circle cx="1488.2" cy="378.1" r="3.55"/>
<circle cx="1488.8" cy="369.4" r="3.55"/>
<circle cx="1489.1" cy="378.4" r="3.55"/>
<circle cx="1489.9" cy="378.2" r="3.55"/>
<circle cx="1490.2" cy="370.6" r="3.55"/>
<circle cx="1490.7" cy="378.4" r="3.55"/>
<circle cx="1490.9" cy="371.2" r="3.55"/>
<circle cx="1491.9" cy="378.4" r="3.55"/>
<circle cx="1492.1" cy="370.0" r="3.55"/>
<circle cx="1492.8" cy="378.5" r="3.55"/>
<circle cx="1493.8" cy="370.6" r="3.55"/>
<circle cx="1494.0" cy="378.4" r="3.55"/>
<circle cx="1494.8" cy="378.5" r="3.55"/>
<circle cx="1495.0" cy="370.3" r="3.55"/>
<circle cx="1495.9" cy="369.1" r="3.55"/>
<circle cx="1496.0" cy="378.2" r="3.55"/>
<circle cx="1496.8" cy="378.1" r="3.55"/>
<circle cx="1497.8" cy="367.8" r="3.55"/>
<circle cx="1497.8" cy="378.6" r="3.55"/>
<circle cx="1498.9" cy="378.6" r="3.55"/>
<circle cx="1499.7" cy="370.8" r="3.55"/>
<circle cx="1499.7" cy="378.2" r="3.55"/>
<circle cx="1500.9" cy="378.4" r="3.55"/>
<circle cx="1501.5" cy="368.8" r="3.55"/>
<circle cx="1501.8" cy="378.4" r="3.55"/>
<circle cx="1502.7" cy="378.0" r="3.55"/>
<circle cx="1503.5" cy="370.9" r="3.55"/>
<circle cx="1503.7" cy="378.0" r="3.55"/>
<circle cx="1504.7" cy="378.2" r="3.55"/>
<circle cx="1504.8" cy="370.0" r="3.55"/>
<circle cx="1505.7" cy="378.4" r="3.55"/>
<circle cx="1506.6" cy="378.3" r="3.55"/>
<circle cx="1506.7" cy="371.0" r="3.55"/>
<circle cx="1507.3" cy="378.6" r="3.55"/>
<circle cx="1508.3" cy="378.6" r="3.55"/>
<circle cx="1508.4" cy="372.9" r="3.55"/>
<circle cx="1509.1" cy="378.4" r="3.55"/>
<circle cx="1509.9" cy="369.9" r="3.55"/>
<circle cx="1510.2" cy="378.2" r="3.55"/>
<circle cx="1510.7" cy="375.6" r="3.55"/>
<circle cx="1511.0" cy="378.1" r="3.55"/>
<circle cx="1511.6" cy="369.9" r="3.55"/>
<circle cx="1511.8" cy="378.5" r="3.55"/>
<circle cx="1512.5" cy="378.5" r="3.55"/>
<circle cx="1513.5" cy="378.3" r="3.55"/>
<circle cx="1513.6" cy="369.8" r="3.55"/>
<circle cx="1514.5" cy="378.3" r="3.55"/>
<circle cx="1514.8" cy="374.3" r="3.55"/>
<circle cx="1515.6" cy="378.4" r="3.55"/>
<circle cx="1516.0" cy="376.3" r="3.55"/>
<circle cx="1516.5" cy="378.5" r="3.55"/>
<circle cx="1517.2" cy="376.8" r="3.55"/>
<circle cx="1517.4" cy="378.4" r="3.55"/>
<circle cx="1518.2" cy="369.3" r="3.55"/>
<circle cx="1518.5" cy="378.5" r="3.55"/>
<circle cx="1518.9" cy="370.4" r="3.55"/>
<circle cx="1519.4" cy="378.5" r="3.55"/>
<circle cx="1520.4" cy="369.8" r="3.55"/>
<circle cx="1520.7" cy="378.3" r="3.55"/>
<circle cx="1521.6" cy="378.3" r="3.55"/>
<circle cx="109.6" cy="331.9" r="3.6"/>
<circle cx="111.7" cy="339.5" r="3.6"/>
<circle cx="117.8" cy="358.7" r="3.6"/>
<circle cx="121.6" cy="345.9" r="3.6"/>
<circle cx="135.9" cy="359.9" r="3.6"/>
<circle cx="144.0" cy="281.2" r="3.6"/>
<circle cx="151.3" cy="360.2" r="3.6"/>
<circle cx="157.1" cy="362.2" r="3.6"/>
<circle cx="159.8" cy="364.3" r="3.6"/>
<circle cx="170.3" cy="341.3" r="3.6"/>
<circle cx="171.7" cy="355.8" r="3.6"/>
<circle cx="176.4" cy="245.2" r="3.6"/>
<circle cx="176.4" cy="307.7" r="3.6"/>
<circle cx="184.0" cy="332.2" r="3.6"/>
<circle cx="185.4" cy="337.8" r="3.6"/>
<circle cx="198.0" cy="336.6" r="3.6"/>
<circle cx="199.1" cy="329.9" r="3.6"/>
<circle cx="202.9" cy="360.2" r="3.6"/>
<circle cx="209.3" cy="274.2" r="3.6"/>
<circle cx="212.0" cy="340.1" r="3.6"/>
<circle cx="213.1" cy="322.0" r="3.6"/>
<circle cx="225.7" cy="274.8" r="3.6"/>
<circle cx="227.1" cy="363.4" r="3.6"/>
<circle cx="234.1" cy="335.7" r="3.6"/>
<circle cx="235.9" cy="338.3" r="3.6"/>
<circle cx="237.9" cy="324.9" r="3.6"/>
<circle cx="239.4" cy="331.9" r="3.6"/>
<circle cx="242.0" cy="291.7" r="3.6"/>
<circle cx="244.6" cy="331.3" r="3.6"/>
<circle cx="252.8" cy="336.0" r="3.6"/>
<circle cx="253.1" cy="358.7" r="3.6"/>
<circle cx="254.8" cy="320.0" r="3.6"/>
<circle cx="266.5" cy="275.1" r="3.6"/>
<circle cx="269.7" cy="360.5" r="3.6"/>
<circle cx="274.6" cy="278.0" r="3.6"/>
<circle cx="274.6" cy="353.8" r="3.6"/>
<circle cx="280.8" cy="336.9" r="3.6"/>
<circle cx="281.9" cy="318.5" r="3.6"/>
<circle cx="284.5" cy="359.6" r="3.6"/>
<circle cx="291.0" cy="364.3" r="3.6"/>
<circle cx="295.6" cy="337.8" r="3.6"/>
<circle cx="297.1" cy="340.1" r="3.6"/>
<circle cx="301.2" cy="358.2" r="3.6"/>
<circle cx="307.1" cy="261.0" r="3.6"/>
<circle cx="309.3" cy="338.9" r="3.6"/>
<circle cx="311.4" cy="321.7" r="3.6"/>
<circle cx="316.3" cy="363.1" r="3.6"/>
<circle cx="320.4" cy="339.8" r="3.6"/>
<circle cx="324.2" cy="332.8" r="3.6"/>
<circle cx="325.9" cy="286.2" r="3.6"/>
<circle cx="327.4" cy="324.6" r="3.6"/>
<circle cx="328.6" cy="352.3" r="3.6"/>
<circle cx="330.6" cy="338.6" r="3.6"/>
<circle cx="332.4" cy="362.2" r="3.6"/>
<circle cx="333.5" cy="320.8" r="3.6"/>
<circle cx="335.3" cy="359.9" r="3.6"/>
<circle cx="340.1" cy="222.7" r="3.6"/>
<circle cx="349.9" cy="360.8" r="3.6"/>
<circle cx="358.0" cy="338.6" r="3.6"/>
<circle cx="365.9" cy="355.5" r="3.6"/>
<circle cx="372.6" cy="349.7" r="3.6"/>
<circle cx="372.8" cy="208.7" r="3.6"/>
<circle cx="381.3" cy="359.9" r="3.6"/>
<circle cx="382.8" cy="343.0" r="3.6"/>
<circle cx="396.8" cy="267.5" r="3.6"/>
<circle cx="397.4" cy="352.6" r="3.6"/>
<circle cx="400.0" cy="352.6" r="3.6"/>
<circle cx="405.5" cy="214.3" r="3.6"/>
<circle cx="405.5" cy="222.7" r="3.6"/>
<circle cx="410.5" cy="338.3" r="3.6"/>
<circle cx="412.2" cy="317.6" r="3.6"/>
<circle cx="413.7" cy="363.7" r="3.6"/>
<circle cx="423.9" cy="335.1" r="3.6"/>
<circle cx="430.3" cy="363.1" r="3.6"/>
<circle cx="437.9" cy="349.1" r="3.6"/>
<circle cx="438.1" cy="188.3" r="3.6"/>
<circle cx="438.2" cy="327.0" r="3.6"/>
<circle cx="439.4" cy="335.7" r="3.6"/>
<circle cx="445.8" cy="354.4" r="3.6"/>
<circle cx="452.8" cy="322.3" r="3.6"/>
<circle cx="454.2" cy="345.0" r="3.6"/>
<circle cx="456.3" cy="333.7" r="3.6"/>
<circle cx="460.6" cy="358.5" r="3.6"/>
<circle cx="463.3" cy="338.9" r="3.6"/>
<circle cx="465.3" cy="336.0" r="3.6"/>
<circle cx="470.8" cy="218.9" r="3.6"/>
<circle cx="470.8" cy="352.6" r="3.6"/>
<circle cx="476.1" cy="360.2" r="3.6"/>
<circle cx="480.5" cy="325.5" r="3.6"/>
<circle cx="493.0" cy="335.1" r="3.6"/>
<circle cx="493.9" cy="266.9" r="3.6"/>
<circle cx="494.8" cy="363.1" r="3.6"/>
<circle cx="495.3" cy="262.1" r="3.6"/>
<circle cx="496.2" cy="358.5" r="3.6"/>
<circle cx="497.4" cy="341.0" r="3.6"/>
<circle cx="497.7" cy="279.7" r="3.6"/>
<circle cx="503.5" cy="228.6" r="3.6"/>
<circle cx="509.9" cy="313.8" r="3.6"/>
<circle cx="517.8" cy="310.9" r="3.6"/>
<circle cx="525.1" cy="204.4" r="3.6"/>
<circle cx="525.1" cy="278.3" r="3.6"/>
<circle cx="526.8" cy="316.8" r="3.6"/>
<circle cx="533.2" cy="312.1" r="3.6"/>
<circle cx="535.6" cy="285.3" r="3.6"/>
<circle cx="535.6" cy="308.6" r="3.6"/>
<circle cx="536.2" cy="297.2" r="3.6"/>
<circle cx="539.9" cy="357.9" r="3.6"/>
<circle cx="543.1" cy="286.7" r="3.6"/>
<circle cx="552.8" cy="343.6" r="3.6"/>
<circle cx="554.2" cy="354.7" r="3.6"/>
<circle cx="557.1" cy="294.6" r="3.6"/>
<circle cx="557.1" cy="360.2" r="3.6"/>
<circle cx="566.5" cy="349.1" r="3.6"/>
<circle cx="568.9" cy="230.3" r="3.6"/>
<circle cx="570.8" cy="325.2" r="3.6"/>
<circle cx="571.7" cy="359.0" r="3.6"/>
<circle cx="579.9" cy="362.0" r="3.6"/>
<circle cx="581.3" cy="331.0" r="3.6"/>
<circle cx="583.7" cy="300.1" r="3.6"/>
<circle cx="590.7" cy="327.0" r="3.6"/>
<circle cx="594.2" cy="329.0" r="3.6"/>
<circle cx="596.8" cy="322.6" r="3.6"/>
<circle cx="597.4" cy="242.0" r="3.6"/>
<circle cx="601.5" cy="284.4" r="3.6"/>
<circle cx="603.8" cy="346.8" r="3.6"/>
<circle cx="607.6" cy="338.6" r="3.6"/>
<circle cx="610.2" cy="303.6" r="3.6"/>
<circle cx="618.7" cy="360.8" r="3.6"/>
<circle cx="620.1" cy="310.6" r="3.6"/>
<circle cx="621.6" cy="340.4" r="3.6"/>
<circle cx="623.6" cy="251.2" r="3.6"/>
<circle cx="627.1" cy="325.5" r="3.6"/>
<circle cx="634.1" cy="280.9" r="3.6"/>
<circle cx="634.4" cy="358.2" r="3.6"/>
<circle cx="636.4" cy="363.7" r="3.6"/>
<circle cx="636.5" cy="243.2" r="3.6"/>
<circle cx="649.3" cy="329.6" r="3.6"/>
<circle cx="650.1" cy="297.5" r="3.6"/>
<circle cx="651.9" cy="324.3" r="3.6"/>
<circle cx="654.2" cy="350.3" r="3.6"/>
<circle cx="656.6" cy="322.9" r="3.6"/>
<circle cx="663.0" cy="257.9" r="3.6"/>
<circle cx="663.0" cy="266.0" r="3.6"/>
<circle cx="663.0" cy="281.2" r="3.6"/>
<circle cx="663.3" cy="311.2" r="3.6"/>
<circle cx="663.3" cy="331.3" r="3.6"/>
<circle cx="663.3" cy="353.8" r="3.6"/>
<circle cx="663.4" cy="238.5" r="3.6"/>
<circle cx="664.3" cy="219.5" r="3.6"/>
<circle cx="665.9" cy="310.6" r="3.6"/>
<circle cx="666.8" cy="276.2" r="3.6"/>
<circle cx="668.2" cy="360.8" r="3.6"/>
<circle cx="669.4" cy="322.0" r="3.6"/>
<circle cx="676.4" cy="292.9" r="3.6"/>
<circle cx="681.6" cy="361.7" r="3.6"/>
<circle cx="689.2" cy="309.8" r="3.6"/>
<circle cx="697.4" cy="360.8" r="3.6"/>
<circle cx="698.0" cy="305.4" r="3.6"/>
<circle cx="699.6" cy="236.2" r="3.6"/>
<circle cx="702.3" cy="309.5" r="3.6"/>
<circle cx="713.4" cy="361.7" r="3.6"/>
<circle cx="715.6" cy="243.2" r="3.6"/>
<circle cx="716.0" cy="320.8" r="3.6"/>
<circle cx="722.2" cy="347.1" r="3.6"/>
<circle cx="723.9" cy="327.6" r="3.6"/>
<circle cx="728.3" cy="310.9" r="3.6"/>
<circle cx="730.3" cy="352.6" r="3.6"/>
<circle cx="731.8" cy="276.8" r="3.6"/>
<circle cx="735.9" cy="277.1" r="3.6"/>
<circle cx="741.7" cy="310.1" r="3.6"/>
<circle cx="745.5" cy="363.7" r="3.6"/>
<circle cx="750.4" cy="320.0" r="3.6"/>
<circle cx="754.8" cy="317.6" r="3.6"/>
<circle cx="762.1" cy="312.7" r="3.6"/>
<circle cx="763.0" cy="336.9" r="3.6"/>
<circle cx="764.9" cy="218.7" r="3.6"/>
<circle cx="767.6" cy="315.9" r="3.6"/>
<circle cx="776.7" cy="359.9" r="3.6"/>
<circle cx="777.0" cy="278.3" r="3.6"/>
<circle cx="781.3" cy="242.3" r="3.6"/>
<circle cx="781.3" cy="306.9" r="3.6"/>
<circle cx="790.7" cy="327.6" r="3.6"/>
<circle cx="792.1" cy="347.1" r="3.6"/>
<circle cx="792.4" cy="357.9" r="3.6"/>
<circle cx="794.5" cy="317.3" r="3.6"/>
<circle cx="796.2" cy="359.6" r="3.6"/>
<circle cx="797.7" cy="290.5" r="3.6"/>
<circle cx="801.7" cy="344.8" r="3.6"/>
<circle cx="804.4" cy="338.3" r="3.6"/>
<circle cx="806.4" cy="346.8" r="3.6"/>
<circle cx="807.2" cy="247.2" r="3.6"/>
<circle cx="810.2" cy="361.4" r="3.6"/>
<circle cx="816.3" cy="361.4" r="3.6"/>
<circle cx="818.4" cy="337.5" r="3.6"/>
<circle cx="820.7" cy="306.6" r="3.6"/>
<circle cx="830.3" cy="296.1" r="3.6"/>
<circle cx="832.1" cy="274.5" r="3.6"/>
<circle cx="833.5" cy="216.6" r="3.6"/>
<circle cx="833.8" cy="142.2" r="3.6"/>
<circle cx="833.8" cy="354.4" r="3.6"/>
<circle cx="835.2" cy="221.0" r="3.6"/>
<circle cx="835.6" cy="296.1" r="3.6"/>
<circle cx="836.2" cy="360.8" r="3.6"/>
<circle cx="842.6" cy="359.0" r="3.6"/>
<circle cx="846.6" cy="302.8" r="3.6"/>
<circle cx="858.9" cy="362.0" r="3.6"/>
<circle cx="860.0" cy="246.4" r="3.6"/>
<circle cx="860.9" cy="324.9" r="3.6"/>
<circle cx="863.0" cy="319.4" r="3.6"/>
<circle cx="870.8" cy="333.1" r="3.6"/>
<circle cx="872.9" cy="305.1" r="3.6"/>
<circle cx="882.8" cy="354.7" r="3.6"/>
<circle cx="884.3" cy="362.0" r="3.6"/>
<circle cx="885.7" cy="303.6" r="3.6"/>
<circle cx="890.7" cy="279.4" r="3.6"/>
<circle cx="890.7" cy="344.8" r="3.6"/>
<circle cx="892.4" cy="321.4" r="3.6"/>
<circle cx="895.6" cy="273.3" r="3.6"/>
<circle cx="895.9" cy="353.2" r="3.6"/>
<circle cx="898.5" cy="248.4" r="3.6"/>
<circle cx="899.1" cy="317.3" r="3.6"/>
<circle cx="904.7" cy="332.5" r="3.6"/>
<circle cx="906.1" cy="357.0" r="3.6"/>
<circle cx="912.2" cy="304.5" r="3.6"/>
<circle cx="915.5" cy="353.5" r="3.6"/>
<circle cx="917.8" cy="341.5" r="3.6"/>
<circle cx="922.4" cy="346.5" r="3.6"/>
<circle cx="923.6" cy="360.2" r="3.6"/>
<circle cx="925.4" cy="318.2" r="3.6"/>
<circle cx="928.3" cy="320.6" r="3.6"/>
<circle cx="931.8" cy="329.6" r="3.6"/>
<circle cx="934.7" cy="354.4" r="3.6"/>
<circle cx="938.5" cy="241.7" r="3.6"/>
<circle cx="940.2" cy="360.2" r="3.6"/>
<circle cx="941.4" cy="330.5" r="3.6"/>
<circle cx="945.8" cy="349.7" r="3.6"/>
<circle cx="947.8" cy="343.9" r="3.6"/>
<circle cx="949.6" cy="317.6" r="3.6"/>
<circle cx="951.9" cy="209.9" r="3.6"/>
<circle cx="951.9" cy="283.5" r="3.6"/>
<circle cx="956.9" cy="359.0" r="3.6"/>
<circle cx="959.5" cy="335.4" r="3.6"/>
<circle cx="960.9" cy="343.9" r="3.6"/>
<circle cx="961.0" cy="200.6" r="3.6"/>
<circle cx="963.3" cy="311.8" r="3.6"/>
<circle cx="964.4" cy="291.1" r="3.6"/>
<circle cx="964.7" cy="355.8" r="3.6"/>
<circle cx="971.7" cy="296.1" r="3.6"/>
<circle cx="972.9" cy="319.1" r="3.6"/>
<circle cx="977.6" cy="335.4" r="3.6"/>
<circle cx="979.3" cy="330.8" r="3.6"/>
<circle cx="984.5" cy="327.0" r="3.6"/>
<circle cx="988.6" cy="322.6" r="3.6"/>
<circle cx="988.9" cy="361.7" r="3.6"/>
<circle cx="993.3" cy="310.1" r="3.6"/>
<circle cx="993.7" cy="241.7" r="3.6"/>
<circle cx="997.1" cy="310.9" r="3.6"/>
<circle cx="998.3" cy="291.7" r="3.6"/>
<circle cx="999.7" cy="302.5" r="3.6"/>
<circle cx="1002.3" cy="301.9" r="3.6"/>
<circle cx="1002.3" cy="320.0" r="3.6"/>
<circle cx="1003.8" cy="348.8" r="3.6"/>
<circle cx="1005.2" cy="285.3" r="3.6"/>
<circle cx="1011.4" cy="307.7" r="3.6"/>
<circle cx="1014.3" cy="341.8" r="3.6"/>
<circle cx="1019.8" cy="359.0" r="3.6"/>
<circle cx="1023.3" cy="353.8" r="3.6"/>
<circle cx="1024.5" cy="316.2" r="3.6"/>
<circle cx="1026.2" cy="301.9" r="3.6"/>
<circle cx="1032.4" cy="346.2" r="3.6"/>
<circle cx="1034.4" cy="362.0" r="3.6"/>
<circle cx="1037.6" cy="282.4" r="3.6"/>
<circle cx="1051.0" cy="299.3" r="3.6"/>
<circle cx="1051.3" cy="361.7" r="3.6"/>
<circle cx="1056.6" cy="313.6" r="3.6"/>
<circle cx="1059.0" cy="242.6" r="3.6"/>
<circle cx="1059.5" cy="315.0" r="3.6"/>
<circle cx="1059.5" cy="342.4" r="3.6"/>
<circle cx="1064.1" cy="299.6" r="3.6"/>
<circle cx="1066.5" cy="347.7" r="3.6"/>
<circle cx="1069.1" cy="280.9" r="3.6"/>
<circle cx="1073.5" cy="344.8" r="3.6"/>
<circle cx="1075.5" cy="338.6" r="3.6"/>
<circle cx="1077.6" cy="306.0" r="3.6"/>
<circle cx="1081.3" cy="362.2" r="3.6"/>
<circle cx="1085.7" cy="340.7" r="3.6"/>
<circle cx="1087.2" cy="328.7" r="3.6"/>
<circle cx="1090.7" cy="359.0" r="3.6"/>
<circle cx="1090.8" cy="245.8" r="3.6"/>
<circle cx="1091.8" cy="316.8" r="3.6"/>
<circle cx="1098.3" cy="314.4" r="3.6"/>
<circle cx="1100.9" cy="335.7" r="3.6"/>
<circle cx="1102.6" cy="324.3" r="3.6"/>
<circle cx="1103.9" cy="244.6" r="3.6"/>
<circle cx="1114.3" cy="272.2" r="3.6"/>
<circle cx="1117.4" cy="235.0" r="3.6"/>
<circle cx="1117.5" cy="310.6" r="3.6"/>
<circle cx="1124.5" cy="300.7" r="3.6"/>
<circle cx="1128.6" cy="275.7" r="3.6"/>
<circle cx="1130.3" cy="304.2" r="3.6"/>
<circle cx="1142.3" cy="271.0" r="3.6"/>
<circle cx="1142.3" cy="365.7" r="3.6"/>
<circle cx="1144.0" cy="309.8" r="3.6"/>
<circle cx="1146.6" cy="331.9" r="3.6"/>
<circle cx="1156.0" cy="336.3" r="3.6"/>
<circle cx="1156.6" cy="343.6" r="3.6"/>
<circle cx="1156.9" cy="296.9" r="3.6"/>
<circle cx="1157.1" cy="350.6" r="3.6"/>
<circle cx="1157.3" cy="227.1" r="3.6"/>
<circle cx="1162.1" cy="360.8" r="3.6"/>
<circle cx="1164.1" cy="348.5" r="3.6"/>
<circle cx="1170.8" cy="305.1" r="3.6"/>
<circle cx="1175.2" cy="280.6" r="3.6"/>
<circle cx="1177.8" cy="292.3" r="3.6"/>
<circle cx="1179.9" cy="360.8" r="3.6"/>
<circle cx="1184.0" cy="301.6" r="3.6"/>
<circle cx="1186.9" cy="319.4" r="3.6"/>
<circle cx="1190.1" cy="288.8" r="3.6"/>
<circle cx="1191.5" cy="334.8" r="3.6"/>
<circle cx="1193.6" cy="310.6" r="3.6"/>
<circle cx="1197.1" cy="305.4" r="3.6"/>
<circle cx="1210.5" cy="306.0" r="3.6"/>
<circle cx="1213.1" cy="308.6" r="3.6"/>
<circle cx="1223.0" cy="308.0" r="3.6"/>
<circle cx="1223.9" cy="304.5" r="3.6"/>
<circle cx="1230.3" cy="330.5" r="3.6"/>
<circle cx="1234.7" cy="323.5" r="3.6"/>
<circle cx="1237.0" cy="311.8" r="3.6"/>
<circle cx="1240.5" cy="314.1" r="3.6"/>
<circle cx="1241.7" cy="337.5" r="3.6"/>
<circle cx="1243.4" cy="352.3" r="3.6"/>
<circle cx="1250.4" cy="308.6" r="3.6"/>
<circle cx="1255.1" cy="229.2" r="3.6"/>
<circle cx="1255.4" cy="325.2" r="3.6"/>
<circle cx="1259.5" cy="323.5" r="3.6"/>
<circle cx="1262.7" cy="314.4" r="3.6"/>
<circle cx="1263.5" cy="248.4" r="3.6"/>
<circle cx="1264.1" cy="321.4" r="3.6"/>
<circle cx="1270.3" cy="333.1" r="3.6"/>
<circle cx="1273.2" cy="312.4" r="3.6"/>
<circle cx="1276.1" cy="360.2" r="3.6"/>
<circle cx="1277.3" cy="310.6" r="3.6"/>
<circle cx="1282.8" cy="337.5" r="3.6"/>
<circle cx="1284.5" cy="334.5" r="3.6"/>
<circle cx="1287.8" cy="293.4" r="3.6"/>
<circle cx="1288.0" cy="230.9" r="3.6"/>
<circle cx="1290.4" cy="302.8" r="3.6"/>
<circle cx="1291.5" cy="360.8" r="3.6"/>
<circle cx="1296.5" cy="277.7" r="3.6"/>
<circle cx="1298.0" cy="324.6" r="3.6"/>
<circle cx="1303.8" cy="308.9" r="3.6"/>
<circle cx="1307.3" cy="360.5" r="3.6"/>
<circle cx="1310.2" cy="334.5" r="3.6"/>
<circle cx="1311.7" cy="341.8" r="3.6"/>
<circle cx="1316.9" cy="293.4" r="3.6"/>
<circle cx="1317.2" cy="299.3" r="3.6"/>
<circle cx="1320.7" cy="224.7" r="3.6"/>
<circle cx="1321.3" cy="363.1" r="3.6"/>
<circle cx="1323.4" cy="338.0" r="3.6"/>
<circle cx="1325.4" cy="341.5" r="3.6"/>
<circle cx="1330.3" cy="324.9" r="3.6"/>
<circle cx="1337.9" cy="332.5" r="3.6"/>
<circle cx="1340.0" cy="311.2" r="3.6"/>
<circle cx="1341.7" cy="280.3" r="3.6"/>
<circle cx="1342.0" cy="359.3" r="3.6"/>
<circle cx="1343.5" cy="301.6" r="3.6"/>
<circle cx="1345.8" cy="346.5" r="3.6"/>
<circle cx="1347.6" cy="306.3" r="3.6"/>
<circle cx="1353.4" cy="264.3" r="3.6"/>
<circle cx="1354.5" cy="362.2" r="3.6"/>
<circle cx="1356.6" cy="310.6" r="3.6"/>
<circle cx="1362.7" cy="314.1" r="3.6"/>
<circle cx="1370.6" cy="309.8" r="3.6"/>
<circle cx="1373.8" cy="314.7" r="3.6"/>
<circle cx="1383.4" cy="281.5" r="3.6"/>
<circle cx="1386.0" cy="235.2" r="3.6"/>
<circle cx="1387.5" cy="359.9" r="3.6"/>
<circle cx="1389.5" cy="362.2" r="3.6"/>
<circle cx="1396.5" cy="262.2" r="3.6"/>
<circle cx="1398.0" cy="314.1" r="3.6"/>
<circle cx="1403.5" cy="301.3" r="3.6"/>
<circle cx="1408.8" cy="314.7" r="3.6"/>
<circle cx="1410.2" cy="270.1" r="3.6"/>
<circle cx="1410.5" cy="340.1" r="3.6"/>
<circle cx="1412.0" cy="353.5" r="3.6"/>
<circle cx="1417.2" cy="306.6" r="3.6"/>
<circle cx="1418.7" cy="227.0" r="3.6"/>
<circle cx="1424.2" cy="278.6" r="3.6"/>
<circle cx="1424.2" cy="357.9" r="3.6"/>
<circle cx="1425.4" cy="327.3" r="3.6"/>
<circle cx="1428.9" cy="322.6" r="3.6"/>
<circle cx="1428.9" cy="347.1" r="3.6"/>
<circle cx="1431.8" cy="315.6" r="3.6"/>
<circle cx="1434.1" cy="362.2" r="3.6"/>
<circle cx="1437.9" cy="347.4" r="3.6"/>
<circle cx="1443.2" cy="340.1" r="3.6"/>
<circle cx="1449.9" cy="308.6" r="3.6"/>
<circle cx="1451.3" cy="291.1" r="3.6"/>
<circle cx="1452.8" cy="341.0" r="3.6"/>
<circle cx="1457.7" cy="168.4" r="3.6"/>
<circle cx="1457.8" cy="307.4" r="3.6"/>
<circle cx="1457.8" cy="338.3" r="3.6"/>
<circle cx="1464.8" cy="362.2" r="3.6"/>
<circle cx="1465.9" cy="348.8" r="3.6"/>
<circle cx="1468.3" cy="324.3" r="3.6"/>
<circle cx="1475.5" cy="304.5" r="3.6"/>
<circle cx="1479.0" cy="346.8" r="3.6"/>
<circle cx="1482.8" cy="359.3" r="3.6"/>
<circle cx="1483.7" cy="339.2" r="3.6"/>
<circle cx="1484.0" cy="201.7" r="3.6"/>
<circle cx="1487.2" cy="358.7" r="3.6"/>
<circle cx="1490.1" cy="330.2" r="3.6"/>
<circle cx="1492.4" cy="278.0" r="3.6"/>
<circle cx="1493.6" cy="345.6" r="3.6"/>
<circle cx="1500.9" cy="293.7" r="3.6"/>
<circle cx="1506.4" cy="348.3" r="3.6"/>
<circle cx="1508.2" cy="245.7" r="3.6"/>
<circle cx="1508.2" cy="252.3" r="3.6"/>
<circle cx="1509.6" cy="248.9" r="3.6"/>
<circle cx="1511.4" cy="224.4" r="3.6"/>
<circle cx="1514.6" cy="301.0" r="3.6"/>
<circle cx="1516.6" cy="337.5" r="3.6"/>
<circle cx="1516.9" cy="195.3" r="3.6"/>
<circle cx="1521.3" cy="362.8" r="3.6"/>
</g>
<g stroke="#000" stroke-width="1" fill="none" shape-rendering="crispEdges">
<line x1="88.5" y1="124" x2="88.5" y2="397"/>
<line x1="88" y1="396.5" x2="1543" y2="396.5"/>
</g><g stroke="#000" stroke-width="1" fill="none" shape-rendering="crispEdges">
<line x1="88" y1="390.5" x2="93" y2="390.5"/>
<line x1="88" y1="378.5" x2="99" y2="378.5"/>
<line x1="88" y1="368.5" x2="93" y2="368.5"/>
<line x1="88" y1="356.5" x2="93" y2="356.5"/>
<line x1="88" y1="346.5" x2="93" y2="346.5"/>
<line x1="88" y1="334.5" x2="93" y2="334.5"/>
<line x1="88" y1="324.5" x2="99" y2="324.5"/>
<line x1="88" y1="312.5" x2="93" y2="312.5"/>
<line x1="88" y1="300.5" x2="93" y2="300.5"/>
<line x1="88" y1="290.5" x2="93" y2="290.5"/>
<line x1="88" y1="278.5" x2="93" y2="278.5"/>
<line x1="88" y1="268.5" x2="99" y2="268.5"/>
<line x1="88" y1="256.5" x2="93" y2="256.5"/>
<line x1="88" y1="246.5" x2="93" y2="246.5"/>
<line x1="88" y1="234.5" x2="93" y2="234.5"/>
<line x1="88" y1="224.5" x2="93" y2="224.5"/>
<line x1="88" y1="212.5" x2="99" y2="212.5"/>
<line x1="88" y1="202.5" x2="93" y2="202.5"/>
<line x1="88" y1="190.5" x2="93" y2="190.5"/>
<line x1="88" y1="178.5" x2="93" y2="178.5"/>
<line x1="88" y1="168.5" x2="93" y2="168.5"/>
<line x1="88" y1="156.5" x2="99" y2="156.5"/>
<line x1="88" y1="146.5" x2="93" y2="146.5"/>
<line x1="88" y1="134.5" x2="93" y2="134.5"/>
<line x1="108.5" y1="397" x2="108.5" y2="386"/>
<line x1="174.5" y1="397" x2="174.5" y2="392"/>
<line x1="239.5" y1="397" x2="239.5" y2="392"/>
<line x1="305.5" y1="397" x2="305.5" y2="392"/>
<line x1="370.5" y1="397" x2="370.5" y2="392"/>
<line x1="436.5" y1="397" x2="436.5" y2="386"/>
<line x1="501.5" y1="397" x2="501.5" y2="392"/>
<line x1="566.5" y1="397" x2="566.5" y2="392"/>
<line x1="632.5" y1="397" x2="632.5" y2="392"/>
<line x1="697.5" y1="397" x2="697.5" y2="392"/>
<line x1="762.5" y1="397" x2="762.5" y2="386"/>
<line x1="827.5" y1="397" x2="827.5" y2="392"/>
<line x1="892.5" y1="397" x2="892.5" y2="392"/>
<line x1="958.5" y1="397" x2="958.5" y2="392"/>
<line x1="1023.5" y1="397" x2="1023.5" y2="392"/>
<line x1="1088.5" y1="397" x2="1088.5" y2="386"/>
<line x1="1154.5" y1="397" x2="1154.5" y2="392"/>
<line x1="1219.5" y1="397" x2="1219.5" y2="392"/>
<line x1="1285.5" y1="397" x2="1285.5" y2="392"/>
<line x1="1350.5" y1="397" x2="1350.5" y2="392"/>
<line x1="1416.5" y1="397" x2="1416.5" y2="386"/>
<line x1="1482.5" y1="397" x2="1482.5" y2="392"/>
</g>
<g font-size="26.5" fill="#000" text-anchor="middle">
<text x="107.9" y="427.2" textLength="15.8" lengthAdjust="spacingAndGlyphs">0</text>
<text x="435.3" y="427.2" textLength="27.8" lengthAdjust="spacingAndGlyphs">10</text>
<text x="762.2" y="427.2" textLength="31.4" lengthAdjust="spacingAndGlyphs">20</text>
<text x="1088.6" y="427.2" textLength="32.0" lengthAdjust="spacingAndGlyphs">30</text>
<text x="1416.0" y="427.2" textLength="32.2" lengthAdjust="spacingAndGlyphs">40</text>
</g>
<g font-size="26.5" fill="#204a87" text-anchor="end">
<text x="75.8" y="387.8" textLength="15.8" lengthAdjust="spacingAndGlyphs">0</text>
<text x="75.8" y="333.8" textLength="15.8" lengthAdjust="spacingAndGlyphs">1</text>
<text x="75.8" y="277.8" textLength="15.8" lengthAdjust="spacingAndGlyphs">2</text>
<text x="75.8" y="221.8" textLength="15.8" lengthAdjust="spacingAndGlyphs">3</text>
<text x="75.8" y="165.8" textLength="15.8" lengthAdjust="spacingAndGlyphs">4</text>
</g>
<text x="814.2" y="466.1" font-size="26" fill="#000" text-anchor="middle" textLength="96" lengthAdjust="spacingAndGlyphs">Time (s)</text>
<text transform="translate(31.7 260.3) rotate(-90)" font-size="26" fill="#204a87" text-anchor="middle" textLength="253.6" lengthAdjust="spacingAndGlyphs">Round Trip Time (ms)</text>
<text x="423.3" y="26.9" font-size="26" fill="#000" textLength="233.27" lengthAdjust="spacingAndGlyphs">Round Trip Time for</text>
<text x="664.08" y="26.9" font-size="26" fill="#000" textLength="132.12" lengthAdjust="spacingAndGlyphs">172.31.82.1</text>
<text x="796.47" y="26.9" font-size="26" fill="#000" textLength="73.64" lengthAdjust="spacingAndGlyphs">:8000</text>
<text x="905.61" y="26.9" font-size="26" fill="#000" textLength="150.74" lengthAdjust="spacingAndGlyphs">172.31.91.35</text>
<text x="1056.42" y="26.9" font-size="26" fill="#000" textLength="88.31" lengthAdjust="spacingAndGlyphs">:49338</text>
<text transform="translate(888.6 28.6) scale(0.62 1)" font-size="31" fill="#000" stroke="#000" stroke-width="0.5" text-anchor="middle" style="font-family:'Noto Sans CJK JP',sans-serif">→</text>
<text x="784.5" y="76.8" font-size="26" fill="#000" text-anchor="middle" textLength="131" lengthAdjust="spacingAndGlyphs">client.pcap</text>
<text x="21.9" y="42.3" font-size="37.3" fill="#e73a1c" stroke="#fff" stroke-width="0.55" paint-order="fill stroke" textLength="202.6" lengthAdjust="spacingAndGlyphs">exp-bdw-50</text>
</svg></body></html>
